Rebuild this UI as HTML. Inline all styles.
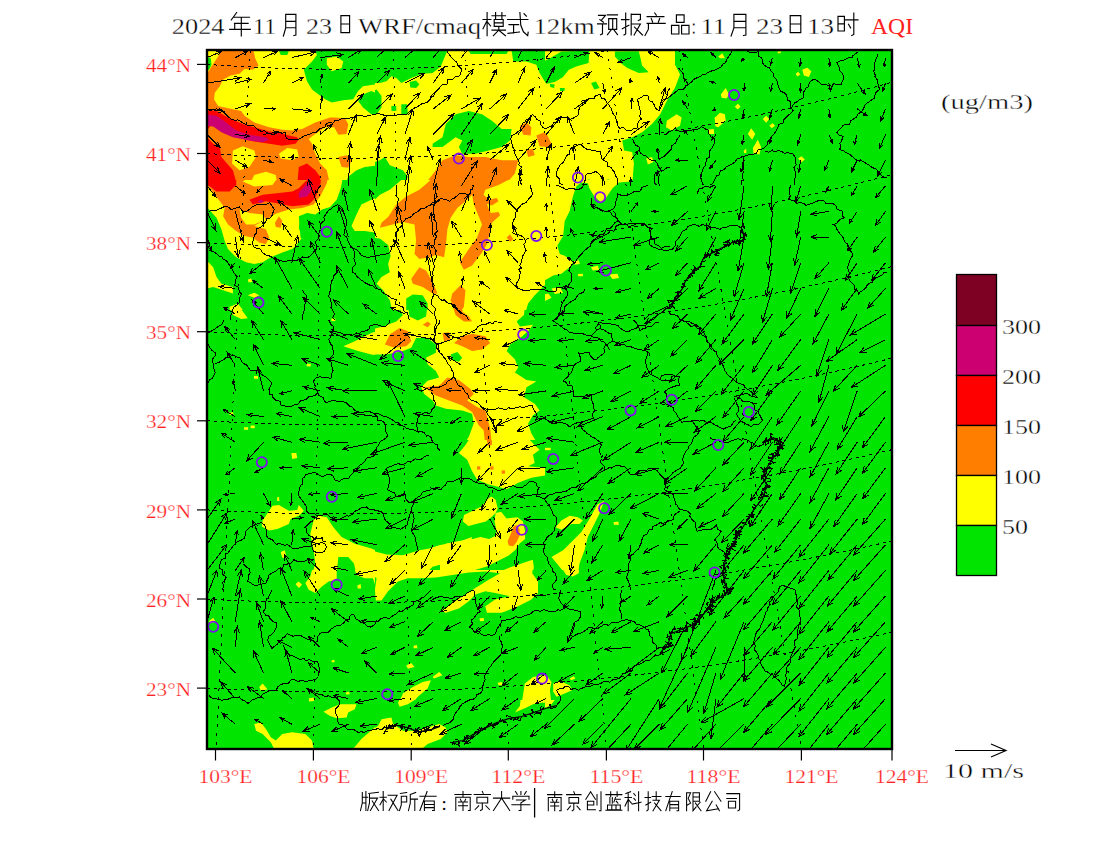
<!DOCTYPE html>
<html><head><meta charset="utf-8"><style>
html,body{margin:0;padding:0;background:#fff;width:1100px;height:850px;overflow:hidden}
svg{display:block}
text{font-family:"Liberation Serif",serif}
.lab{font-size:19px;stroke:#fff;stroke-width:0.25px}
.leg{font-size:21px;stroke:#fff;stroke-width:0.35px}
</style></head><body>
<svg width="1100" height="850" viewBox="0 0 1100 850">
<rect x="207" y="50" width="685" height="699" fill="#00E400"/>
<defs>
<clipPath id="cz1"><rect x="207" y="50" width="168" height="130"/></clipPath>
<clipPath id="cz2"><rect x="375" y="50" width="170" height="130"/></clipPath>
<clipPath id="cz3"><rect x="545" y="50" width="172" height="130"/></clipPath>
<clipPath id="cz4"><rect x="717" y="50" width="175" height="130"/></clipPath>
<clipPath id="cz5"><rect x="207" y="180" width="168" height="130"/></clipPath>
<clipPath id="cz6"><rect x="375" y="180" width="170" height="130"/></clipPath>
<clipPath id="cz7"><rect x="545" y="180" width="172" height="130"/></clipPath>
<clipPath id="cz9"><rect x="207" y="310" width="168" height="130"/></clipPath>
<clipPath id="cz10"><rect x="375" y="310" width="170" height="130"/></clipPath>
<clipPath id="cz13"><rect x="207" y="440" width="168" height="130"/></clipPath>
<clipPath id="cz14"><rect x="375" y="440" width="170" height="130"/></clipPath>
<clipPath id="cz15"><rect x="545" y="440" width="172" height="130"/></clipPath>
<clipPath id="cz17"><rect x="207" y="570" width="168" height="130"/></clipPath>
<clipPath id="cz18"><rect x="375" y="570" width="170" height="130"/></clipPath>
<clipPath id="cz19"><rect x="545" y="570" width="172" height="130"/></clipPath>
<clipPath id="cz21"><rect x="207" y="700" width="168" height="48"/></clipPath>
<clipPath id="cz22"><rect x="375" y="700" width="170" height="48"/></clipPath>
<clipPath id="cz23"><rect x="545" y="700" width="172" height="48"/></clipPath>
<clipPath id="cz114"><rect x="375" y="440" width="170" height="130"/></clipPath>
</defs>
<path clip-path="url(#cz1)" fill="#FFFF00" d="M207.0,50.0 375.0,50.0 375.0,180.0 207.0,180.0Z"/>
<path clip-path="url(#cz2)" fill="#FFFF00" d="M375.0,50.0 545.0,50.0 545.0,180.0 375.0,180.0Z"/>
<path clip-path="url(#cz3)" fill="#FFFF00" d="M545.0,50.0 717.0,50.0 717.0,180.0 545.0,180.0Z"/>
<path clip-path="url(#cz5)" fill="#FFFF00" d="M206.9,175.0 343.3,175.0 340.8,188.2 336.7,199.7 330.1,207.1 321.9,209.6 315.3,214.5 307.0,212.9 300.5,217.8 298.8,227.7 302.1,237.6 297.2,244.2 292.2,249.1 282.3,252.4 270.8,257.3 262.6,262.3 254.3,263.9 246.1,262.3 236.2,257.3 228.0,249.1 224.7,240.9 221.4,229.3 216.5,217.8 209.9,210.4 206.9,207.1Z"/>
<path clip-path="url(#cz5)" fill="#FFFF00" d="M351.5,226.1 356.5,214.5 361.4,204.6 371.3,199.7 380.0,196.4 380.0,234.3 374.6,232.6 364.7,231.0 354.8,231.0Z"/>
<path clip-path="url(#cz5)" fill="#FFFF00" d="M206.9,260.6 213.2,267.2 216.5,277.1 221.4,283.7 232.9,287.0 232.9,293.6 223.1,290.3 213.2,287.0 206.9,288.6Z"/>
<path clip-path="url(#cz5)" fill="#FFFF00" d="M229.6,306.7 237.9,303.5 242.8,310.0 242.8,315.0 229.6,315.0Z"/>
<path clip-path="url(#cz5)" fill="#FFFF00" d="M247.8,295.2 254.3,292.7 259.3,295.2 254.3,297.7Z"/>
<path clip-path="url(#cz5)" fill="#FFFF00" d="M247.8,279.6 251.1,278.4 252.4,281.7 248.6,282.4Z"/>
<path clip-path="url(#cz6)" fill="#FFFF00" d="M375.0,180.0 545.0,180.0 545.0,310.0 375.0,310.0Z"/>
<path clip-path="url(#cz7)" fill="#FFFF00" d="M540.0,175.0 632.2,175.0 631.4,181.6 619.0,182.4 612.5,188.2 605.9,198.1 600.9,202.2 594.3,196.4 589.4,188.2 587.8,183.2 581.2,182.4 576.2,186.5 572.9,196.4 569.6,211.2 564.7,221.1 563.1,235.9 557.3,245.8 559.8,254.0 564.7,255.7 572.9,262.3 569.6,267.2 561.4,273.8 553.2,275.5 544.9,280.4 540.0,282.0Z"/>
<path clip-path="url(#cz7)" fill="#FFFF00" d="M540.0,295.2 548.2,293.6 551.5,297.7 544.9,301.0 540.0,301.0Z"/>
<path clip-path="url(#cz7)" fill="#FFFF00" d="M551.5,288.6 559.8,287.0 563.1,292.7 554.8,293.9Z"/>
<path clip-path="url(#cz7)" fill="#FFFF00" d="M572.9,261.5 578.7,260.3 579.9,263.9 574.6,264.8Z"/>
<path clip-path="url(#cz7)" fill="#FFFF00" d="M591.1,267.2 597.6,265.6 599.3,269.7 592.7,270.5Z"/>
<path clip-path="url(#cz7)" fill="#FFFF00" d="M609.2,274.6 617.4,273.8 619.0,277.9 612.5,279.1Z"/>
<path clip-path="url(#cz7)" fill="#FFFF00" d="M577.9,274.1 582.8,273.8 582.8,276.3 578.2,276.3Z"/>
<path clip-path="url(#cz9)" fill="#FFFF00" d="M229.6,305.0 237.9,305.0 242.8,311.6 247.8,318.2 241.2,319.0 232.9,314.9 231.3,309.9Z"/>
<path clip-path="url(#cz9)" fill="#FFFF00" d="M343.3,346.2 354.8,341.2 364.7,336.3 372.9,332.2 380.0,331.3 380.0,356.1 371.3,354.4 358.1,351.1Z"/>
<path clip-path="url(#cz9)" fill="#FFFF00" d="M306.7,363.8 310.7,363.8 310.7,366.4 306.7,366.4Z"/>
<path clip-path="url(#cz9)" fill="#FFFF00" d="M254.0,376.1 258.0,376.1 258.0,378.8 254.0,378.8Z"/>
<path clip-path="url(#cz9)" fill="#FFFF00" d="M331.4,318.5 335.4,318.5 335.4,321.1 331.4,321.1Z"/>
<path clip-path="url(#cz9)" fill="#FFFF00" d="M244.1,427.2 248.1,427.2 248.1,429.8 244.1,429.8Z"/>
<path clip-path="url(#cz9)" fill="#FFFF00" d="M250.7,425.5 254.7,425.5 254.7,428.2 250.7,428.2Z"/>
<path clip-path="url(#cz9)" fill="#FFFF00" d="M229.3,412.4 233.3,412.4 233.3,415.0 229.3,415.0Z"/>
<path clip-path="url(#cz10)" fill="#FFFF00" d="M370.0,329.7 383.2,326.4 396.3,321.5 402.9,314.9 399.6,308.3 393.1,305.0 524.8,305.0 524.0,314.9 516.6,321.5 519.9,326.4 533.0,324.8 528.1,331.3 518.2,339.6 510.0,344.5 506.7,351.1 514.9,359.3 518.2,367.6 514.9,372.5 526.5,379.9 536.3,381.6 526.5,387.3 524.0,397.2 534.7,403.8 539.6,410.4 533.0,415.3 528.1,423.6 531.4,433.5 536.3,441.7 534.7,445.0 463.9,445.0 468.8,436.7 473.8,423.6 472.1,413.7 462.2,410.4 445.8,408.8 435.9,405.5 432.6,400.5 424.3,393.9 421.1,387.3 427.6,380.8 439.2,377.5 435.9,370.9 427.6,364.3 426.0,357.7 435.9,352.8 435.9,344.5 427.6,337.9 416.1,337.9 411.2,347.8 402.9,351.1 386.5,354.4 370.0,354.4Z"/>
<path clip-path="url(#cz13)" fill="#FFFF00" d="M262.6,520.6 272.5,505.8 279.0,505.0 288.9,510.8 297.2,509.9 298.8,505.0 303.8,510.8 298.8,515.7 290.6,519.0 288.9,523.9 277.4,528.9 269.2,530.5 261.8,526.4Z"/>
<path clip-path="url(#cz13)" fill="#FFFF00" d="M310.3,533.8 313.6,520.6 318.6,515.7 326.8,517.3 333.4,527.2 341.6,537.1 354.8,543.7 371.3,548.6 380.0,551.9 380.0,575.0 356.5,575.0 354.0,563.5 348.2,556.9 338.3,556.9 336.7,575.0 312.0,575.0 315.3,563.5 313.6,550.3 312.0,542.0Z"/>
<path clip-path="url(#cz13)" fill="#FFFF00" d="M280.7,551.9 284.8,550.3 286.5,557.7 282.3,557.7Z"/>
<path clip-path="url(#cz13)" fill="#FFFF00" d="M291.4,453.1 296.3,453.1 297.2,458.1 292.2,458.9Z"/>
<path clip-path="url(#cz13)" fill="#FFFF00" d="M277.1,497.6 279.0,496.8 279.4,500.9 277.1,500.9Z"/>
<path clip-path="url(#cz14)" fill="#FFFF00" d="M468.8,435.0 524.8,435.0 534.7,444.9 539.6,449.8 533.0,454.8 534.7,463.0 528.1,466.3 544.6,467.9 550.0,467.1 550.0,474.5 531.4,477.8 518.2,482.8 506.7,489.3 495.2,486.1 488.6,484.4 477.0,479.5 472.1,471.2 467.2,459.7 458.9,453.1 465.5,444.9 468.8,439.9Z"/>
<path clip-path="url(#cz14)" fill="#FFFF00" d="M370.0,550.3 386.5,554.4 402.9,555.2 419.4,550.3 429.3,548.6 439.2,545.3 462.2,540.4 472.1,537.1 468.8,550.3 444.1,563.5 432.6,566.7 424.3,575.0 370.0,575.0Z"/>
<path clip-path="url(#cz15)" fill="#FFFF00" d="M551.5,556.9 563.1,550.3 572.9,540.4 581.2,532.2 589.4,519.0 597.6,504.2 604.2,500.9 599.3,514.0 592.7,527.2 587.8,537.1 584.5,550.3 579.5,563.5 577.9,575.0 566.3,575.0 558.1,565.1Z"/>
<path clip-path="url(#cz15)" fill="#FFFF00" d="M555.6,527.2 561.4,520.6 569.6,515.7 577.9,517.3 582.8,520.6 579.5,523.9 571.3,523.9 561.4,529.7Z"/>
<path clip-path="url(#cz15)" fill="#FFFF00" d="M541.6,447.8 550.7,447.8 550.7,450.2 541.6,450.2Z"/>
<path clip-path="url(#cz15)" fill="#FFFF00" d="M613.3,522.3 618.2,521.5 619.0,524.8 614.1,524.8Z"/>
<path clip-path="url(#cz15)" fill="#FFFF00" d="M540.0,469.6 544.9,470.4 544.1,472.9 540.0,472.9Z"/>
<path clip-path="url(#cz17)" fill="#FFFF00" d="M312.0,569.9 318.6,565.0 336.7,565.0 336.7,579.8 328.5,581.5 321.9,586.4 315.3,593.0 308.7,589.7 305.4,583.1 310.3,576.5Z"/>
<path clip-path="url(#cz17)" fill="#FFFF00" d="M354.8,565.0 380.0,565.0 380.0,599.6 376.2,597.9 376.2,588.1 372.9,578.2 364.7,578.2 356.5,574.9 354.8,569.9Z"/>
<path clip-path="url(#cz17)" fill="#FFFF00" d="M295.5,583.9 298.8,581.5 302.1,584.8 298.8,588.1Z"/>
<path clip-path="url(#cz17)" fill="#FFFF00" d="M209.1,621.0 213.2,617.7 215.6,621.8 209.9,623.5Z"/>
<path clip-path="url(#cz17)" fill="#FFFF00" d="M259.3,686.9 262.6,683.6 267.5,689.3 260.9,691.0Z"/>
<path clip-path="url(#cz17)" fill="#FFFF00" d="M357.3,585.6 360.6,583.9 361.1,588.4 357.8,588.4Z"/>
<path clip-path="url(#cz17)" fill="#FFFF00" d="M331.7,660.5 334.2,659.7 334.7,662.2 331.7,662.2Z"/>
<path clip-path="url(#cz17)" fill="#FFFF00" d="M308.7,698.4 313.6,697.6 314.5,701.7 309.5,701.7Z"/>
<path clip-path="url(#cz17)" fill="#FFFF00" d="M345.7,692.6 349.0,691.8 349.9,694.3 346.2,694.6Z"/>
<path clip-path="url(#cz17)" fill="#FFFF00" d="M341.6,703.3 354.8,702.5 356.5,705.0 341.6,705.0Z"/>
<path clip-path="url(#cz18)" fill="#FFFF00" d="M370.0,565.0 533.0,565.0 532.2,573.2 538.0,581.5 538.0,593.0 531.4,599.6 518.2,606.2 501.7,612.8 486.9,612.8 485.3,606.2 495.2,599.6 510.0,596.3 495.2,593.0 485.3,591.3 475.4,594.6 468.8,601.2 458.9,608.6 445.8,612.8 440.8,611.1 452.3,602.9 465.5,594.6 475.4,588.1 488.6,579.8 500.1,573.2 485.3,571.6 468.8,572.4 452.3,574.9 435.9,577.4 419.4,578.2 407.9,578.2 398.0,581.5 388.1,591.3 381.5,600.4 375.8,600.4 374.9,589.7 376.6,578.2 370.0,573.2Z"/>
<path clip-path="url(#cz18)" fill="#FFFF00" d="M398.0,705.0 402.9,693.5 412.8,686.9 422.7,681.9 430.9,680.3 427.6,688.5 417.8,696.7 411.2,705.0Z"/>
<path clip-path="url(#cz18)" fill="#FFFF00" d="M521.5,705.0 524.8,683.6 533.0,677.0 542.9,675.3 550.0,673.7 550.0,705.0Z"/>
<path clip-path="url(#cz18)" fill="#FFFF00" d="M432.6,677.0 439.2,672.0 442.5,675.3 434.2,678.6Z"/>
<path clip-path="url(#cz18)" fill="#FFFF00" d="M406.2,665.5 411.2,663.0 414.5,667.1 407.9,668.8Z"/>
<path clip-path="url(#cz18)" fill="#FFFF00" d="M413.6,645.7 416.9,644.9 417.4,648.2 413.6,648.2Z"/>
<path clip-path="url(#cz18)" fill="#FFFF00" d="M479.5,618.5 483.6,617.7 484.0,621.0 480.0,621.3Z"/>
<path clip-path="url(#cz18)" fill="#FFFF00" d="M497.6,682.7 501.7,681.9 502.6,685.2 498.5,685.2Z"/>
<path clip-path="url(#cz19)" fill="#FFFF00" d="M559.8,565.0 579.5,565.0 578.7,573.2 572.9,576.5 566.3,574.9Z"/>
<path clip-path="url(#cz19)" fill="#FFFF00" d="M540.0,677.0 546.6,675.3 551.5,681.9 549.9,690.2 551.5,705.0 540.0,705.0Z"/>
<path clip-path="url(#cz19)" fill="#FFFF00" d="M553.2,683.6 559.8,681.1 569.6,685.2 572.1,690.2 564.7,693.5 556.5,696.7 553.2,691.8Z"/>
<path clip-path="url(#cz19)" fill="#FFFF00" d="M569.6,678.6 573.8,676.2 575.4,678.6 571.3,680.3Z"/>
<path clip-path="url(#cz21)" fill="#FFFF00" d="M254.3,724.1 260.9,722.5 265.9,729.0 270.8,737.3 275.8,740.6 282.3,734.0 292.2,732.3 305.4,734.0 312.0,740.6 313.6,748.8 274.1,748.8 270.8,742.2 262.6,734.0 256.0,730.7Z"/>
<path clip-path="url(#cz21)" fill="#FFFF00" d="M323.5,711.8 331.7,707.6 340.0,704.3 356.5,704.3 354.8,709.3 348.2,712.6 346.6,717.5 336.7,718.3 330.1,715.9Z"/>
<path clip-path="url(#cz21)" fill="#FFFF00" d="M353.2,748.8 361.4,738.9 372.9,729.0 380.0,722.5 380.0,748.8Z"/>
<path clip-path="url(#cz21)" fill="#FFFF00" d="M259.3,685.4 261.8,683.8 268.3,689.5 262.6,691.2Z"/>
<path clip-path="url(#cz21)" fill="#FFFF00" d="M308.7,698.6 313.6,697.8 314.0,701.1 309.0,701.4Z"/>
<path clip-path="url(#cz21)" fill="#FFFF00" d="M332.6,660.7 335.0,660.2 335.0,662.4 332.6,662.4Z"/>
<path clip-path="url(#cz21)" fill="#FFFF00" d="M346.6,693.1 349.0,692.5 349.5,694.5 346.6,694.5Z"/>
<path clip-path="url(#cz22)" fill="#FFFF00" d="M398.0,702.7 402.9,692.8 412.8,686.2 424.3,681.3 430.9,681.3 426.0,689.5 417.8,697.8 407.9,704.3 399.6,706.8Z"/>
<path clip-path="url(#cz22)" fill="#FFFF00" d="M406.2,666.5 411.2,664.0 414.1,666.5 411.2,668.9 407.1,668.4Z"/>
<path clip-path="url(#cz22)" fill="#FFFF00" d="M432.6,676.3 439.2,673.1 441.6,674.7 437.5,678.0Z"/>
<path clip-path="url(#cz22)" fill="#FFFF00" d="M370.0,730.7 378.2,725.8 381.5,719.2 391.4,717.5 393.1,724.1 402.9,730.7 416.1,730.7 427.6,727.4 439.2,724.1 445.8,727.4 447.4,732.3 440.8,738.9 427.6,743.9 421.1,749.6 370.0,749.6Z"/>
<path clip-path="url(#cz22)" fill="#FFFF00" d="M514.9,712.6 519.9,706.0 521.5,691.2 523.2,681.3 531.4,676.3 541.3,674.7 550.0,674.7 550.0,702.7 541.3,702.7 533.0,704.3 526.5,707.6Z"/>
<path clip-path="url(#cz22)" fill="#FFFF00" d="M496.8,683.8 500.1,682.1 503.4,684.6 500.1,686.2Z"/>
<path clip-path="url(#cz22)" fill="#FFFF00" d="M544.6,707.6 550.0,706.8 550.0,710.9 545.4,710.9Z"/>
<path clip-path="url(#cz23)" fill="#FFFF00" d="M540.0,676.3 549.9,676.3 551.5,682.9 559.8,684.6 569.6,686.2 572.1,692.8 564.7,697.8 556.5,697.8 551.5,704.3 546.6,707.6 540.0,706.0Z"/>
<path clip-path="url(#cz23)" fill="#FFFF00" d="M640.5,657.4 642.9,656.9 642.9,658.6 640.5,658.6Z"/>
<path clip-path="url(#cz23)" fill="#FFFF00" d="M572.1,678.0 575.4,676.3 575.4,679.6 572.1,680.5Z"/>
<path clip-path="url(#cz114)" fill="#FFFF00" d="M464.0,515.1 472.7,510.7 481.5,506.4 488.0,498.7 491.3,496.5 495.6,499.8 497.8,508.5 495.6,512.9 491.3,517.3 485.8,521.6 477.1,523.8 468.4,526.0 462.9,521.6Z"/>
<path clip-path="url(#cz114)" fill="#FFFF00" d="M440.0,548.9 446.5,543.5 459.6,541.3 472.7,539.1 480.4,536.9 489.1,539.1 495.6,535.8 496.7,531.5 494.5,521.6 495.6,512.9 501.1,511.8 506.5,518.4 517.5,517.3 522.9,521.6 525.1,531.5 525.1,539.1 519.6,543.5 515.3,550.0 508.7,555.5 497.8,560.9 486.9,566.4 472.7,570.7 461.8,574.0 455.3,580.0 440.0,580.0Z"/>
<path clip-path="url(#cz114)" fill="#FFFF00" d="M486.9,580.0 496.7,572.9 509.8,567.5 522.9,563.1 532.7,559.8 533.8,566.4 532.7,580.0Z"/>
<path clip-path="url(#cz114)" fill="#FFFF00" d="M551.3,558.7 557.8,554.4 560.0,554.4 560.0,566.4 555.6,564.2Z"/>
<path clip-path="url(#cz1)" fill="#00E400" d="M315.3,50.8 380.0,50.8 380.0,82.9 374.6,84.5 363.0,86.2 358.1,91.1 353.2,99.3 343.3,100.2 331.7,102.6 325.2,99.3 318.6,94.4 312.0,89.5 307.0,81.2 303.8,69.7 312.0,61.5 316.9,54.9Z"/>
<path clip-path="url(#cz1)" fill="#00E400" d="M363.0,94.4 371.3,91.1 380.0,94.4 380.0,114.2 371.3,114.2 363.0,107.6 358.1,101.0Z"/>
<path clip-path="url(#cz1)" fill="#00E400" d="M279.0,50.8 288.9,50.8 287.3,54.9 280.7,54.9Z"/>
<path clip-path="url(#cz1)" fill="#00E400" d="M206.9,56.5 210.7,58.2 211.5,64.8 209.1,69.7 206.9,69.7Z"/>
<path clip-path="url(#cz1)" fill="#00E400" d="M344.9,185.0 348.2,176.7 356.5,170.2 364.7,166.9 380.0,165.2 380.0,185.0Z"/>
<path clip-path="url(#cz2)" fill="#00E400" d="M370.0,50.8 447.4,50.8 444.1,58.2 440.8,66.4 432.6,73.0 422.7,73.8 411.2,77.9 401.3,82.9 396.3,77.9 391.4,76.3 386.5,81.2 379.9,82.9 370.0,82.9Z"/>
<path clip-path="url(#cz2)" fill="#00E400" d="M370.0,91.1 376.6,89.5 381.5,96.1 381.5,107.6 376.6,114.2 370.0,114.2Z"/>
<path clip-path="url(#cz2)" fill="#00E400" d="M409.5,82.1 416.1,80.4 419.4,84.5 416.1,88.1 410.3,87.5Z"/>
<path clip-path="url(#cz2)" fill="#00E400" d="M391.4,105.9 396.3,105.9 396.3,110.9 391.4,110.9Z"/>
<path clip-path="url(#cz2)" fill="#00E400" d="M401.3,104.3 407.1,104.3 407.9,114.2 401.3,114.2Z"/>
<path clip-path="url(#cz2)" fill="#00E400" d="M468.8,50.8 508.3,50.8 506.7,54.1 470.5,54.1Z"/>
<path clip-path="url(#cz2)" fill="#00E400" d="M511.6,50.8 550.0,50.8 550.0,82.9 544.6,81.2 539.6,73.0 536.3,64.8 526.5,61.5 513.3,61.5Z"/>
<path clip-path="url(#cz2)" fill="#00E400" d="M432.6,143.8 442.5,137.2 445.8,124.0 455.6,114.2 468.8,110.9 482.0,114.2 491.9,120.8 501.7,129.0 511.6,129.0 510.0,140.5 501.7,147.1 488.6,150.4 475.4,153.7 462.2,153.7 458.9,147.1 462.2,140.5 455.6,137.2 442.5,147.1 432.6,147.1Z"/>
<path clip-path="url(#cz2)" fill="#00E400" d="M370.0,163.6 379.9,160.3 384.8,157.0 389.8,165.2 402.9,170.2 407.9,176.7 402.9,185.0 370.0,185.0Z"/>
<path clip-path="url(#cz3)" fill="#00E400" d="M540.0,63.1 549.9,58.2 561.4,51.6 589.4,50.8 588.6,63.1 576.2,66.4 568.8,69.7 563.1,77.1 554.8,82.1 546.6,83.7 540.0,77.9Z"/>
<path clip-path="url(#cz3)" fill="#00E400" d="M549.9,83.7 554.8,84.5 554.0,88.1 550.2,87.0Z"/>
<path clip-path="url(#cz3)" fill="#00E400" d="M559.8,88.1 564.7,88.1 564.4,91.1 560.1,91.1Z"/>
<path clip-path="url(#cz3)" fill="#00E400" d="M591.1,82.9 596.0,81.6 599.6,88.1 594.3,89.5Z"/>
<path clip-path="url(#cz3)" fill="#00E400" d="M614.9,51.6 638.8,51.3 640.5,58.2 642.1,65.6 648.7,72.2 638.8,73.0 627.3,68.1 620.7,63.1 614.9,56.5Z"/>
<path clip-path="url(#cz3)" fill="#00E400" d="M675.0,50.8 720.0,50.8 720.0,185.0 632.2,185.0 633.9,163.6 632.2,152.0 624.0,150.4 622.3,140.5 632.2,137.2 642.1,132.3 652.0,124.0 660.2,114.2 666.8,101.0 675.0,87.8 680.0,74.6 675.0,64.8Z"/>
<path clip-path="url(#cz3)" fill="#00E400" d="M584.5,180.9 589.4,179.2 590.2,185.0 583.6,185.0Z"/>
<path clip-path="url(#cz3)" fill="#00E400" d="M602.6,180.9 609.2,179.2 610.0,185.0 601.8,185.0Z"/>
<path clip-path="url(#cz5)" fill="#00E400" d="M298.8,216.2 307.0,212.9 315.3,216.2 318.6,224.4 316.9,237.6 307.0,240.9 300.5,237.6Z"/>
<path clip-path="url(#cz6)" fill="#00E400" d="M370.0,175.0 406.2,175.0 399.6,181.6 389.8,189.8 379.9,194.8 374.9,199.7 370.0,206.3Z"/>
<path clip-path="url(#cz6)" fill="#00E400" d="M370.0,237.6 379.9,238.4 388.1,245.0 390.6,255.7 388.1,263.9 389.8,272.2 381.5,277.1 376.6,283.7 383.2,290.3 389.8,300.2 393.1,315.0 370.0,315.0Z"/>
<path clip-path="url(#cz6)" fill="#00E400" d="M406.2,298.5 412.8,294.4 422.7,295.2 427.6,303.5 427.6,315.0 406.2,315.0Z"/>
<path clip-path="url(#cz6)" fill="#00E400" d="M524.8,315.0 528.1,303.5 534.7,295.2 542.9,287.0 550.0,280.4 550.0,315.0Z"/>
<path clip-path="url(#cz10)" fill="#00E400" d="M407.9,305.0 427.6,305.0 426.0,316.5 417.8,320.6 409.5,316.5Z"/>
<path clip-path="url(#cz10)" fill="#00E400" d="M450.7,354.4 457.3,351.9 462.2,357.7 458.9,361.8 452.3,360.2Z"/>
<path clip-path="url(#cz1)" fill="#FFFF00" d="M326.8,58.2 336.7,56.5 343.3,61.5 341.6,68.1 331.7,71.3 326.8,64.8Z"/>
<path clip-path="url(#cz3)" fill="#FFFF00" d="M666.8,120.8 676.7,114.2 681.6,117.5 680.0,125.7 671.7,130.6 666.0,127.3Z"/>
<path clip-path="url(#cz3)" fill="#FFFF00" d="M646.2,158.6 652.0,157.0 653.6,161.9 647.9,164.4Z"/>
<path clip-path="url(#cz3)" fill="#FFFF00" d="M714.6,117.5 720.0,114.2 720.0,127.3 715.4,126.5Z"/>
<path clip-path="url(#cz3)" fill="#FFFF00" d="M708.0,129.8 713.7,129.0 714.2,133.9 708.8,133.9Z"/>
<path clip-path="url(#cz4)" fill="#FFFF00" d="M802.3,69.7 807.2,67.7 811.3,71.3 808.9,77.1 803.9,75.5Z"/>
<path clip-path="url(#cz4)" fill="#FFFF00" d="M795.7,73.8 798.2,71.7 800.3,74.6 797.3,76.6Z"/>
<path clip-path="url(#cz4)" fill="#FFFF00" d="M720.8,94.4 725.7,88.1 729.0,94.4 726.5,98.5 721.6,97.7Z"/>
<path clip-path="url(#cz4)" fill="#FFFF00" d="M734.8,106.8 738.1,103.5 740.5,106.8 737.7,109.6Z"/>
<path clip-path="url(#cz4)" fill="#FFFF00" d="M715.0,117.5 719.9,112.8 724.9,114.2 725.7,120.8 718.3,127.3 715.0,126.5Z"/>
<path clip-path="url(#cz4)" fill="#FFFF00" d="M762.8,119.1 766.1,115.8 769.3,119.1 766.1,122.7Z"/>
<path clip-path="url(#cz4)" fill="#FFFF00" d="M769.3,125.7 772.6,123.2 775.1,125.7 771.8,128.2Z"/>
<path clip-path="url(#cz4)" fill="#FFFF00" d="M747.9,133.9 751.2,128.2 755.3,133.9 752.1,139.7Z"/>
<path clip-path="url(#cz4)" fill="#FFFF00" d="M752.9,147.9 757.8,139.7 761.1,147.1 759.5,154.5 753.7,153.7Z"/>
<path clip-path="url(#cz4)" fill="#FFFF00" d="M798.2,158.6 801.5,156.2 804.8,159.5 801.5,162.3Z"/>
<path clip-path="url(#cz4)" fill="#FFFF00" d="M718.3,56.5 722.4,53.2 724.9,58.2 719.9,58.2Z"/>
<path clip-path="url(#cz4)" fill="#FFFF00" d="M777.6,51.6 780.9,51.3 780.5,53.2 777.9,53.2Z"/>
<path clip-path="url(#cz4)" fill="#FFFF00" d="M743.8,150.4 746.3,148.8 746.3,152.9 744.0,152.9Z"/>
<path clip-path="url(#cz1)" fill="#FF7E00" d="M221.4,50.8 253.5,50.8 255.2,58.2 258.5,65.6 252.7,69.7 244.5,68.9 239.5,73.8 230.5,75.5 223.1,79.6 219.8,86.2 214.8,92.8 214.0,99.3 218.1,105.9 229.6,108.4 241.2,110.9 244.5,115.8 254.3,122.4 269.2,127.3 282.3,129.8 292.2,130.6 302.1,129.0 315.3,122.4 330.1,117.5 334.2,117.5 344.9,118.3 348.2,124.0 346.6,133.9 338.3,134.8 334.2,127.3 325.2,127.3 315.3,133.9 308.7,138.9 312.0,143.8 315.3,153.7 320.2,163.6 326.8,170.2 330.1,185.0 206.9,185.0 206.9,73.8 211.5,66.4 218.1,56.5Z"/>
<path clip-path="url(#cz1)" fill="#FF7E00" d="M338.3,157.0 346.6,155.3 351.5,160.3 348.2,167.7 341.6,166.9Z"/>
<path clip-path="url(#cz2)" fill="#FF7E00" d="M424.3,185.0 435.9,170.2 442.5,160.3 455.6,155.3 468.8,157.0 485.3,157.0 501.7,160.3 518.2,160.3 514.9,173.5 505.0,185.0Z"/>
<path clip-path="url(#cz2)" fill="#FF7E00" d="M519.9,125.7 526.5,122.4 531.4,127.3 530.6,135.6 523.2,134.8Z"/>
<path clip-path="url(#cz2)" fill="#FF7E00" d="M536.3,135.6 544.6,132.3 550.0,133.9 550.0,147.1 539.6,146.3Z"/>
<path clip-path="url(#cz2)" fill="#FF7E00" d="M526.5,150.4 533.0,148.8 534.7,155.3 528.1,157.0Z"/>
<path clip-path="url(#cz3)" fill="#FF7E00" d="M540.0,132.3 546.6,133.9 551.5,143.8 550.7,147.1 540.0,147.1Z"/>
<path clip-path="url(#cz5)" fill="#FF7E00" d="M206.9,175.0 328.5,175.0 326.8,183.2 320.2,196.4 313.6,204.6 302.1,207.9 288.9,209.6 275.8,213.7 269.2,217.8 262.6,221.1 254.3,226.1 265.9,229.3 269.2,237.6 265.9,244.2 259.3,242.5 252.7,237.6 244.5,235.9 236.2,231.0 228.0,224.4 223.1,216.2 224.7,207.9 219.8,201.3 209.9,188.2 206.9,184.9Z"/>
<path clip-path="url(#cz5)" fill="#FF7E00" d="M274.9,222.8 279.0,216.2 282.3,221.1 280.7,227.7 275.8,226.9Z"/>
<path clip-path="url(#cz6)" fill="#FF7E00" d="M434.2,175.0 514.9,175.0 511.6,178.3 498.5,184.9 485.3,189.8 483.6,194.8 488.6,199.7 496.8,198.1 498.5,201.3 491.9,205.5 486.9,203.8 488.6,208.8 491.0,212.9 498.5,212.1 500.1,215.3 491.9,222.8 489.4,234.3 486.9,244.2 482.0,252.4 472.1,265.6 463.9,269.7 459.8,262.3 468.8,249.1 477.0,237.6 482.0,224.4 478.7,216.2 473.8,204.6 472.1,194.8 465.5,201.3 457.3,207.9 450.7,217.8 447.4,229.3 445.8,245.8 444.1,257.3 435.9,254.9 429.3,257.3 419.4,259.0 414.5,254.0 416.1,240.9 414.5,224.4 402.9,221.9 389.8,225.2 379.9,227.7 381.5,222.8 388.1,217.0 396.3,204.6 406.2,196.4 419.4,189.8 432.6,178.3Z"/>
<path clip-path="url(#cz6)" fill="#FF7E00" d="M411.2,278.8 419.4,267.2 426.0,270.5 432.6,282.0 437.5,293.6 432.6,293.6 422.7,287.0 412.8,283.7Z"/>
<path clip-path="url(#cz6)" fill="#FF7E00" d="M452.3,293.6 460.6,285.3 465.5,290.3 463.9,306.7 458.9,315.0 454.0,310.0 450.7,300.2Z"/>
<path clip-path="url(#cz6)" fill="#FF7E00" d="M506.7,237.6 510.0,234.3 513.3,239.2 510.0,241.7Z"/>
<path clip-path="url(#cz10)" fill="#FF7E00" d="M384.8,344.5 389.8,334.6 399.6,328.1 407.9,331.3 411.2,341.2 406.2,346.2 394.7,347.8Z"/>
<path clip-path="url(#cz10)" fill="#FF7E00" d="M422.7,324.8 427.6,321.5 430.9,323.9 427.6,327.2Z"/>
<path clip-path="url(#cz10)" fill="#FF7E00" d="M432.6,305.0 439.2,305.0 437.5,308.3 434.2,308.3Z"/>
<path clip-path="url(#cz10)" fill="#FF7E00" d="M452.3,305.0 463.9,305.0 462.2,311.6 468.8,316.5 472.1,321.5 463.9,321.5 455.6,314.9Z"/>
<path clip-path="url(#cz10)" fill="#FF7E00" d="M442.5,333.0 449.0,332.2 450.7,339.6 444.1,341.2Z"/>
<path clip-path="url(#cz10)" fill="#FF7E00" d="M454.0,342.9 462.2,336.3 472.1,333.8 485.3,336.3 490.2,342.9 482.0,349.5 472.1,351.1 462.2,346.2Z"/>
<path clip-path="url(#cz10)" fill="#FF7E00" d="M424.3,387.3 439.2,385.7 447.4,377.5 458.9,379.9 470.5,389.0 473.8,393.9 467.2,400.5 477.0,407.1 485.3,410.4 490.2,428.5 491.9,445.0 485.3,445.0 483.6,430.2 478.7,425.2 472.1,412.0 462.2,405.5 449.0,400.5 435.9,395.6Z"/>
<path clip-path="url(#cz14)" fill="#FF7E00" d="M486.1,435.0 491.9,435.0 491.9,444.9 487.7,445.7Z"/>
<path clip-path="url(#cz14)" fill="#FF7E00" d="M477.0,466.3 480.3,466.3 480.3,469.6 477.0,469.6Z"/>
<path clip-path="url(#cz14)" fill="#FF7E00" d="M490.2,466.3 493.5,466.3 493.5,469.6 490.2,469.6Z"/>
<path clip-path="url(#cz14)" fill="#FF7E00" d="M501.7,470.4 505.0,470.4 505.0,473.7 501.7,473.7Z"/>
<path clip-path="url(#cz114)" fill="#FF7E00" d="M507.6,541.3 510.9,533.6 513.1,527.1 516.4,524.9 519.6,529.3 519.6,535.8 516.4,542.4 513.1,546.2 508.7,545.6Z"/>
<path clip-path="url(#cz1)" fill="#FFFF00" d="M232.9,150.4 242.8,146.3 254.3,150.4 256.0,157.0 249.4,166.9 239.5,170.2 232.1,163.6Z"/>
<path clip-path="url(#cz1)" fill="#FFFF00" d="M279.0,153.7 287.3,147.9 297.2,149.6 298.8,157.0 292.2,160.3 280.7,158.6Z"/>
<path clip-path="url(#cz1)" fill="#FFFF00" d="M249.4,185.0 254.3,175.1 265.9,171.8 275.8,175.1 277.4,185.0Z"/>
<path clip-path="url(#cz5)" fill="#FFFF00" d="M242.8,181.6 249.4,176.6 269.2,175.0 277.4,178.3 272.5,184.9 254.3,186.5Z"/>
<path clip-path="url(#cz5)" fill="#FFFF00" d="M239.5,209.6 249.4,212.9 262.6,214.5 265.9,219.5 254.3,224.4 246.1,224.4 241.2,217.8Z"/>
<path clip-path="url(#cz1)" fill="#FF0000" d="M206.9,110.1 216.5,110.9 228.0,117.5 242.8,124.0 254.3,127.3 269.2,131.5 282.3,133.1 285.6,134.8 297.2,137.2 298.8,139.7 295.5,143.8 282.3,145.8 269.2,143.8 252.7,141.3 236.2,137.2 224.7,130.6 216.5,125.7 211.5,124.0 206.9,130.6Z"/>
<path clip-path="url(#cz1)" fill="#FF0000" d="M206.9,137.2 213.2,143.8 219.8,147.1 221.4,157.0 232.9,170.2 237.1,185.0 206.9,185.0Z"/>
<path clip-path="url(#cz1)" fill="#FF0000" d="M298.8,166.9 307.0,163.6 315.3,170.2 320.2,176.7 320.2,185.0 297.2,185.0Z"/>
<path clip-path="url(#cz5)" fill="#FF0000" d="M206.9,175.0 236.2,175.0 236.2,184.9 229.6,191.5 216.5,191.5 209.9,186.5 206.9,184.9Z"/>
<path clip-path="url(#cz5)" fill="#FF0000" d="M249.4,199.7 262.6,194.8 279.0,193.1 292.2,191.5 298.8,188.2 305.4,181.6 315.3,175.0 321.9,175.0 320.2,184.9 315.3,198.1 308.7,204.6 292.2,206.3 279.0,203.8 265.9,201.3 252.7,204.6Z"/>
<path clip-path="url(#cz1)" fill="#CC0070" d="M206.9,114.2 216.5,115.8 226.3,122.4 236.2,130.6 249.4,134.8 265.9,137.2 269.2,139.7 262.6,142.2 249.4,140.5 232.9,137.2 221.4,132.3 213.2,126.5 206.9,125.7Z"/>
<path clip-path="url(#cz1)" fill="#CC0070" d="M305.4,180.0 310.3,178.4 313.6,185.0 303.8,185.0Z"/>
<path clip-path="url(#cz5)" fill="#CC0070" d="M298.8,193.1 305.4,184.9 310.3,181.6 312.0,189.8 307.0,196.4 298.8,198.1Z"/>
<path clip-path="url(#cz5)" fill="#CC0070" d="M257.6,201.3 260.9,199.4 264.2,201.7 260.1,203.3Z"/>
<defs><clipPath id="mapclip"><rect x="207" y="50" width="685" height="699"/></clipPath></defs>
<g clip-path="url(#mapclip)"><path d="M207,64.4 L213,64.8 L219,65.2 L225,65.6 L231,66.0 L237,66.3 L243,66.6 L249,66.9 L255,67.2 L261,67.5 L267,67.7 L273,67.9 L279,68.2 L285,68.3 L291,68.5 L297,68.7 L303,68.8 L309,68.9 L315,69.0 L321,69.1 L327,69.2 L333,69.2 L339,69.2 L345,69.2 L351,69.2 L357,69.2 L363,69.1 L369,69.1 L375,69.0 L381,68.9 L387,68.7 L393,68.6 L399,68.4 L405,68.3 L411,68.1 L417,67.8 L423,67.6 L429,67.3 L435,67.1 L441,66.8 L447,66.5 L453,66.1 L459,65.8 L465,65.4 L471,65.0 L477,64.6 L483,64.2 L489,63.8 L495,63.3 L501,62.8 L507,62.3 L513,61.8 L519,61.2 L525,60.7 L531,60.1 L537,59.5 L543,58.9 L549,58.3 L555,57.6 L561,57.0 L567,56.3 L573,55.6 L579,54.8 L585,54.1 L591,53.3 L597,52.5 L603,51.7 L609,50.9 L615,50.1 L621,49.2 L627,48.3 L633,47.4 L639,46.5 L645,45.6 L651,44.6 L657,43.6 L663,42.6 L669,41.6 L675,40.6 L681,39.5 L687,38.5 L693,37.4 L699,36.2 L705,35.1 L711,34.0 L717,32.8 L723,31.6 L729,30.4 L735,29.2 L741,27.9 L747,26.6 L753,25.3 L759,24.0 L765,22.7 L771,21.3 L777,20.0 L783,18.6 L789,17.2 L795,15.7 L801,14.3 L807,12.8 L813,11.3 L819,9.8 L825,8.3 L831,6.7 L837,5.1 L843,3.5 L849,1.9 L855,0.3 L861,-1.4 L867,-3.0 L873,-4.7 L879,-6.5 L885,-8.2 L891,-10.0 L892,-10.3 M207,153.5 L213,153.9 L219,154.3 L225,154.6 L231,155.0 L237,155.3 L243,155.6 L249,155.9 L255,156.2 L261,156.4 L267,156.7 L273,156.9 L279,157.1 L285,157.3 L291,157.4 L297,157.6 L303,157.7 L309,157.8 L315,157.9 L321,158.0 L327,158.1 L333,158.1 L339,158.1 L345,158.1 L351,158.1 L357,158.1 L363,158.0 L369,158.0 L375,157.9 L381,157.8 L387,157.7 L393,157.5 L399,157.4 L405,157.2 L411,157.0 L417,156.8 L423,156.6 L429,156.3 L435,156.1 L441,155.8 L447,155.5 L453,155.2 L459,154.8 L465,154.5 L471,154.1 L477,153.7 L483,153.3 L489,152.9 L495,152.4 L501,152.0 L507,151.5 L513,151.0 L519,150.5 L525,150.0 L531,149.4 L537,148.8 L543,148.3 L549,147.6 L555,147.0 L561,146.4 L567,145.7 L573,145.1 L579,144.4 L585,143.6 L591,142.9 L597,142.2 L603,141.4 L609,140.6 L615,139.8 L621,139.0 L627,138.1 L633,137.3 L639,136.4 L645,135.5 L651,134.6 L657,133.7 L663,132.7 L669,131.7 L675,130.7 L681,129.7 L687,128.7 L693,127.7 L699,126.6 L705,125.5 L711,124.4 L717,123.3 L723,122.2 L729,121.0 L735,119.8 L741,118.6 L747,117.4 L753,116.2 L759,114.9 L765,113.7 L771,112.4 L777,111.1 L783,109.8 L789,108.4 L795,107.0 L801,105.7 L807,104.3 L813,102.8 L819,101.4 L825,99.9 L831,98.4 L837,96.9 L843,95.4 L849,93.9 L855,92.3 L861,90.7 L867,89.1 L873,87.5 L879,85.9 L885,84.2 L891,82.5 L892,82.3 M207,242.6 L213,243.0 L219,243.3 L225,243.7 L231,244.0 L237,244.3 L243,244.6 L249,244.9 L255,245.2 L261,245.4 L267,245.6 L273,245.8 L279,246.0 L285,246.2 L291,246.4 L297,246.5 L303,246.6 L309,246.7 L315,246.8 L321,246.9 L327,247.0 L333,247.0 L339,247.0 L345,247.0 L351,247.0 L357,247.0 L363,246.9 L369,246.9 L375,246.8 L381,246.7 L387,246.6 L393,246.4 L399,246.3 L405,246.1 L411,245.9 L417,245.7 L423,245.5 L429,245.3 L435,245.0 L441,244.8 L447,244.5 L453,244.2 L459,243.9 L465,243.5 L471,243.2 L477,242.8 L483,242.4 L489,242.0 L495,241.6 L501,241.1 L507,240.7 L513,240.2 L519,239.7 L525,239.2 L531,238.7 L537,238.1 L543,237.6 L549,237.0 L555,236.4 L561,235.8 L567,235.2 L573,234.5 L579,233.8 L585,233.2 L591,232.5 L597,231.7 L603,231.0 L609,230.3 L615,229.5 L621,228.7 L627,227.9 L633,227.1 L639,226.2 L645,225.4 L651,224.5 L657,223.6 L663,222.7 L669,221.8 L675,220.8 L681,219.9 L687,218.9 L693,217.9 L699,216.9 L705,215.8 L711,214.8 L717,213.7 L723,212.6 L729,211.5 L735,210.4 L741,209.2 L747,208.1 L753,206.9 L759,205.7 L765,204.5 L771,203.3 L777,202.0 L783,200.7 L789,199.5 L795,198.2 L801,196.8 L807,195.5 L813,194.1 L819,192.7 L825,191.3 L831,189.9 L837,188.5 L843,187.0 L849,185.6 L855,184.1 L861,182.6 L867,181.0 L873,179.5 L879,177.9 L885,176.4 L891,174.7 L892,174.5 M207,331.7 L213,332.1 L219,332.4 L225,332.7 L231,333.1 L237,333.4 L243,333.6 L249,333.9 L255,334.2 L261,334.4 L267,334.6 L273,334.8 L279,335.0 L285,335.2 L291,335.3 L297,335.5 L303,335.6 L309,335.7 L315,335.8 L321,335.8 L327,335.9 L333,335.9 L339,335.9 L345,335.9 L351,335.9 L357,335.9 L363,335.9 L369,335.8 L375,335.7 L381,335.6 L387,335.5 L393,335.4 L399,335.2 L405,335.1 L411,334.9 L417,334.7 L423,334.5 L429,334.3 L435,334.0 L441,333.8 L447,333.5 L453,333.2 L459,332.9 L465,332.6 L471,332.2 L477,331.9 L483,331.5 L489,331.1 L495,330.7 L501,330.3 L507,329.9 L513,329.4 L519,328.9 L525,328.4 L531,327.9 L537,327.4 L543,326.9 L549,326.3 L555,325.8 L561,325.2 L567,324.6 L573,323.9 L579,323.3 L585,322.6 L591,322.0 L597,321.3 L603,320.6 L609,319.9 L615,319.1 L621,318.4 L627,317.6 L633,316.8 L639,316.0 L645,315.2 L651,314.3 L657,313.5 L663,312.6 L669,311.7 L675,310.8 L681,309.9 L687,309.0 L693,308.0 L699,307.0 L705,306.0 L711,305.0 L717,304.0 L723,303.0 L729,301.9 L735,300.8 L741,299.7 L747,298.6 L753,297.5 L759,296.3 L765,295.2 L771,294.0 L777,292.8 L783,291.6 L789,290.3 L795,289.1 L801,287.8 L807,286.5 L813,285.2 L819,283.9 L825,282.6 L831,281.2 L837,279.8 L843,278.5 L849,277.0 L855,275.6 L861,274.2 L867,272.7 L873,271.2 L879,269.7 L885,268.2 L891,266.7 L892,266.4 M207,420.8 L213,421.2 L219,421.5 L225,421.8 L231,422.1 L237,422.4 L243,422.7 L249,422.9 L255,423.2 L261,423.4 L267,423.6 L273,423.8 L279,424.0 L285,424.1 L291,424.3 L297,424.4 L303,424.5 L309,424.6 L315,424.7 L321,424.8 L327,424.8 L333,424.9 L339,424.9 L345,424.9 L351,424.9 L357,424.8 L363,424.8 L369,424.7 L375,424.7 L381,424.6 L387,424.5 L393,424.3 L399,424.2 L405,424.1 L411,423.9 L417,423.7 L423,423.5 L429,423.3 L435,423.1 L441,422.8 L447,422.5 L453,422.3 L459,422.0 L465,421.7 L471,421.3 L477,421.0 L483,420.6 L489,420.3 L495,419.9 L501,419.5 L507,419.0 L513,418.6 L519,418.1 L525,417.7 L531,417.2 L537,416.7 L543,416.2 L549,415.6 L555,415.1 L561,414.5 L567,413.9 L573,413.3 L579,412.7 L585,412.1 L591,411.5 L597,410.8 L603,410.1 L609,409.4 L615,408.7 L621,408.0 L627,407.2 L633,406.5 L639,405.7 L645,404.9 L651,404.1 L657,403.3 L663,402.5 L669,401.6 L675,400.7 L681,399.9 L687,398.9 L693,398.0 L699,397.1 L705,396.1 L711,395.2 L717,394.2 L723,393.2 L729,392.2 L735,391.1 L741,390.1 L747,389.0 L753,387.9 L759,386.8 L765,385.7 L771,384.6 L777,383.4 L783,382.3 L789,381.1 L795,379.9 L801,378.7 L807,377.4 L813,376.2 L819,374.9 L825,373.6 L831,372.3 L837,371.0 L843,369.7 L849,368.3 L855,367.0 L861,365.6 L867,364.2 L873,362.8 L879,361.3 L885,359.9 L891,358.4 L892,358.2 M207,509.9 L213,510.2 L219,510.6 L225,510.9 L231,511.2 L237,511.4 L243,511.7 L249,511.9 L255,512.2 L261,512.4 L267,512.6 L273,512.8 L279,513.0 L285,513.1 L291,513.2 L297,513.4 L303,513.5 L309,513.6 L315,513.7 L321,513.7 L327,513.8 L333,513.8 L339,513.8 L345,513.8 L351,513.8 L357,513.8 L363,513.7 L369,513.7 L375,513.6 L381,513.5 L387,513.4 L393,513.3 L399,513.2 L405,513.0 L411,512.9 L417,512.7 L423,512.5 L429,512.3 L435,512.1 L441,511.8 L447,511.6 L453,511.3 L459,511.0 L465,510.7 L471,510.4 L477,510.1 L483,509.7 L489,509.4 L495,509.0 L501,508.6 L507,508.2 L513,507.8 L519,507.3 L525,506.9 L531,506.4 L537,505.9 L543,505.4 L549,504.9 L555,504.4 L561,503.9 L567,503.3 L573,502.7 L579,502.1 L585,501.5 L591,500.9 L597,500.3 L603,499.6 L609,499.0 L615,498.3 L621,497.6 L627,496.9 L633,496.1 L639,495.4 L645,494.6 L651,493.9 L657,493.1 L663,492.3 L669,491.4 L675,490.6 L681,489.7 L687,488.9 L693,488.0 L699,487.1 L705,486.2 L711,485.2 L717,484.3 L723,483.3 L729,482.4 L735,481.4 L741,480.4 L747,479.3 L753,478.3 L759,477.2 L765,476.2 L771,475.1 L777,474.0 L783,472.8 L789,471.7 L795,470.5 L801,469.4 L807,468.2 L813,467.0 L819,465.8 L825,464.5 L831,463.3 L837,462.0 L843,460.7 L849,459.4 L855,458.1 L861,456.8 L867,455.5 L873,454.1 L879,452.7 L885,451.3 L891,449.9 L892,449.7 M207,599.0 L213,599.3 L219,599.6 L225,599.9 L231,600.2 L237,600.5 L243,600.7 L249,601.0 L255,601.2 L261,601.4 L267,601.6 L273,601.8 L279,601.9 L285,602.1 L291,602.2 L297,602.3 L303,602.5 L309,602.5 L315,602.6 L321,602.7 L327,602.7 L333,602.8 L339,602.8 L345,602.8 L351,602.8 L357,602.7 L363,602.7 L369,602.7 L375,602.6 L381,602.5 L387,602.4 L393,602.3 L399,602.2 L405,602.0 L411,601.9 L417,601.7 L423,601.5 L429,601.3 L435,601.1 L441,600.9 L447,600.6 L453,600.4 L459,600.1 L465,599.8 L471,599.5 L477,599.2 L483,598.8 L489,598.5 L495,598.1 L501,597.8 L507,597.4 L513,597.0 L519,596.5 L525,596.1 L531,595.6 L537,595.2 L543,594.7 L549,594.2 L555,593.7 L561,593.2 L567,592.6 L573,592.1 L579,591.5 L585,590.9 L591,590.3 L597,589.7 L603,589.1 L609,588.5 L615,587.8 L621,587.1 L627,586.4 L633,585.7 L639,585.0 L645,584.3 L651,583.5 L657,582.8 L663,582.0 L669,581.2 L675,580.4 L681,579.6 L687,578.7 L693,577.9 L699,577.0 L705,576.1 L711,575.2 L717,574.3 L723,573.4 L729,572.5 L735,571.5 L741,570.5 L747,569.5 L753,568.5 L759,567.5 L765,566.5 L771,565.4 L777,564.4 L783,563.3 L789,562.2 L795,561.1 L801,560.0 L807,558.8 L813,557.7 L819,556.5 L825,555.3 L831,554.1 L837,552.9 L843,551.7 L849,550.4 L855,549.1 L861,547.9 L867,546.6 L873,545.3 L879,543.9 L885,542.6 L891,541.2 L892,541.0 M207,688.1 L213,688.4 L219,688.7 L225,689.0 L231,689.3 L237,689.5 L243,689.8 L249,690.0 L255,690.2 L261,690.4 L267,690.6 L273,690.8 L279,690.9 L285,691.1 L291,691.2 L297,691.3 L303,691.4 L309,691.5 L315,691.6 L321,691.7 L327,691.7 L333,691.7 L339,691.7 L345,691.8 L351,691.7 L357,691.7 L363,691.7 L369,691.6 L375,691.6 L381,691.5 L387,691.4 L393,691.3 L399,691.2 L405,691.0 L411,690.9 L417,690.7 L423,690.5 L429,690.3 L435,690.1 L441,689.9 L447,689.7 L453,689.4 L459,689.1 L465,688.9 L471,688.6 L477,688.3 L483,687.9 L489,687.6 L495,687.3 L501,686.9 L507,686.5 L513,686.1 L519,685.7 L525,685.3 L531,684.9 L537,684.4 L543,684.0 L549,683.5 L555,683.0 L561,682.5 L567,682.0 L573,681.4 L579,680.9 L585,680.3 L591,679.7 L597,679.1 L603,678.5 L609,677.9 L615,677.3 L621,676.6 L627,676.0 L633,675.3 L639,674.6 L645,673.9 L651,673.2 L657,672.4 L663,671.7 L669,670.9 L675,670.2 L681,669.4 L687,668.6 L693,667.7 L699,666.9 L705,666.0 L711,665.2 L717,664.3 L723,663.4 L729,662.5 L735,661.6 L741,660.6 L747,659.7 L753,658.7 L759,657.7 L765,656.7 L771,655.7 L777,654.7 L783,653.7 L789,652.6 L795,651.5 L801,650.5 L807,649.4 L813,648.2 L819,647.1 L825,646.0 L831,644.8 L837,643.6 L843,642.4 L849,641.2 L855,640.0 L861,638.8 L867,637.5 L873,636.3 L879,635.0 L885,633.7 L891,632.4 L892,632.2" fill="none" stroke="#000" stroke-width="1" stroke-dasharray="3.2,3.6" shape-rendering="crispEdges"/>
<path d="M250.2,50 L216.1,749 M321.6,50 L313.6,749 M393.2,50 L411.4,749 M464.4,50 L508.6,749 M536.2,50 L606.6,749 M607.4,50 L703.8,749 M679.0,50 L801.6,749" fill="none" stroke="#000" stroke-width="1" stroke-dasharray="2.5,6.5" shape-rendering="crispEdges"/>
<g clip-path="url(#mapclip)"><path d="M207.0,57.6L222.0,51.3M216.3,51.4L222.0,51.3L218.0,55.3M235.3,57.6L247.7,51.3M242.8,51.7L247.7,51.3L244.5,55.0M263.5,57.6L277.5,51.3M272.2,51.5L277.5,51.3L273.8,55.2M291.8,57.6L315.8,51.9M308.9,50.8L315.8,51.9L310.1,56.0M320.1,57.6L343.1,54.6M336.3,52.8L343.1,54.6L337.0,58.0M348.4,57.6L361.7,49.1M356.2,50.1L361.7,49.1L358.5,53.6M376.6,57.6L389.1,45.5M383.5,47.8L389.1,45.5L386.6,51.1M404.9,57.6L419.1,45.3M412.9,47.4L419.1,45.3L416.1,51.1M433.2,57.6L445.0,43.4M439.3,46.5L445.0,43.4L443.0,49.6M461.4,57.6L472.3,43.6M466.9,46.7L472.3,43.6L470.6,49.6M489.7,57.6L498.5,43.6M493.8,47.0L498.5,43.6L497.5,49.3M518.0,57.6L526.1,43.5M521.6,47.0L526.1,43.5L525.3,49.1M546.2,57.6L555.1,46.2M550.8,48.7L555.1,46.2L553.7,51.1M574.5,57.6L587.5,52.6M582.6,52.5L587.5,52.6L583.9,55.9M602.8,57.6L595.8,53.6M598.3,56.7L595.8,53.6L599.7,54.1M631.0,57.6L618.0,62.6M622.9,62.7L618.0,62.6L621.6,59.3M659.3,57.6L648.3,51.6M651.1,55.0L648.3,51.6L652.7,52.1M687.6,57.6L682.4,53.7M684.4,57.1L682.4,53.7L686.2,54.7M715.9,57.6L710.9,52.6M712.4,56.3L710.9,52.6L714.5,54.2M744.1,57.6L741.5,61.4M744.9,59.2L741.5,61.4L742.4,57.5M772.4,57.6L770.4,65.0M772.8,61.8L770.4,65.0L769.9,61.1M800.7,57.6L799.8,66.1M801.7,62.6L799.8,66.1L798.7,62.3M828.9,57.6L829.8,66.4M830.9,62.6L829.8,66.4L827.9,62.9M857.2,57.6L859.7,67.4M860.3,63.5L859.7,67.4L857.4,64.2M885.5,57.6L884.2,66.8M886.2,63.4L884.2,66.8L883.2,62.9M207.0,83.2L240.6,77.8M233.8,76.3L240.6,77.8L234.6,81.5M235.3,83.2L251.3,79.2M245.6,78.4L251.3,79.2L246.6,82.6M263.5,83.2L270.5,71.2M266.7,74.2L270.5,71.2L269.8,76.1M291.8,83.2L303.8,77.2M299.1,77.6L303.8,77.2L300.7,80.8M320.1,83.2L322.1,74.2M319.8,77.5L322.1,74.2L322.7,78.2M348.4,83.2L358.9,71.7M354.0,74.1L358.9,71.7L357.0,76.9M376.6,83.2L389.6,70.2M383.7,72.8L389.6,70.2L387.1,76.2M404.9,83.2L424.9,73.2M417.9,73.8L424.9,73.2L420.3,78.5M433.2,83.2L444.2,67.2M438.5,71.0L444.2,67.2L442.7,73.9M461.4,83.2L473.4,69.2M467.7,72.2L473.4,69.2L471.4,75.4M489.7,83.2L496.7,69.2M492.6,72.9L496.7,69.2L496.3,74.7M518.0,83.2L525.0,67.2M520.6,71.5L525.0,67.2L524.8,73.4M546.2,83.2L554.2,67.2M549.5,71.4L554.2,67.2L553.7,73.5M574.5,83.2L590.5,72.2M583.9,73.7L590.5,72.2L586.8,77.9M602.8,83.2L604.8,93.2M605.5,89.3L604.8,93.2L602.6,89.9M631.0,83.2L630.2,78.6M629.4,82.5L630.2,78.6L632.3,81.9M659.3,83.2L657.3,76.2M656.9,80.2L657.3,76.2L659.8,79.4M687.6,83.2L684.0,78.3M685.0,82.1L684.0,78.3L687.4,80.4M715.9,83.2L709.9,81.2M712.9,83.8L709.9,81.2L713.9,81.0M744.1,83.2L744.1,91.2M745.6,87.5L744.1,91.2L742.6,87.5M772.4,83.2L770.4,91.2M772.8,88.0L770.4,91.2L769.8,87.3M800.7,83.2L800.7,92.2M802.2,88.5L800.7,92.2L799.2,88.5M828.9,83.2L830.9,91.2M831.5,87.3L830.9,91.2L828.6,88.0M857.2,83.2L865.2,94.2M864.1,89.6L865.2,94.2L861.2,91.7M885.5,83.2L882.5,91.2M885.2,88.3L882.5,91.2L882.4,87.2M207.0,108.9L223.8,111.4M218.7,108.4L223.8,111.4L218.0,112.8M235.3,108.9L250.3,103.9M244.7,103.5L250.3,103.9L246.1,107.5M263.5,108.9L275.5,108.9M271.6,107.3L275.5,108.9L271.6,110.5M291.8,108.9L311.8,110.9M305.6,107.6L311.8,110.9L305.1,112.8M320.1,108.9L322.1,96.9M319.9,100.5L322.1,96.9L323.0,101.0M348.4,108.9L363.4,93.9M356.9,96.6L363.4,93.9L360.6,100.3M376.6,108.9L392.6,93.9M386.1,96.4L392.6,93.9L389.7,100.2M404.9,108.9L419.9,92.9M413.5,95.8L419.9,92.9L417.4,99.4M433.2,108.9L451.2,94.9M444.4,96.8L451.2,94.9L447.6,100.9M461.4,108.9L480.4,97.9M473.5,98.9L480.4,97.9L476.1,103.4M489.7,108.9L506.7,93.9M500.1,96.2L506.7,93.9L503.6,100.1M518.0,108.9L534.0,87.9M528.0,91.5L534.0,87.9L532.1,94.6M546.2,108.9L562.2,91.9M555.9,94.8L562.2,91.9L559.7,98.4M574.5,108.9L586.5,99.9M581.4,101.2L586.5,99.9L583.8,104.4M602.8,108.9L621.8,87.9M615.5,90.9L621.8,87.9L619.4,94.5M631.0,108.9L632.0,97.9M630.2,101.4L632.0,97.9L633.2,101.7M659.3,108.9L665.3,87.9M661.0,93.4L665.3,87.9L666.1,94.8M687.6,108.9L682.6,100.9M683.3,104.8L682.6,100.9L685.8,103.2M715.9,108.9L712.4,110.7M716.4,110.3L712.4,110.7L715.0,107.6M744.1,108.9L743.1,117.9M745.0,114.4L743.1,117.9L742.1,114.0M772.4,108.9L769.4,118.9M771.9,115.8L769.4,118.9L769.0,114.9M800.7,108.9L798.7,117.9M800.9,114.6L798.7,117.9L798.0,113.9M828.9,108.9L829.9,118.1M831.0,114.3L829.9,118.1L828.0,114.6M857.2,108.9L867.2,115.9M864.9,112.3L867.2,115.9L863.0,114.9M885.5,108.9L880.5,120.9M883.7,117.6L880.5,120.9L880.5,116.3M207.0,134.5L220.0,147.5M217.5,141.6L220.0,147.5L214.1,145.0M235.3,134.5L249.3,136.5M245.0,134.0L249.3,136.5L244.5,137.7M263.5,134.5L278.5,132.0M273.3,130.9L278.5,132.0L274.0,134.8M291.8,134.5L297.8,128.5M294.1,130.1L297.8,128.5L296.2,132.2M320.1,134.5L332.1,124.5M326.9,126.2L332.1,124.5L329.5,129.3M348.4,134.5L356.4,114.5M351.5,119.6L356.4,114.5L356.4,121.5M376.6,134.5L386.0,116.9M380.7,121.4L386.0,116.9L385.3,123.8M404.9,134.5L412.9,109.5M408.4,114.9L412.9,109.5L413.4,116.5M433.2,134.5L454.2,113.5M447.7,116.3L454.2,113.5L451.4,120.0M461.4,134.5L482.4,103.5M476.6,107.4L482.4,103.5L481.0,110.4M489.7,134.5L508.7,114.5M502.3,117.4L508.7,114.5L506.1,121.0M518.0,134.5L531.0,117.0M525.0,120.7L531.0,117.0L529.2,123.8M546.2,134.5L561.2,116.5M555.1,119.8L561.2,116.5L559.1,123.2M574.5,134.5L567.5,116.5M567.4,123.3L567.5,116.5L572.1,121.4M602.8,134.5L609.7,121.4M605.7,124.8L609.7,121.4L609.2,126.6M631.0,134.5L649.0,121.5M642.3,123.2L649.0,121.5L645.3,127.4M659.3,134.5L660.3,118.5M657.9,123.6L660.3,118.5L662.1,123.8M687.6,134.5L683.6,129.7M684.8,133.5L683.6,129.7L687.1,131.6M715.9,134.5L711.9,139.9M715.3,137.8L711.9,139.9L712.9,136.1M744.1,134.5L742.1,144.5M744.3,141.2L742.1,144.5L741.4,140.6M772.4,134.5L769.4,143.5M772.0,140.5L769.4,143.5L769.2,139.5M800.7,134.5L797.7,144.5M800.2,141.4L797.7,144.5L797.3,140.5M828.9,134.5L832.9,143.5M832.8,139.5L832.9,143.5L830.1,140.7M857.2,134.5L854.2,144.5M856.7,141.4L854.2,144.5L853.8,140.5M885.5,134.5L879.5,148.5M883.3,144.8L879.5,148.5L879.6,143.2M207.0,160.2L220.0,173.2M217.5,167.2L220.0,173.2L214.1,170.6M235.3,160.2L247.3,167.2M244.3,163.3L247.3,167.2L242.5,166.5M263.5,160.2L272.5,162.2M269.2,159.9L272.5,162.2L268.6,162.8M291.8,160.2L293.6,154.7M291.0,157.8L293.6,154.7L293.9,158.7M320.1,160.2L313.1,144.2M313.3,150.3L313.1,144.2L317.4,148.4M348.4,160.2L350.6,142.1M347.5,147.7L350.6,142.1L352.2,148.2M376.6,160.2L380.5,136.0M376.9,142.0L380.5,136.0L382.1,142.8M404.9,160.2L410.1,137.5M406.1,143.3L410.1,137.5L411.2,144.5M433.2,160.2L427.2,146.2M427.3,151.5L427.2,146.2L430.9,149.9M461.4,160.2L472.4,139.8M467.0,144.3L472.4,139.8L471.6,146.8M489.7,160.2L508.7,144.2M502.0,146.3L508.7,144.2L505.4,150.3M518.0,160.2L536.0,140.2M529.7,143.2L536.0,140.2L533.6,146.7M546.2,160.2L551.3,143.8M547.5,148.4L551.3,143.8L551.8,149.8M574.5,160.2L573.5,146.2M572.0,150.8L573.5,146.2L575.7,150.6M602.8,160.2L612.8,146.2M607.7,149.4L612.8,146.2L611.4,152.0M631.0,160.2L638.0,151.2M634.6,153.2L638.0,151.2L637.0,155.0M659.3,160.2L657.3,148.2M656.4,152.3L657.3,148.2L659.5,151.8M687.6,160.2L675.6,160.2M679.5,161.7L675.6,160.2L679.5,158.6M715.9,160.2L709.5,168.9M712.9,166.7L709.5,168.9L710.5,165.0M744.1,160.2L741.1,172.2M743.7,168.7L741.1,172.2L740.5,167.9M772.4,160.2L769.4,171.2M771.8,168.0L769.4,171.2L768.9,167.2M800.7,160.2L798.7,172.2M800.9,168.5L798.7,172.2L797.7,168.0M828.9,160.2L824.9,170.2M827.7,167.3L824.9,170.2L824.9,166.2M857.2,160.2L851.2,172.2M854.7,169.1L851.2,172.2L851.6,167.5M885.5,160.2L877.5,176.2M882.2,172.0L877.5,176.2L878.0,169.9M207.0,185.8L215.9,196.9M214.5,192.1L215.9,196.9L211.6,194.4M235.3,185.8L245.3,193.8M243.1,189.9L245.3,193.8L241.0,192.5M263.5,185.8L256.5,192.8M260.2,191.2L256.5,192.8L258.1,189.1M291.8,185.8L279.8,178.8M282.8,182.6L279.8,178.8L284.6,179.5M320.1,185.8L315.1,193.8M318.3,191.4L315.1,193.8L315.8,189.9M348.4,185.8L349.9,155.8M346.9,162.2L349.9,155.8L352.1,162.4M376.6,185.8L378.6,144.8M375.7,151.2L378.6,144.8L380.9,151.4M404.9,185.8L410.9,155.8M407.0,161.6L410.9,155.8L412.2,162.7M433.2,185.8L440.2,158.8M436.0,164.4L440.2,158.8L441.1,165.7M461.4,185.8L477.4,160.8M471.7,164.9L477.4,160.8L476.1,167.7M489.7,185.8L496.7,167.8M492.1,172.7L496.7,167.8L496.8,174.6M518.0,185.8L521.2,170.0M518.0,174.7L521.2,170.0L522.2,175.5M546.2,185.8L548.2,166.8M545.1,172.7L548.2,166.8L550.1,173.2M574.5,185.8L578.5,166.8M574.7,172.4L578.5,166.8L579.7,173.5M602.8,185.8L602.4,175.5M601.1,179.3L602.4,175.5L604.1,179.2M631.0,185.8L630.6,178.5M629.3,182.3L630.6,178.5L632.3,182.1M659.3,185.8L657.3,170.8M656.0,175.9L657.3,170.8L659.9,175.4M687.6,185.8L670.6,194.8M677.3,194.1L670.6,194.8L674.9,189.7M715.9,185.8L707.5,200.9M712.2,197.1L707.5,200.9L708.2,194.9M744.1,185.8L739.1,219.8M742.7,213.8L739.1,219.8L737.5,213.0M772.4,185.8L771.4,210.8M774.3,204.4L771.4,210.8L769.0,204.2M800.7,185.8L796.0,201.7M799.6,197.2L796.0,201.7L795.4,195.9M828.9,185.8L825.9,191.8M828.9,189.2L825.9,191.8L826.3,187.8M857.2,185.8L851.2,195.8M854.5,193.3L851.2,195.8L851.8,191.8M885.5,185.8L875.5,197.8M880.3,195.2L875.5,197.8L877.2,192.6M207.0,211.4L216.0,230.4M215.6,223.5L216.0,230.4L210.9,225.7M235.3,211.4L243.3,241.4M244.1,234.5L243.3,241.4L239.1,235.8M263.5,211.4L263.5,225.4M265.4,220.9L263.5,225.4L261.7,220.9M291.8,211.4L277.8,200.4M280.9,205.8L277.8,200.4L283.8,202.2M320.1,211.4L308.1,179.4M307.9,186.4L308.1,179.4L312.8,184.6M348.4,211.4L343.2,188.5M342.1,195.4L343.2,188.5L347.2,194.3M376.6,211.4L369.6,189.4M369.1,196.4L369.6,189.4L374.1,194.8M404.9,211.4L409.9,166.4M406.6,172.6L409.9,166.4L411.8,173.2M433.2,211.4L436.2,183.4M432.9,189.6L436.2,183.4L438.1,190.2M461.4,211.4L468.4,194.4M463.9,199.0L468.4,194.4L468.4,200.9M489.7,211.4L488.7,195.4M486.9,200.8L488.7,195.4L491.1,200.5M518.0,211.4L507.0,200.4M509.1,205.5L507.0,200.4L512.0,202.6M546.2,211.4L546.2,203.4M544.7,207.1L546.2,203.4L547.7,207.1M574.5,211.4L573.5,201.4M572.4,205.3L573.5,201.4L575.4,205.0M602.8,211.4L590.8,204.4M593.8,208.3L590.8,204.4L595.6,205.1M631.0,211.4L638.0,202.4M634.6,204.4L638.0,202.4L637.0,206.3M659.3,211.4L652.3,211.4M656.0,212.9L652.3,211.4L656.0,209.9M687.6,211.4L671.6,225.4M678.2,223.1L671.6,225.4L674.7,219.2M715.9,211.4L706.4,230.3M711.6,225.7L706.4,230.3L706.9,223.4M744.1,211.4L739.1,245.4M742.7,239.4L739.1,245.4L737.5,238.6M772.4,211.4L770.4,241.4M773.4,235.1L770.4,241.4L768.2,234.8M800.7,211.4L796.7,236.4M800.3,230.4L796.7,236.4L795.1,229.6M828.9,211.4L810.9,214.4M817.2,215.8L810.9,214.4L816.4,211.1M857.2,211.4L849.2,223.4M853.4,220.6L849.2,223.4L850.2,218.5M885.5,211.4L875.5,225.4M880.6,222.2L875.5,225.4L876.9,219.6M207.0,237.1L211.2,250.6M211.6,245.7L211.2,250.6L208.1,246.8M235.3,237.1L238.3,257.1M239.9,250.3L238.3,257.1L234.7,251.1M263.5,237.1L280.5,245.1M276.1,240.3L280.5,245.1L274.0,244.7M291.8,237.1L282.8,224.1M284.0,229.5L282.8,224.1L287.4,227.1M320.1,237.1L308.1,221.1M309.9,227.8L308.1,221.1L314.1,224.7M348.4,237.1L338.4,206.1M337.8,213.1L338.4,206.1L342.8,211.5M376.6,237.1L369.6,221.1M369.8,227.2L369.6,221.1L374.0,225.4M404.9,237.1L397.9,206.1M396.8,213.0L397.9,206.1L401.9,211.8M433.2,237.1L431.2,212.1M429.1,218.8L431.2,212.1L434.3,218.3M461.4,237.1L451.4,221.1M452.6,227.6L451.4,221.1L456.8,225.0M489.7,237.1L490.7,224.1M488.7,228.2L490.7,224.1L492.1,228.4M518.0,237.1L513.5,225.6M513.4,229.9L513.5,225.6L516.5,228.8M546.2,237.1L546.2,227.1M544.7,230.8L546.2,227.1L547.7,230.8M574.5,237.1L570.5,229.1M570.8,233.1L570.5,229.1L573.5,231.7M602.8,237.1L590.3,234.6M594.1,237.0L590.3,234.6L594.7,233.8M631.0,237.1L599.0,242.1M605.9,243.7L599.0,242.1L605.1,238.5M659.3,237.1L634.3,245.1M641.3,245.6L634.3,245.1L639.7,240.6M687.6,237.1L675.6,251.1M681.3,248.1L675.6,251.1L677.6,245.0M715.9,237.1L704.6,258.6M710.0,254.0L704.6,258.6L705.3,251.6M744.1,237.1L738.1,271.1M741.8,265.1L738.1,271.1L736.7,264.2M772.4,237.1L768.4,269.1M771.8,263.0L768.4,269.1L766.6,262.3M800.7,237.1L794.7,265.1M798.6,259.3L794.7,265.1L793.5,258.2M828.9,237.1L810.9,237.1M816.8,239.4L810.9,237.1L816.8,234.7M857.2,237.1L847.2,251.1M852.3,247.8L847.2,251.1L848.6,245.2M885.5,237.1L873.5,252.1M879.3,248.8L873.5,252.1L875.4,245.6M207.0,262.7L204.3,267.4M207.4,265.0L204.3,267.4L204.8,263.5M235.3,262.7L230.3,268.3M233.9,266.5L230.3,268.3L231.6,264.5M263.5,262.7L249.5,273.7M255.5,272.0L249.5,273.7L252.6,268.3M291.8,262.7L297.8,235.7M293.8,241.5L297.8,235.7L299.0,242.6M320.1,262.7L310.4,241.4M310.7,248.4L310.4,241.4L315.4,246.2M348.4,262.7L336.4,231.7M336.2,238.7L336.4,231.7L341.1,236.8M376.6,262.7L371.6,238.7M370.4,245.6L371.6,238.7L375.5,244.5M404.9,262.7L393.9,239.7M394.3,246.7L393.9,239.7L399.1,244.4M433.2,262.7L428.2,242.2M427.2,249.2L428.2,242.2L432.3,247.9M461.4,262.7L459.4,251.7M458.6,255.6L459.4,251.7L461.6,255.1M489.7,262.7L484.2,251.4M484.5,255.8L484.2,251.4L487.5,254.4M518.0,262.7L507.0,250.7M509.0,256.1L507.0,250.7L512.1,253.2M546.2,262.7L544.2,252.7M543.5,256.7L544.2,252.7L546.4,256.1M574.5,262.7L567.3,257.4M569.4,260.8L567.3,257.4L571.2,258.4M602.8,262.7L587.6,264.2M592.7,265.7L587.6,264.2L592.4,261.7M631.0,262.7L597.0,271.7M604.0,272.6L597.0,271.7L602.7,267.5M659.3,262.7L645.3,269.7M650.8,269.3L645.3,269.7L648.9,265.6M687.6,262.7L675.6,275.7M681.2,273.1L675.6,275.7L677.8,269.9M715.9,262.7L698.9,290.7M704.5,286.5L698.9,290.7L700.0,283.8M744.1,262.7L734.1,296.7M738.5,291.2L734.1,296.7L733.4,289.8M772.4,262.7L766.4,296.7M770.1,290.8L766.4,296.7L764.9,289.9M800.7,262.7L790.7,292.7M795.2,287.4L790.7,292.7L790.2,285.7M828.9,262.7L814.9,278.7M821.2,275.6L814.9,278.7L817.2,272.1M857.2,262.7L845.2,280.7M851.0,276.8L845.2,280.7L846.6,273.9M885.5,262.7L871.5,280.7M877.5,277.2L871.5,280.7L873.4,274.0M207.0,288.4L197.5,286.7M200.8,288.8L197.5,286.7L201.4,285.9M235.3,288.4L219.3,286.4M224.2,289.1L219.3,286.4L224.7,284.9M263.5,288.4L252.8,280.5M255.2,284.5L252.8,280.5L257.3,281.7M291.8,288.4L274.8,257.4M275.6,264.3L274.8,257.4L280.2,261.8M320.1,288.4L299.1,258.4M300.7,265.2L299.1,258.4L305.0,262.2M348.4,288.4L336.4,265.8M337.1,272.8L336.4,265.8L341.8,270.4M376.6,288.4L368.5,269.5M368.7,276.5L368.5,269.5L373.5,274.4M404.9,288.4L398.9,272.4M398.7,278.3L398.9,272.4L402.9,276.8M433.2,288.4L427.2,255.4M425.7,262.2L427.2,255.4L430.9,261.3M461.4,288.4L463.4,277.4M461.3,280.7L463.4,277.4L464.2,281.3M489.7,288.4L479.7,281.4M482.0,284.9L479.7,281.4L483.9,282.3M518.0,288.4L506.0,277.4M508.4,282.5L506.0,277.4L511.3,279.4M546.2,288.4L536.1,282.5M538.6,285.7L536.1,282.5L540.1,283.1M574.5,288.4L563.3,286.3M566.7,288.5L563.3,286.3L567.2,285.5M602.8,288.4L593.8,288.4M597.5,289.9L593.8,288.4L597.5,286.9M631.0,288.4L616.0,292.4M621.4,293.0L616.0,292.4L620.4,289.1M659.3,288.4L647.3,298.4M652.5,296.7L647.3,298.4L649.9,293.5M687.6,288.4L673.6,301.6M679.9,299.2L673.6,301.6L676.4,295.5M715.9,288.4L698.9,298.4M705.7,297.3L698.9,298.4L703.1,292.9M744.1,288.4L730.1,320.4M735.1,315.5L730.1,320.4L730.3,313.4M772.4,288.4L762.4,322.4M766.7,316.9L762.4,322.4L761.7,315.4M800.7,288.4L786.7,318.4M791.8,313.6L786.7,318.4L787.0,311.4M828.9,288.4L814.9,316.4M820.2,311.7L814.9,316.4L815.5,309.4M857.2,288.4L841.2,310.4M847.1,306.7L841.2,310.4L842.9,303.6M885.5,288.4L867.5,308.4M873.8,305.3L867.5,308.4L869.9,301.8M207.0,314.0L197.5,308.8M200.0,311.9L197.5,308.8L201.4,309.3M235.3,314.0L223.3,307.2M226.3,311.0L223.3,307.2L228.1,307.8M263.5,314.0L252.0,300.0M253.9,306.1L252.0,300.0L257.5,303.1M291.8,314.0L278.3,295.7M280.1,302.5L278.3,295.7L284.3,299.4M320.1,314.0L302.8,297.2M305.6,303.6L302.8,297.2L309.3,299.9M348.4,314.0L333.7,299.8M336.5,306.2L333.7,299.8L340.2,302.4M376.6,314.0L363.3,304.0M366.3,309.0L363.3,304.0L368.9,305.5M404.9,314.0L390.8,307.5M394.5,311.5L390.8,307.5L396.2,307.8M433.2,314.0L419.5,301.3M422.3,307.2L419.5,301.3L425.6,303.6M461.4,314.0L451.5,303.7M453.4,308.3L451.5,303.7L456.1,305.7M489.7,314.0L472.7,301.0M476.3,307.0L472.7,301.0L479.4,302.9M518.0,314.0L504.2,310.1M508.2,313.1L504.2,310.1L509.2,309.5M546.2,314.0L529.2,314.0M534.8,316.2L529.2,314.0L534.8,311.8M574.5,314.0L559.4,313.6M564.2,315.7L559.4,313.6L564.3,311.7M602.8,314.0L582.8,312.0M589.0,315.3L582.8,312.0L589.5,310.0M631.0,314.0L615.5,317.9M621.1,318.6L615.5,317.9L620.1,314.6M659.3,314.0L645.2,323.3M651.0,322.1L645.2,323.3L648.6,318.4M687.6,314.0L672.5,328.6M679.0,326.0L672.5,328.6L675.3,322.2M715.9,314.0L698.6,334.8M704.8,331.5L698.6,334.8L700.7,328.1M744.1,314.0L722.1,344.0M728.1,340.3L722.1,344.0L723.9,337.2M772.4,314.0L752.4,344.0M758.2,340.1L752.4,344.0L753.8,337.1M800.7,314.0L779.7,337.0M786.0,334.0L779.7,337.0L782.1,330.4M828.9,314.0L812.9,344.0M818.3,339.5L812.9,344.0L813.7,337.0M857.2,314.0L836.2,354.0M841.5,349.5L836.2,354.0L836.9,347.0M885.5,314.0L850.5,335.0M857.4,333.9L850.5,335.0L854.7,329.4M207.0,339.6L197.8,331.3M199.7,335.2L197.8,331.3L201.9,332.8M235.3,339.6L224.6,326.4M226.3,332.1L224.6,326.4L229.8,329.3M263.5,339.6L251.5,320.6M252.8,327.5L251.5,320.6L257.2,324.7M291.8,339.6L280.8,320.6M281.8,327.6L280.8,320.6L286.3,324.9M320.1,339.6L294.1,332.6M299.7,336.9L294.1,332.6L301.0,331.8M348.4,339.6L329.0,331.1M333.9,336.1L329.0,331.1L336.0,331.3M376.6,339.6L354.8,336.1M360.8,339.7L354.8,336.1L361.7,334.5M404.9,339.6L379.9,359.6M386.6,357.6L379.9,359.6L383.3,353.5M433.2,339.6L404.2,333.6M410.0,337.5L404.2,333.6L411.0,332.4M461.4,339.6L444.8,333.5M449.4,337.7L444.8,333.5L451.0,333.3M489.7,339.6L474.7,337.5M479.3,340.2L474.7,337.5L479.8,336.3M518.0,339.6L503.0,346.6M508.8,346.3L503.0,346.6L506.9,342.4M546.2,339.6L529.2,340.6M534.9,342.5L529.2,340.6L534.6,338.1M574.5,339.6L557.8,340.6M563.3,342.5L557.8,340.6L563.1,338.1M602.8,339.6L585.7,341.2M591.4,342.9L585.7,341.2L591.0,338.5M631.0,339.6L615.0,345.2M620.9,345.5L615.0,345.2L619.5,341.3M659.3,339.6L643.6,350.3M650.1,348.9L643.6,350.3L647.3,344.8M687.6,339.6L670.9,356.1M677.4,353.4L670.9,356.1L673.7,349.6M715.9,339.6L696.2,362.9M702.3,359.6L696.2,362.9L698.3,356.3M744.1,339.6L719.1,364.6M725.6,361.9L719.1,364.6L721.9,358.2M772.4,339.6L752.4,372.6M758.0,368.4L752.4,372.6L753.5,365.7M800.7,339.6L777.7,370.6M783.6,367.0L777.7,370.6L779.4,363.9M828.9,339.6L816.9,375.6M821.5,370.3L816.9,375.6L816.5,368.7M857.2,339.6L826.2,361.6M833.0,360.0L826.2,361.6L830.0,355.7M885.5,339.6L859.5,352.6M866.5,352.1L859.5,352.6L864.1,347.4M207.0,365.3L198.7,356.1M200.2,360.2L198.7,356.1L202.6,358.0M235.3,365.3L227.0,352.2M228.0,357.5L227.0,352.2L231.4,355.4M263.5,365.3L253.5,344.3M254.0,351.3L253.5,344.3L258.7,349.0M291.8,365.3L271.8,363.3M278.0,366.5L271.8,363.3L278.5,361.3M320.1,365.3L301.8,358.6M306.8,363.2L301.8,358.6L308.6,358.4M348.4,365.3L326.6,358.5M332.0,362.9L326.6,358.5L333.6,357.9M376.6,365.3L346.6,353.3M351.7,358.1L346.6,353.3L353.6,353.3M404.9,365.3L381.8,362.7M388.0,366.0L381.8,362.7L388.6,360.8M433.2,365.3L410.2,350.3M414.2,356.0L410.2,350.3L417.0,351.6M461.4,365.3L447.4,356.3M450.8,361.0L447.4,356.3L453.2,357.4M489.7,365.3L474.7,372.3M480.5,372.0L474.7,372.3L478.6,368.0M518.0,365.3L500.0,363.3M505.5,366.3L500.0,363.3L506.1,361.6M546.2,365.3L524.2,363.3M530.5,366.5L524.2,363.3L530.9,361.3M574.5,365.3L555.1,367.4M561.7,369.3L555.1,367.4L561.1,364.2M602.8,365.3L585.0,370.5M591.4,371.1L585.0,370.5L590.1,366.5M631.0,365.3L613.6,373.6M620.4,373.2L613.6,373.6L618.2,368.6M659.3,365.3L641.9,377.3M648.7,375.8L641.9,377.3L645.7,371.5M687.6,365.3L669.4,382.1M676.0,379.6L669.4,382.1L672.4,375.8M715.9,365.3L695.5,389.0M701.7,385.8L695.5,389.0L697.7,382.4M744.1,365.3L721.1,394.3M727.2,390.8L721.1,394.3L723.1,387.6M772.4,365.3L752.4,395.3M758.2,391.3L752.4,395.3L753.8,388.4M800.7,365.3L765.7,395.3M772.3,393.0L765.7,395.3L768.9,389.1M828.9,365.3L818.9,402.3M823.2,396.7L818.9,402.3L818.1,395.3M857.2,365.3L833.2,391.3M839.5,388.3L833.2,391.3L835.7,384.7M885.5,365.3L851.5,387.3M858.4,386.0L851.5,387.3L855.5,381.6M207.0,390.9L199.4,382.3M200.7,386.1L199.4,382.3L203.0,384.1M235.3,390.9L233.3,379.9M232.5,383.8L233.3,379.9L235.4,383.3M263.5,390.9L257.5,366.9M256.6,373.9L257.5,366.9L261.7,372.6M291.8,390.9L279.8,393.9M284.1,394.5L279.8,393.9L283.3,391.4M320.1,390.9L303.1,386.4M308.0,390.1L303.1,386.4L309.2,385.7M348.4,390.9L327.3,387.8M333.3,391.3L327.3,387.8L334.1,386.1M376.6,390.9L342.6,390.9M349.1,393.5L342.6,390.9L349.1,388.3M404.9,390.9L382.7,380.8M387.5,385.9L382.7,380.8L389.7,381.1M433.2,390.9L414.2,383.9M419.4,388.6L414.2,383.9L421.2,383.7M461.4,390.9L446.5,389.8M451.2,392.1L446.5,389.8L451.5,388.2M489.7,390.9L472.7,390.9M478.2,393.1L472.7,390.9L478.2,388.7M518.0,390.9L495.0,388.9M501.2,392.1L495.0,388.9L501.7,386.9M546.2,390.9L518.2,394.9M525.0,396.6L518.2,394.9L524.3,391.4M574.5,390.9L552.1,396.2M559.1,397.2L552.1,396.2L557.9,392.1M602.8,390.9L582.3,398.8M589.3,398.9L582.3,398.8L587.4,394.0M631.0,390.9L611.0,401.4M617.9,400.7L611.0,401.4L615.5,396.1M659.3,390.9L639.6,403.4M646.5,402.1L639.6,403.4L643.7,397.7M687.6,390.9L667.8,406.2M674.6,404.3L667.8,406.2L671.4,400.2M715.9,390.9L695.5,411.8M701.9,409.0L695.5,411.8L698.2,405.3M744.1,390.9L722.9,417.5M729.0,414.1L722.9,417.5L724.9,410.8M772.4,390.9L750.7,420.8M756.7,417.1L750.7,420.8L752.4,414.0M800.7,390.9L776.7,424.9M782.6,421.1L776.7,424.9L778.3,418.1M828.9,390.9L811.9,425.9M817.1,421.2L811.9,425.9L812.4,418.9M857.2,390.9L843.2,431.9M847.8,426.6L843.2,431.9L842.8,424.9M885.5,390.9L858.5,416.9M865.0,414.3L858.5,416.9L861.3,410.5M207.0,416.6L196.7,410.1M199.2,413.6L196.7,410.1L200.9,410.9M235.3,416.6L223.3,409.6M226.2,413.4L223.3,409.6L228.1,410.3M263.5,416.6L247.5,414.6M252.5,417.3L247.5,414.6L253.0,413.1M291.8,416.6L276.3,413.4M280.9,416.4L276.3,413.4L281.7,412.4M320.1,416.6L299.1,407.6M304.0,412.5L299.1,407.6L306.1,407.7M348.4,416.6L332.4,416.6M337.5,418.7L332.4,416.6L337.5,414.5M376.6,416.6L352.3,413.4M358.4,416.8L352.3,413.4L359.0,411.6M404.9,416.6L387.9,381.6M388.4,388.5L387.9,381.6L393.1,386.3M433.2,416.6L414.2,413.5M420.0,417.0L414.2,413.5L420.8,412.0M461.4,416.6L450.4,423.5M454.9,422.7L450.4,423.5L453.1,419.8M489.7,416.6L496.7,432.6M496.5,426.4L496.7,432.6L492.3,428.3M518.0,416.6L497.0,425.6M504.0,425.4L497.0,425.6L501.9,420.6M546.2,416.6L517.2,431.6M524.2,430.9L517.2,431.6L521.8,426.2M574.5,416.6L549.8,422.9M556.8,423.8L549.8,422.9L555.5,418.7M602.8,416.6L577.5,427.0M584.5,426.9L577.5,427.0L582.5,422.1M631.0,416.6L607.0,429.9M613.9,429.1L607.0,429.9L611.4,424.5M659.3,416.6L637.1,428.0M644.1,427.4L637.1,428.0L641.7,422.7M687.6,416.6L665.9,426.6M672.9,426.2L665.9,426.6L670.7,421.5M715.9,416.6L694.3,432.1M701.1,430.4L694.3,432.1L698.0,426.2M744.1,416.6L722.8,441.8M729.0,438.6L722.8,441.8L725.0,435.2M772.4,416.6L750.4,449.6M756.2,445.6L750.4,449.6L751.8,442.7M800.7,416.6L779.6,448.6M785.3,444.6L779.6,448.6L781.0,441.7M828.9,416.6L809.9,451.6M815.3,447.1L809.9,451.6L810.7,444.6M857.2,416.6L837.3,449.4M842.9,445.2L837.3,449.4L838.4,442.5M885.5,416.6L862.5,447.6M868.5,443.9L862.5,447.6L864.2,440.8M207.0,442.2L196.0,437.9M199.0,440.7L196.0,437.9L200.2,437.8M235.3,442.2L221.3,433.2M224.6,438.0L221.3,433.2L227.0,434.3M263.5,442.2L246.5,461.2M252.8,458.1L246.5,461.2L248.9,454.6M291.8,442.2L272.8,437.2M278.3,441.3L272.8,437.2L279.6,436.3M320.1,442.2L299.1,439.2M305.1,442.7L299.1,439.2L305.9,437.5M348.4,442.2L323.4,443.2M329.9,445.6L323.4,443.2L329.7,440.3M376.6,442.2L342.6,449.2M349.5,450.5L342.6,449.2L348.4,445.3M404.9,442.2L370.9,454.2M377.9,454.5L370.9,454.2L376.1,449.6M433.2,442.2L409.2,445.2M415.9,447.0L409.2,445.2L415.3,441.8M461.4,442.2L453.4,455.2M457.7,452.0L453.4,455.2L454.3,449.9M489.7,442.2L478.4,452.8M483.5,450.8L478.4,452.8L480.7,447.9M518.0,442.2L496.0,450.2M503.0,450.4L496.0,450.2L501.2,445.5M546.2,442.2L522.3,449.2M529.3,449.9L522.3,449.2L527.8,444.9M574.5,442.2L546.5,438.2M552.6,441.7L546.5,438.2L553.3,436.5M602.8,442.2L570.8,455.2M577.8,455.2L570.8,455.2L575.8,450.3M631.0,442.2L603.0,460.2M609.9,458.9L603.0,460.2L607.1,454.5M659.3,442.2L636.3,452.2M643.3,452.0L636.3,452.2L641.2,447.2M687.6,442.2L664.6,442.2M671.1,444.8L664.6,442.2L671.1,439.6M715.9,442.2L692.9,454.2M699.8,453.5L692.9,454.2L697.4,448.9M744.1,442.2L722.5,465.3M728.8,462.4L722.5,465.3L725.0,458.8M772.4,442.2L750.4,475.2M756.2,471.3L750.4,475.2L751.8,468.3M800.7,442.2L779.9,474.0M785.7,470.0L779.9,474.0L781.3,467.1M828.9,442.2L809.9,477.2M815.3,472.7L809.9,477.2L810.7,470.2M857.2,442.2L836.1,474.1M841.9,470.1L836.1,474.1L837.5,467.2M885.5,442.2L862.5,473.2M868.5,469.6L862.5,473.2L864.2,466.4M207.0,467.8L198.5,466.7M202.0,468.7L198.5,466.7L202.4,465.7M235.3,467.8L225.3,474.8M229.4,473.9L225.3,474.8L227.6,471.3M263.5,467.8L254.5,472.7M258.5,472.2L254.5,472.7L257.1,469.6M291.8,467.8L279.8,467.8M283.7,469.4L279.8,467.8L283.7,466.3M320.1,467.8L302.1,465.8M307.7,468.8L302.1,465.8L308.2,464.1M348.4,467.8L327.4,468.8M334.0,471.2L327.4,468.8L333.7,465.9M376.6,467.8L354.0,471.1M360.8,472.8L354.0,471.1L360.0,467.6M404.9,467.8L382.0,474.0M389.0,474.8L382.0,474.0L387.6,469.8M433.2,467.8L416.5,476.9M423.1,476.1L416.5,476.9L420.7,471.7M461.4,467.8L461.4,483.8M463.5,478.6L461.4,483.8L459.3,478.6M489.7,467.8L477.2,480.9M483.0,478.3L477.2,480.9L479.6,475.0M518.0,467.8L500.0,485.8M506.4,483.1L500.0,485.8L502.7,479.4M546.2,467.8L517.2,468.8M523.8,471.2L517.2,468.8L523.6,466.0M574.5,467.8L546.5,471.8M553.3,473.5L546.5,471.8L552.6,468.3M602.8,467.8L577.8,490.8M584.3,488.4L577.8,490.8L580.8,484.5M631.0,467.8L608.0,483.4M614.8,481.9L608.0,483.4L611.9,477.6M659.3,467.8L635.3,474.8M642.3,475.5L635.3,474.8L640.8,470.5M687.6,467.8L664.6,483.8M671.4,482.3L664.6,483.8L668.4,478.0M715.9,467.8L694.9,490.8M701.2,487.8L694.9,490.8L697.3,484.3M744.1,467.8L722.7,491.6M729.0,488.5L722.7,491.6L725.1,485.0M772.4,467.8L750.4,500.8M756.2,496.9L750.4,500.8L751.8,494.0M800.7,467.8L779.5,499.7M785.3,495.8L779.5,499.7L780.9,492.9M828.9,467.8L809.9,502.8M815.3,498.4L809.9,502.8L810.7,495.9M857.2,467.8L835.5,500.0M841.3,496.1L835.5,500.0L837.0,493.1M885.5,467.8L862.5,498.8M868.5,495.2L862.5,498.8L864.2,492.1M207.0,493.5L206.0,486.2M205.0,490.0L206.0,486.2L208.0,489.6M235.3,493.5L223.8,494.5M227.6,495.7L223.8,494.5L227.4,492.6M263.5,493.5L270.5,506.5M270.0,501.3L270.5,506.5L266.6,503.2M291.8,493.5L290.8,505.5M292.7,501.7L290.8,505.5L289.6,501.5M320.1,493.5L308.6,494.3M312.5,495.6L308.6,494.3L312.2,492.6M348.4,493.5L330.4,494.7M336.4,496.7L330.4,494.7L336.0,492.0M376.6,493.5L357.6,497.5M364.3,498.7L357.6,497.5L363.3,493.7M404.9,493.5L385.9,500.5M392.9,500.7L385.9,500.5L391.1,495.8M433.2,493.5L411.2,502.5M418.2,502.4L411.2,502.5L416.2,497.6M461.4,493.5L451.4,518.5M456.3,513.4L451.4,518.5L451.4,511.5M489.7,493.5L481.8,509.8M486.5,505.5L481.8,509.8L482.2,503.5M518.0,493.5L500.9,504.4M507.7,503.1L500.9,504.4L504.9,498.7M546.2,493.5L518.2,496.5M525.0,498.4L518.2,496.5L524.4,493.2M574.5,493.5L554.5,500.5M561.5,500.8L554.5,500.5L559.8,495.9M602.8,493.5L585.8,518.5M591.6,514.6L585.8,518.5L587.3,511.6M631.0,493.5L609.0,514.5M615.6,511.9L609.0,514.5L611.9,508.1M659.3,493.5L630.3,508.5M637.3,507.8L630.3,508.5L634.9,503.2M687.6,493.5L662.6,493.5M669.1,496.1L662.6,493.5L669.1,490.9M715.9,493.5L696.9,508.5M703.6,506.5L696.9,508.5L700.3,502.4M744.1,493.5L722.7,516.4M729.1,513.4L722.7,516.4L725.2,509.8M772.4,493.5L750.4,526.5M756.2,522.5L750.4,526.5L751.8,519.6M800.7,493.5L778.0,525.8M783.9,522.0L778.0,525.8L779.6,519.0M828.9,493.5L809.9,528.5M815.3,524.0L809.9,528.5L810.7,521.5M857.2,493.5L833.8,526.4M839.7,522.6L833.8,526.4L835.4,519.6M885.5,493.5L862.5,524.5M868.5,520.8L862.5,524.5L864.2,517.7M207.0,519.1L221.0,499.1M215.1,502.9L221.0,499.1L219.4,505.9M235.3,519.1L225.3,523.1M229.3,523.1L225.3,523.1L228.2,520.4M263.5,519.1L260.8,515.5M261.9,519.4L260.8,515.5L264.3,517.6M291.8,519.1L302.8,517.6M298.9,516.6L302.8,517.6L299.3,519.6M320.1,519.1L311.7,516.2M314.8,518.9L311.7,516.2L315.7,516.0M348.4,519.1L331.0,519.5M336.7,521.6L331.0,519.5L336.6,517.1M376.6,519.1L352.6,522.1M359.4,523.9L352.6,522.1L358.7,518.7M404.9,519.1L386.0,528.4M393.0,527.9L386.0,528.4L390.6,523.2M433.2,519.1L412.2,530.1M419.1,529.4L412.2,530.1L416.7,524.8M461.4,519.1L451.4,549.1M456.0,543.8L451.4,549.1L451.0,542.1M489.7,519.1L500.7,538.1M499.7,531.2L500.7,538.1L495.2,533.8M518.0,519.1L507.8,532.1M512.8,529.2L507.8,532.1L509.4,526.6M546.2,519.1L524.2,519.1M530.7,521.7L524.2,519.1L530.7,516.5M574.5,519.1L556.5,537.1M563.0,534.4L556.5,537.1L559.2,530.7M602.8,519.1L592.8,541.1M597.9,536.3L592.8,541.1L593.1,534.1M631.0,519.1L619.0,541.1M624.5,536.7L619.0,541.1L619.9,534.2M659.3,519.1L642.3,513.1M647.1,517.3L642.3,513.1L648.6,512.8M687.6,519.1L677.6,529.1M682.1,527.2L677.6,529.1L679.5,524.6M715.9,519.1L698.9,527.1M705.4,526.8L698.9,527.1L703.3,522.3M744.1,519.1L721.4,542.8M727.8,539.9L721.4,542.8L724.0,536.3M772.4,519.1L743.4,553.1M749.6,549.9L743.4,553.1L745.6,546.5M800.7,519.1L774.5,552.5M780.6,549.0L774.5,552.5L776.4,545.7M828.9,519.1L798.9,557.1M805.0,553.7L798.9,557.1L800.9,550.4M857.2,519.1L829.7,553.7M835.8,550.3L829.7,553.7L831.7,547.0M885.5,519.1L853.5,555.1M859.8,552.0L853.5,555.1L855.8,548.5M207.0,544.8L227.0,512.8M221.3,516.9L227.0,512.8L225.8,519.7M235.3,544.8L237.1,530.7M234.6,535.0L237.1,530.7L238.3,535.5M263.5,544.8L252.5,520.8M252.9,527.8L252.5,520.8L257.6,525.6M291.8,544.8L293.1,529.8M290.7,534.5L293.1,529.8L294.7,534.8M320.1,544.8L302.1,538.8M307.1,543.1L302.1,538.8L308.7,538.3M348.4,544.8L330.9,542.7M336.3,545.7L330.9,542.7L336.9,541.1M376.6,544.8L351.6,539.8M357.5,543.6L351.6,539.8L358.5,538.5M404.9,544.8L384.9,561.8M391.5,559.6L384.9,561.8L388.1,555.6M433.2,544.8L421.2,568.8M426.4,564.1L421.2,568.8L421.7,561.8M461.4,544.8L447.4,563.8M453.4,560.1L447.4,563.8L449.2,557.0M489.7,544.8L488.7,566.8M491.6,560.4L488.7,566.8L486.4,560.2M518.0,544.8L516.0,566.8M519.2,560.5L516.0,566.8L513.9,560.1M546.2,544.8L525.2,544.8M531.7,547.4L525.2,544.8L531.7,542.1M574.5,544.8L570.5,571.8M574.1,565.7L570.5,571.8L568.9,565.0M602.8,544.8L591.8,562.8M597.4,558.6L591.8,562.8L592.9,555.9M631.0,544.8L629.0,558.8M631.5,554.5L629.0,558.8L627.9,554.0M659.3,544.8L643.6,553.2M649.8,552.5L643.6,553.2L647.6,548.4M687.6,544.8L669.6,544.8M675.4,547.1L669.6,544.8L675.4,542.4M715.9,544.8L693.8,571.2M700.0,567.9L693.8,571.2L695.9,564.5M744.1,544.8L717.5,577.8M723.6,574.4L717.5,577.8L719.5,571.1M772.4,544.8L743.4,578.8M749.6,575.5L743.4,578.8L745.6,572.1M800.7,544.8L773.0,578.8M779.1,575.4L773.0,578.8L775.1,572.1M828.9,544.8L798.9,582.8M805.0,579.3L798.9,582.8L800.9,576.0M857.2,544.8L828.0,580.1M834.1,576.8L828.0,580.1L830.1,573.4M885.5,544.8L853.5,580.8M859.8,577.7L853.5,580.8L855.8,574.2M207.0,570.4L227.0,544.4M221.0,547.9L227.0,544.4L225.1,551.1M235.3,570.4L244.3,557.4M239.6,560.4L244.3,557.4L243.1,562.8M263.5,570.4L260.4,553.2M259.2,559.2L260.4,553.2L263.7,558.4M291.8,570.4L284.4,554.3M284.7,560.5L284.4,554.3L288.9,558.6M320.1,570.4L307.1,558.4M309.7,564.0L307.1,558.4L312.9,560.6M348.4,570.4L332.0,567.4M336.9,570.5L332.0,567.4L337.7,566.2M376.6,570.4L355.6,574.4M362.5,575.8L355.6,574.4L361.5,570.6M404.9,570.4L389.9,584.4M396.4,581.9L389.9,584.4L392.8,578.1M433.2,570.4L418.9,585.2M425.3,582.3L418.9,585.2L421.5,578.7M461.4,570.4L450.4,587.4M456.2,583.4L450.4,587.4L451.8,580.5M489.7,570.4L478.7,581.4M483.7,579.3L478.7,581.4L480.8,576.4M518.0,570.4L521.0,590.4M522.6,583.6L521.0,590.4L517.4,584.4M546.2,570.4L537.2,580.4M541.5,578.3L537.2,580.4L538.8,576.0M574.5,570.4L562.9,584.1M568.5,581.2L562.9,584.1L564.9,578.1M602.8,570.4L586.8,580.4M593.3,579.3L586.8,580.4L590.7,575.1M631.0,570.4L616.0,572.4M621.2,573.7L616.0,572.4L620.7,569.8M659.3,570.4L643.3,573.4M648.9,574.5L643.3,573.4L648.1,570.3M687.6,570.4L668.6,577.4M675.6,577.6L668.6,577.4L673.8,572.7M715.9,570.4L681.9,660.4M686.6,655.3L681.9,660.4L681.7,653.4M744.1,570.4L709.1,615.4M715.2,611.9L709.1,615.4L711.0,608.7M772.4,570.4L743.4,604.4M749.6,601.2L743.4,604.4L745.6,597.8M800.7,570.4L772.6,604.7M778.8,601.4L772.6,604.7L774.7,598.0M828.9,570.4L798.9,608.4M805.0,604.9L798.9,608.4L800.9,601.7M857.2,570.4L827.5,606.0M833.6,602.7L827.5,606.0L829.6,599.3M885.5,570.4L853.5,606.4M859.8,603.3L853.5,606.4L855.8,599.8M207.0,596.0L217.0,570.0M212.2,575.2L217.0,570.0L217.1,577.0M235.3,596.0L241.3,570.0M237.3,575.8L241.3,570.0L242.4,577.0M263.5,596.0L259.4,575.9M258.1,582.8L259.4,575.9L263.3,581.7M291.8,596.0L280.8,568.0M280.7,575.0L280.8,568.0L285.6,573.1M320.1,596.0L304.1,571.0M305.4,577.9L304.1,571.0L309.8,575.1M348.4,596.0L333.2,588.5M337.1,592.9L333.2,588.5L339.1,588.9M376.6,596.0L358.6,599.0M364.9,600.4L358.6,599.0L364.1,595.7M404.9,596.0L388.8,603.3M395.0,603.1L388.8,603.3L393.1,598.8M433.2,596.0L417.3,607.9M424.0,606.1L417.3,607.9L420.9,602.0M461.4,596.0L440.4,612.0M447.2,610.2L440.4,612.0L444.0,606.0M489.7,596.0L477.7,609.1M483.3,606.4L477.7,609.1L479.9,603.3M518.0,596.0L513.0,611.0M516.6,606.8L513.0,611.0L512.6,605.5M546.2,596.0L532.2,595.0M536.7,597.2L532.2,595.0L536.9,593.5M574.5,596.0L563.4,608.1M568.6,605.6L563.4,608.1L565.4,602.7M602.8,596.0L601.8,608.0M603.7,604.3L601.8,608.0L600.5,604.0M631.0,596.0L622.0,602.0M626.0,601.2L622.0,602.0L624.3,598.7M659.3,596.0L647.3,605.0M652.4,603.7L647.3,605.0L650.0,600.5M687.6,596.0L666.6,617.0M673.0,614.3L666.6,617.0L669.3,610.6M715.9,596.0L692.1,630.4M697.9,626.6L692.1,630.4L693.6,623.6M744.1,596.0L724.1,618.0M730.4,615.0L724.1,618.0L726.6,611.5M772.4,596.0L743.4,630.0M749.6,626.8L743.4,630.0L745.6,623.4M800.7,596.0L772.7,630.3M778.9,626.9L772.7,630.3L774.8,623.6M828.9,596.0L798.9,634.0M805.0,630.6L798.9,634.0L800.9,627.3M857.2,596.0L827.2,631.8M833.4,628.5L827.2,631.8L829.4,625.1M885.5,596.0L853.5,632.0M859.8,628.9L853.5,632.0L855.8,625.4M207.0,621.7L214.0,596.7M209.7,602.2L214.0,596.7L214.8,603.6M235.3,621.7L240.3,589.7M236.7,595.7L240.3,589.7L241.9,596.5M263.5,621.7L256.5,602.7M256.3,609.7L256.5,602.7L261.2,607.9M291.8,621.7L280.8,600.7M281.5,607.6L280.8,600.7L286.1,605.2M320.1,621.7L310.1,617.2M312.8,620.1L310.1,617.2L314.1,617.3M348.4,621.7L331.4,608.7M334.9,614.7L331.4,608.7L338.1,610.5M376.6,621.7L361.6,620.7M366.3,623.0L361.6,620.7L366.6,619.0M404.9,621.7L389.7,627.4M395.3,627.5L389.7,627.4L393.9,623.5M433.2,621.7L417.2,636.7M423.7,634.2L417.2,636.7L420.1,630.3M461.4,621.7L444.4,630.7M451.1,630.0L444.4,630.7L448.8,625.5M489.7,621.7L475.1,632.2M481.2,630.7L475.1,632.2L478.5,626.9M518.0,621.7L505.5,632.3M511.0,630.5L505.5,632.3L508.2,627.2M546.2,621.7L533.7,632.3M539.2,630.5L533.7,632.3L536.4,627.2M574.5,621.7L567.5,642.7M572.1,637.4L567.5,642.7L567.1,635.7M602.8,621.7L589.9,633.5M595.6,631.3L589.9,633.5L592.5,628.0M631.0,621.7L611.2,632.7M618.1,631.8L611.2,632.7L615.6,627.2M659.3,621.7L633.3,631.7M640.3,631.8L633.3,631.7L638.4,626.9M687.6,621.7L661.6,672.7M666.9,668.1L661.6,672.7L662.2,665.7M715.9,621.7L690.9,655.7M696.8,652.0L690.9,655.7L692.6,648.9M744.1,621.7L720.1,679.7M725.0,674.7L720.1,679.7L720.2,672.7M772.4,621.7L743.4,655.7M749.6,652.4L743.4,655.7L745.6,649.0M800.7,621.7L773.3,654.7M779.5,651.4L773.3,654.7L775.4,648.0M828.9,621.7L798.9,659.7M805.0,656.2L798.9,659.7L800.9,653.0M857.2,621.7L827.1,657.5M833.3,654.2L827.1,657.5L829.2,650.8M885.5,621.7L853.5,657.7M859.8,654.6L853.5,657.7L855.8,651.1M207.0,647.3L204.8,625.2M202.8,631.9L204.8,625.2L208.1,631.4M235.3,647.3L237.3,626.3M234.0,632.5L237.3,626.3L239.3,633.0M263.5,647.3L259.5,621.3M257.9,628.1L259.5,621.3L263.1,627.3M291.8,647.3L277.8,640.3M281.4,644.4L277.8,640.3L283.3,640.8M320.1,647.3L308.6,636.6M310.9,641.6L308.6,636.6L313.7,638.6M348.4,647.3L338.4,639.3M340.5,643.2L338.4,639.3L342.6,640.6M376.6,647.3L361.6,653.3M367.3,653.3L361.6,653.3L365.7,649.4M404.9,647.3L390.9,654.3M396.4,653.9L390.9,654.3L394.5,650.2M433.2,647.3L416.2,655.5M422.8,655.1L416.2,655.5L420.6,650.6M461.4,647.3L447.4,657.3M453.3,655.9L447.4,657.3L450.7,652.2M489.7,647.3L474.1,655.4M480.2,654.8L474.1,655.4L478.1,650.7M518.0,647.3L502.0,653.3M507.9,653.5L502.0,653.3L506.4,649.3M546.2,647.3L534.2,660.3M539.8,657.7L534.2,660.3L536.4,654.5M574.5,647.3L560.5,650.3M565.4,651.2L560.5,650.3L564.7,647.5M602.8,647.3L593.8,653.3M597.7,652.5L593.8,653.3L596.0,650.0M631.0,647.3L605.0,649.3M611.7,651.4L605.0,649.3L611.3,646.2M659.3,647.3L625.6,672.7M632.4,670.9L625.6,672.7L629.2,666.7M687.6,647.3L659.1,708.3M664.2,703.5L659.1,708.3L659.5,701.3M715.9,647.3L687.9,712.3M692.8,707.4L687.9,712.3L688.0,705.3M744.1,647.3L745.1,681.3M747.6,674.8L745.1,681.3L742.3,674.9M772.4,647.3L743.4,681.3M749.6,678.1L743.4,681.3L745.6,674.7M800.7,647.3L773.1,677.9M779.4,674.8L773.1,677.9L775.5,671.3M828.9,647.3L798.9,685.3M805.0,681.9L798.9,685.3L800.9,678.6M857.2,647.3L826.9,683.2M833.1,679.9L826.9,683.2L829.1,676.5M885.5,647.3L853.5,683.3M859.8,680.2L853.5,683.3L855.8,676.7M207.0,673.0L193.9,652.2M195.2,659.1L193.9,652.2L199.6,656.3M235.3,673.0L212.3,648.0M214.7,654.5L212.3,648.0L218.6,651.0M263.5,673.0L253.5,651.0M253.8,658.0L253.5,651.0L258.6,655.8M291.8,673.0L285.8,650.0M284.9,656.9L285.8,650.0L290.0,655.6M320.1,673.0L308.3,662.7M310.8,667.6L308.3,662.7L313.4,664.5M348.4,673.0L333.4,668.0M337.6,671.5L333.4,668.0L338.9,667.6M376.6,673.0L364.6,661.0M366.9,666.4L364.6,661.0L370.1,663.3M404.9,673.0L388.9,674.0M394.2,675.7L388.9,674.0L394.0,671.5M433.2,673.0L407.2,685.0M414.2,684.6L407.2,685.0L412.0,679.9M461.4,673.0L445.4,678.0M451.3,678.4L445.4,678.0L450.0,674.2M489.7,673.0L473.7,674.0M479.0,675.7L473.7,674.0L478.8,671.5M518.0,673.0L502.0,686.0M508.7,683.9L502.0,686.0L505.4,679.8M546.2,673.0L531.3,684.4M537.6,682.6L531.3,684.4L534.6,678.7M574.5,673.0L558.5,682.0M564.9,681.1L558.5,682.0L562.5,676.9M602.8,673.0L585.8,685.0M592.6,683.4L585.8,685.0L589.6,679.1M631.0,673.0L603.2,694.0M609.9,692.2L603.2,694.0L606.8,688.0M659.3,673.0L625.3,695.0M632.2,693.6L625.3,695.0L629.3,689.2M687.6,673.0L660.2,708.6M666.2,705.1L660.2,708.6L662.1,701.9M715.9,673.0L703.9,713.0M708.2,707.5L703.9,713.0L703.2,706.0M744.1,673.0L716.9,707.1M723.0,703.7L716.9,707.1L718.9,700.4M772.4,673.0L743.4,707.0M749.6,703.7L743.4,707.0L745.6,700.3M800.7,673.0L766.2,707.2M772.6,704.5L766.2,707.2L768.9,700.8M828.9,673.0L798.9,711.0M805.0,707.5L798.9,711.0L800.9,704.2M857.2,673.0L826.7,708.9M832.9,705.6L826.7,708.9L828.9,702.3M885.5,673.0L853.5,709.0M859.8,705.9L853.5,709.0L855.8,702.4M207.0,698.6L193.8,681.5M195.7,688.3L193.8,681.5L199.8,685.1M235.3,698.6L220.4,681.5M222.6,688.1L220.4,681.5L226.6,684.7M263.5,698.6L247.5,686.6M251.2,692.6L247.5,686.6L254.3,688.4M291.8,698.6L282.8,690.6M284.7,694.4L282.8,690.6L286.8,692.0M320.1,698.6L307.1,688.6M310.0,693.5L307.1,688.6L312.6,690.1M348.4,698.6L333.5,695.3M337.9,698.3L333.5,695.3L338.8,694.5M376.6,698.6L355.6,702.6M362.5,704.0L355.6,702.6L361.5,698.8M404.9,698.6L388.0,700.8M393.8,702.3L388.0,700.8L393.2,697.9M433.2,698.6L414.2,706.6M421.2,706.5L414.2,706.6L419.1,701.7M461.4,698.6L442.4,710.6M449.3,709.4L442.4,710.6L446.5,704.9M489.7,698.6L470.7,710.6M477.6,709.4L470.7,710.6L474.8,704.9M518.0,698.6L501.9,710.0M508.6,708.4L501.9,710.0L505.6,704.2M546.2,698.6L535.2,703.6M539.5,703.4L535.2,703.6L538.2,700.5M574.5,698.6L544.5,728.6M551.0,725.9L544.5,728.6L547.2,722.2M602.8,698.6L578.9,721.5M585.4,718.9L578.9,721.5L581.7,715.2M631.0,698.6L591.0,747.6M597.2,744.2L591.0,747.6L593.1,740.9M659.3,698.6L625.3,751.6M631.0,747.6L625.3,751.6L626.6,744.7M687.6,698.6L660.0,730.0M666.2,726.9L660.0,730.0L662.3,723.4M715.9,698.6L710.9,738.6M714.3,732.5L710.9,738.6L709.1,731.8M744.1,698.6L701.1,722.6M708.1,721.7L701.1,722.6L705.5,717.1M772.4,698.6L743.4,732.6M749.6,729.4L743.4,732.6L745.6,726.0M800.7,698.6L765.4,734.7M771.8,731.9L765.4,734.7L768.1,728.3M828.9,698.6L798.9,736.6M805.0,733.1L798.9,736.6L800.9,729.9M857.2,698.6L826.6,734.6M832.8,731.4L826.6,734.6L828.8,728.0M885.5,698.6L853.5,734.6M859.8,731.5L853.5,734.6L855.8,728.0M207.0,724.2L194.7,711.6M197.0,717.3L194.7,711.6L200.3,714.1M235.3,724.2L222.3,713.2M225.0,718.5L222.3,713.2L227.9,715.1M263.5,724.2L254.5,719.2M257.1,722.4L254.5,719.2L258.5,719.7M291.8,724.2L280.0,717.7M283.0,721.4L280.0,717.7L284.7,718.3M320.1,724.2L303.1,731.2M309.5,731.2L303.1,731.2L307.7,726.7M348.4,724.2L332.4,731.2M338.5,731.1L332.4,731.2L336.6,726.9M376.6,724.2L359.9,726.0M365.5,727.6L359.9,726.0L365.1,723.2M404.9,724.2L387.9,727.6M393.8,728.7L387.9,727.6L393.0,724.3M433.2,724.2L414.5,732.0M421.5,731.9L414.5,732.0L419.5,727.1M461.4,724.2L440.4,734.2M447.4,733.8L440.4,734.2L445.2,729.1M489.7,724.2L464.7,744.2M471.4,742.2L464.7,744.2L468.1,738.1M518.0,724.2L499.4,737.5M506.2,735.9L499.4,737.5L503.2,731.6M546.2,724.2L530.4,736.6M537.1,734.7L530.4,736.6L533.9,730.5M574.5,724.2L552.3,744.9M558.9,742.4L552.3,744.9L555.3,738.6M602.8,724.2L582.8,744.2M589.2,741.5L582.8,744.2L585.5,737.8M631.0,724.2L603.0,754.2M609.4,751.3L603.0,754.2L605.6,747.7M659.3,724.2L634.3,749.2M640.8,746.5L634.3,749.2L637.1,742.8M687.6,724.2L661.3,755.8M667.5,752.5L661.3,755.8L663.5,749.1M715.9,724.2L690.9,752.2M697.1,749.1L690.9,752.2L693.2,745.7M744.1,724.2L713.2,754.9M719.7,752.2L713.2,754.9L716.0,748.4M772.4,724.2L743.4,758.2M749.6,755.0L743.4,758.2L745.6,751.6M800.7,724.2L768.8,758.0M775.2,755.1L768.8,758.0L771.4,751.5M828.9,724.2L798.9,762.2M805.0,758.8L798.9,762.2L800.9,755.5M857.2,724.2L826.6,760.2M832.8,756.9L826.6,760.2L828.8,753.5M885.5,724.2L853.5,760.2M859.8,757.1L853.5,760.2L855.8,753.6" fill="none" stroke="#000" stroke-width="1" shape-rendering="crispEdges"/></g>
</g>
<g clip-path="url(#mapclip)"><path d="M208.7,211.2 L211.7,210.8 L216.4,210.1 L219.8,208.8 L224.0,206.8 L227.7,206.5 L230.5,209.0 L233.4,209.0 L239.3,206.8 L240.7,208.7 L243.6,212.3 L248.1,210.4 L250.5,208.6 L252.4,206.8 L257.2,204.6 L261.1,204.6 L265.9,204.7 L269.8,202.5 L272.1,206.5 L274.2,209.0 L273.6,210.9 L272.0,215.5 L270.6,218.0 L267.0,218.4 L265.5,222.1 L263.7,224.2 L260.3,227.7 L256.7,228.6 L256.3,233.3 L254.5,235.2 L253.1,240.5 L252.4,243.9 L254.4,247.5 L256.7,248.3 L260.8,249.2 L261.4,251.7 L265.5,254.8 L269.9,256.1 L271.7,257.1 L274.2,259.2 L278.6,259.9 L282.9,261.4 L286.8,261.1 L291.6,260.3 L295.5,260.5 L299.5,259.5 L302.5,257.0 L308.0,257.5 L311.3,254.8 L314.0,251.6 L315.6,250.5 L316.8,247.6 L315.6,241.7 L318.0,239.0 L318.5,235.0 L318.9,233.0 L321.1,229.6 L320.4,224.3 L322.2,222.1 L324.8,220.7 L323.8,217.2 L326.5,213.4 L328.4,210.1 L330.2,209.9 L333.1,206.8 L337.6,204.8 L339.6,205.7 L342.2,208.1 L344.0,213.4 L345.4,216.5 L346.7,222.2 L346.2,224.3 L345.5,229.5 L344.1,230.2 L344.0,235.2 L346.5,237.0 L348.4,241.7 L349.6,244.7 L352.7,248.3 L356.4,249.4 L359.3,252.6 L361.4,255.3 L365.9,257.0 L370.2,257.0 L375.1,255.9 L377.3,255.6 L381.1,254.8 L385.9,254.0 L389.8,252.6 L391.1,249.7 L392.0,246.1 L395.6,242.8 L396.4,239.5 L396.9,236.6 L397.0,231.6 L398.5,228.6 L402.3,225.4 L402.9,222.1 L406.3,218.3 L409.5,217.7 L412.1,215.8 L413.7,213.7 L418.2,211.2 L421.5,208.3 L424.4,208.2 L426.9,206.8 L430.4,204.9 L433.4,204.7 L435.6,202.5 L440.0,200.3 M208.7,250.5 L210.5,250.1 L215.3,252.6 L219.1,256.3 L221.8,257.0 L223.2,259.0 L226.5,260.8 L228.4,263.5 L230.1,266.2 L232.7,270.1 L234.5,273.7 L237.1,276.6 L235.4,280.6 L234.9,285.4 L238.0,286.8 L239.5,291.9 L241.5,294.1 L239.8,297.6 L239.3,302.8 L238.1,304.2 L233.9,307.0 L232.7,309.4 L232.6,311.7 L230.7,316.0 L230.5,320.1 M352.7,248.3 L354.3,251.3 L355.0,253.8 L353.8,258.6 L354.9,261.4 L355.4,264.8 L352.6,267.4 L352.7,272.3 L355.0,273.5 L357.1,276.6 L361.0,279.9 L361.9,280.3 L365.8,283.2 L369.7,285.1 L372.6,285.6 L374.5,287.5 L376.1,288.5 L380.9,290.1 L382.2,292.2 L385.5,294.1 L388.5,296.0 L392.0,298.5 L396.1,299.5 L395.9,304.2 L401.4,306.6 L402.9,307.2 L404.3,311.8 L407.5,312.7 L408.6,317.9 L409.5,320.1 M337.5,270.1 L336.5,273.1 L333.9,275.4 L333.1,278.8 L331.1,281.8 L330.9,287.5 L330.1,291.2 L328.7,296.3 L330.4,298.5 L331.5,304.2 L330.9,307.2 L333.4,311.7 L334.4,313.9 L332.6,317.6 L335.3,320.1 M302.5,289.7 L303.7,292.4 L306.9,296.3 L306.3,300.7 L304.7,305.0 L304.0,309.4 L304.2,310.5 L302.6,315.2 L302.9,317.9 L302.5,320.1 M396.4,185.0 L396.0,187.1 L396.8,192.2 L395.8,195.3 L398.3,198.4 L398.2,199.0 L397.7,204.9 L397.5,206.8 L395.9,209.4 L396.5,213.5 L396.9,216.5 L397.9,218.3 L395.5,222.0 L395.6,225.1 L398.2,230.9 L395.3,233.0 L395.9,235.7 L396.4,239.5 M207.6,333.1 L211.0,331.4 L215.3,328.7 L218.8,326.1 L221.8,324.4 L224.0,320.0 M207.6,344.0 L209.2,346.4 L211.5,350.0 L215.3,352.7 L215.2,356.0 L212.5,359.0 L213.1,363.6 L213.8,368.3 L215.3,372.4 L214.3,374.7 L212.4,378.2 L209.3,380.1 L207.6,383.3 M215.3,363.6 L218.2,362.8 L220.8,361.3 L224.0,359.3 L226.8,357.0 L229.9,357.0 L232.7,354.9 L235.2,356.3 L240.4,358.2 L241.8,362.1 L243.6,363.6 L247.2,365.4 L249.3,368.9 L250.2,370.2 L253.8,370.1 L258.9,370.2 L259.9,373.4 L263.8,375.8 L265.5,376.7 L268.6,379.4 L270.6,381.3 L272.0,383.3 L270.0,387.2 L269.0,389.4 L269.8,394.2 L272.9,394.9 L272.9,397.3 L276.4,400.7 L280.3,401.1 L280.3,404.5 L283.3,405.9 L287.3,406.2 L291.1,406.7 L293.8,405.1 L298.2,403.9 L300.6,400.7 L302.5,400.7 L306.3,399.3 L309.1,396.6 L311.3,396.4 L315.3,395.6 L317.8,392.0 L315.0,387.8 L315.1,385.8 L313.5,381.1 L315.9,377.9 L320.0,376.7 L322.8,377.8 L328.1,377.8 L330.9,378.9 L331.6,374.2 L333.1,370.2 L331.5,365.6 L330.9,361.5 L330.3,357.8 L333.9,353.9 L333.1,350.5 L332.4,345.8 L330.8,344.1 L328.7,339.6 L330.7,336.8 L331.6,334.3 L333.1,330.9 L333.3,326.5 L330.9,324.4 L328.7,320.0 M317.8,392.0 L318.7,395.5 L323.5,397.5 L324.2,400.9 L326.5,402.9 L329.9,401.1 L335.3,400.7 L337.9,401.7 L342.0,401.3 L346.2,402.9 L350.1,406.5 L352.7,407.3 L354.3,410.1 L357.1,411.6 L361.2,412.8 L365.8,411.6 L370.5,412.0 L374.5,413.8 L378.0,413.4 L383.3,416.0 L386.5,416.7 L389.8,418.2 L391.7,419.2 L395.1,422.0 L398.5,422.5 L400.1,425.8 L403.9,426.1 L406.6,428.5 L409.5,429.1 L414.1,430.0 L416.7,431.3 L420.4,431.3 L424.2,432.6 L426.6,436.0 L428.4,435.3 L431.3,437.8 L432.2,441.1 L435.3,444.5 L437.6,444.8 L437.3,447.5 L440.0,450.9 M330.9,328.7 L333.5,330.8 L339.3,332.9 L341.8,333.1 L344.7,335.0 L348.5,334.3 L352.7,335.3 L356.7,332.9 L358.0,334.2 L361.9,331.5 L365.8,330.9 L369.0,329.3 L370.1,326.0 L374.5,324.4 L378.0,325.0 L380.9,326.1 L385.5,326.5 L389.1,322.9 L389.8,320.0 M413.8,389.8 L417.0,388.6 L419.2,390.3 L421.7,391.1 L427.3,388.5 L429.1,389.8 L432.7,387.2 L433.5,385.5 M431.3,392.0 L433.6,396.5 L433.5,399.8 L435.6,402.9 L434.7,406.8 L432.0,409.5 L431.3,411.6 L429.5,413.3 L424.8,412.6 L421.4,414.4 L418.2,416.0 L417.8,420.9 L416.0,424.7 L417.3,428.1 L418.2,433.5 M374.5,413.8 L377.2,416.9 L377.9,420.3 L381.6,420.5 L384.7,423.1 L385.5,426.9 L386.0,432.0 L387.6,435.6 L385.8,438.0 L383.7,439.9 L380.5,441.1 L378.9,444.4 L376.1,448.6 L376.8,451.6 L374.5,455.1 M440.0,320.0 L439.3,323.2 L436.3,326.9 L435.6,330.9 L436.1,333.1 L434.2,337.4 L433.5,341.8 L436.0,344.1 L436.2,347.0 L438.5,350.9 L440.0,352.7 M207.6,109.4 L210.7,110.7 L213.5,109.2 L217.0,108.9 L221.8,110.5 L224.9,113.4 L225.2,113.8 L228.4,117.0 L231.2,119.1 L235.5,120.4 L237.8,119.8 L240.3,121.3 L243.6,123.5 L247.0,125.1 L249.2,125.5 L254.4,126.1 L256.7,129.0 L261.0,131.3 L264.7,130.8 L266.7,132.5 L269.8,133.4 L273.3,134.7 L276.5,132.3 L280.1,132.7 L282.4,133.2 L285.1,132.3 L286.2,137.7 L288.2,139.3 L294.0,139.2 L297.1,139.9 L300.2,138.4 L302.1,137.3 L304.6,135.8 L309.1,134.5 L312.8,132.6 L315.8,132.7 L320.2,128.4 L322.2,127.9 L325.7,126.8 L326.0,124.4 L329.2,122.0 L332.8,123.2 L335.3,120.3 L338.0,120.9 L342.4,118.0 L346.2,119.0 L348.4,118.1 L354.1,117.7 L357.1,115.9 L361.3,115.2 L365.1,116.9 L368.7,115.1 L371.9,115.0 L374.5,114.8 L376.8,113.4 L380.2,114.0 L383.9,115.1 L389.1,115.3 L392.0,115.3 L395.0,115.6 L397.9,114.9 L402.6,114.6 L405.1,114.8 L407.0,113.9 L411.6,110.0 L413.8,108.3 L416.7,107.0 L420.7,104.7 L422.0,103.3 L426.9,102.8 L430.0,99.5 L431.1,97.5 L433.5,96.3 L434.7,92.7 L437.5,90.1 L440.0,88.6 M304.7,476.8 L306.1,474.1 L309.5,473.9 L313.5,472.5 L315.0,472.4 L319.1,475.1 L322.2,476.8 L327.2,474.3 L330.9,474.6 L333.5,476.5 L335.2,480.5 L339.6,481.2 L343.1,478.8 L348.4,479.0 L350.5,475.2 L353.1,473.1 L353.7,469.4 L357.1,468.1 L360.0,465.2 L362.4,463.6 L365.0,460.9 L365.8,459.4 L367.9,457.2 L372.6,456.9 L374.5,455.0 M304.7,476.8 L302.8,478.4 L302.4,484.1 L300.4,485.5 L299.6,488.3 L298.2,494.3 L298.9,496.2 L302.5,500.8 L303.7,502.6 L306.9,507.4 L306.6,511.1 L309.1,513.9 L314.7,514.0 L317.8,516.1 L323.7,514.9 L326.5,513.9 L330.4,517.4 L333.8,516.8 L335.3,520.5 L337.9,519.7 L341.8,518.3 L346.9,515.5 L348.4,516.5 L352.7,513.9 L354.4,511.4 L358.0,510.1 L361.5,507.4 L366.5,507.0 L369.5,509.6 L372.4,509.5 L377.8,510.8 L381.1,511.7 L383.9,514.2 L383.7,516.7 L385.5,520.5 L388.5,522.6 L389.1,523.8 L392.0,527.0 L397.1,528.4 L400.7,529.2 L404.7,526.6 L407.3,524.8 L408.3,519.3 L409.5,516.1 L411.2,510.2 L411.6,507.4 L413.0,505.3 L415.1,500.3 L416.0,498.6 L417.3,497.6 L420.8,495.5 L422.5,492.1 L426.6,490.8 L429.6,490.7 L431.3,488.8 L435.1,487.9 L440.0,487.7 M385.5,470.3 L387.4,467.8 L392.0,465.9 L396.7,464.1 L398.8,463.6 L400.5,464.7 L405.1,463.7 L407.5,461.2 L410.5,462.0 L415.2,458.9 L418.2,459.4 L421.0,459.4 L424.6,456.7 L429.1,455.0 M387.6,470.3 L388.1,474.8 L389.4,478.5 L389.8,481.2 L388.8,484.5 L387.6,489.9 L389.5,490.7 L394.5,493.0 L396.4,496.5 L399.2,496.9 L405.1,494.3 L405.6,498.4 L406.7,500.0 L409.5,503.0 M411.6,507.4 L411.3,511.7 L413.1,514.4 L414.1,518.4 L413.8,520.5 L412.6,524.4 L412.2,526.5 L411.6,531.4 L414.2,535.3 L415.6,537.7 L416.0,542.3 L417.2,546.5 L418.2,551.0 L416.7,551.8 L413.8,555.4 M250.2,527.0 L253.3,525.5 L256.1,524.3 L261.1,522.6 L264.0,524.6 L265.5,527.0 L266.7,531.0 L266.0,533.8 L267.6,537.9 L272.1,539.6 L273.2,540.9 L276.4,544.5 L279.1,543.4 L285.0,545.2 L287.3,544.5 L291.4,547.5 L293.4,548.7 L296.0,548.8 L300.5,547.5 L304.7,546.6 L310.5,546.8 L313.5,544.5 L319.3,543.3 L322.2,542.3 L325.2,544.2 L326.5,546.6 L324.4,551.0 L322.3,552.3 L316.4,552.4 L313.5,551.0 L311.4,545.3 L311.3,542.3 L314.2,539.4 L315.6,537.9 L319.0,538.4 L322.2,537.9 L322.9,540.9 L326.5,542.3 M313.5,520.5 L309.8,522.4 L307.1,525.6 L304.7,527.0 L307.0,529.2 L306.4,532.2 L309.1,535.7 L312.1,536.6 L315.6,540.1 M250.2,527.0 L246.9,530.0 L245.8,531.4 L245.0,535.8 L244.4,538.4 L241.5,540.1 L238.1,541.2 L235.0,544.3 L232.7,546.6 L230.6,549.4 L227.9,553.0 L225.5,554.4 L225.2,558.1 L221.8,559.7 L220.1,563.3 L219.6,568.5 L222.8,569.8 L222.8,574.4 L226.2,577.2 L225.2,579.3 L222.6,582.7 L223.8,586.7 L221.8,590.1 M243.6,564.1 L247.4,567.9 L249.5,568.4 L250.2,572.8 L248.1,575.6 L248.0,581.5 L250.7,582.5 L252.4,584.6 L256.7,585.9 L259.8,584.2 L265.5,583.7 L266.3,582.0 L268.5,577.5 L268.9,575.3 L272.0,572.8 L275.7,571.2 L278.5,568.5 L282.8,568.0 L283.6,564.4 L287.3,564.1 L291.4,562.8 L293.8,559.7 L298.2,561.9 L302.5,561.9 L306.3,560.5 L308.8,558.9 L313.5,559.7 M263.3,611.8 L265.9,615.3 L268.9,616.1 L269.8,618.4 L273.6,621.9 L276.4,622.7 L276.3,627.4 L274.2,631.5 L271.7,634.4 L268.8,636.3 L267.6,640.2 L269.7,644.7 L270.7,645.7 L272.0,648.9 L273.7,646.6 L277.3,644.4 L278.5,642.4 L282.2,639.1 L282.3,638.1 L284.8,636.9 L287.3,633.6 L292.7,636.1 L296.0,635.8 L300.7,635.4 L304.7,638.0 L308.6,639.6 L312.0,640.2 L315.6,642.4 L317.8,640.8 L317.3,637.1 L320.0,633.6 L323.2,632.2 L328.5,632.2 L330.9,629.3 L334.6,626.7 L338.8,625.0 L340.4,625.4 L344.0,622.7 L345.6,619.8 L349.8,619.8 L350.0,615.8 L352.7,614.0 L354.2,615.0 L356.3,619.9 L357.9,619.7 L361.5,622.7 L363.4,622.8 L367.4,626.4 L370.2,627.1 L374.0,625.3 L376.7,621.1 L377.7,622.0 L381.1,618.4 L384.1,617.6 L389.8,618.4 L393.0,615.4 L396.4,614.0 L399.2,610.9 L401.0,612.2 L403.4,610.4 L407.3,607.5 L409.0,607.4 L413.3,604.7 L414.3,601.1 L418.2,600.9 L421.9,597.7 L423.0,597.6 L426.9,594.4 L430.3,590.7 L431.3,590.0 M263.3,611.8 L265.8,607.6 L265.5,603.1 L266.5,598.9 L268.0,598.8 L269.8,594.4 L272.0,590.0 M282.9,644.5 L283.7,646.3 L284.7,649.2 L287.3,653.3 L289.7,656.1 L291.7,655.2 L296.0,657.6 L300.7,659.8 L304.1,657.9 L305.4,660.7 L309.1,659.8 L313.4,661.6 L317.8,662.0 L318.3,664.8 L320.0,670.7 L318.1,674.4 L318.0,676.8 L315.6,679.5 L311.9,680.3 L308.2,681.0 L304.7,681.6 L302.2,680.0 L297.8,681.6 L293.8,679.5 L291.3,679.9 L288.0,683.5 L282.9,683.8 L279.7,685.3 L277.6,686.8 L276.4,690.4 L274.3,690.8 L270.3,690.6 L265.5,692.5 L261.2,695.4 L260.9,697.4 L257.9,697.5 L254.5,699.1 L252.1,700.0 L248.0,703.5 L245.2,701.1 L241.1,699.4 L239.3,696.9 L235.1,697.7 L231.6,697.8 L228.4,699.1 L224.3,699.4 L222.6,700.5 L217.5,699.1 L215.7,698.7 L211.0,697.7 L208.7,694.7 M309.1,690.4 L311.6,690.2 L315.6,693.3 L318.4,694.1 L322.2,694.7 L324.8,696.8 L328.6,695.7 L332.1,697.6 L335.3,696.9 L339.0,700.3 L339.6,703.5 L338.0,706.7 L335.3,709.0 L335.3,712.2 L337.5,717.4 L337.5,720.9 L339.3,724.2 L344.0,725.3 L346.9,729.0 L350.5,729.6 L353.8,729.5 L358.0,732.3 L361.5,731.8 L364.5,732.4 L368.7,730.3 L370.6,730.2 L374.5,729.6 L377.5,728.7 L381.6,729.7 L384.6,726.9 L387.6,727.5 L391.1,726.0 L396.4,725.3 L401.1,725.2 L405.1,727.5 L407.0,728.0 L410.9,728.1 L415.0,732.1 L418.2,731.8 L421.6,732.0 L425.8,731.8 L429.3,730.0 L431.3,729.6 L434.8,727.0 L438.3,726.3 L440.0,725.3 M430.0,205.7 L432.3,202.7 L435.0,202.5 L437.4,200.9 L440.9,198.1 L445.2,199.7 L445.9,199.5 L449.6,201.4 L452.1,198.7 L454.2,198.2 L458.4,194.8 L460.2,193.2 L465.9,193.7 L466.1,195.1 L470.4,193.7 L470.3,189.4 L472.5,189.5 L473.6,185.0 M436.5,185.0 L435.2,189.3 L435.9,190.9 L436.1,194.4 L437.2,197.0 L434.8,199.5 L436.5,202.2 L433.5,206.2 L433.2,210.4 L433.4,213.2 L434.4,215.5 L434.0,219.5 L435.9,221.3 L436.4,225.6 L436.5,228.6 L437.6,231.2 L434.5,233.8 L436.7,236.4 L434.6,240.2 L434.4,243.9 L433.7,246.7 L436.5,251.2 L435.2,252.4 L436.5,257.0 L434.3,260.6 L433.5,263.7 L434.3,266.2 L433.7,269.4 L432.2,272.3 L433.2,275.4 L432.2,279.9 L432.4,282.7 L434.4,285.4 L433.5,287.1 L432.7,292.6 L433.8,294.7 L432.2,298.5 L431.3,300.6 L431.9,304.7 L435.4,308.4 L435.1,310.6 L434.5,312.3 L435.0,315.9 L436.5,320.1 M530.4,185.0 L531.1,189.0 L532.5,193.7 L531.9,195.4 L528.7,198.7 L526.0,202.5 L521.8,204.3 L520.5,205.9 L517.3,209.0 L516.0,212.3 L515.5,217.1 L513.6,220.1 L512.9,222.1 L512.0,226.0 L513.3,230.3 L512.9,233.0 L515.5,234.3 L520.3,235.2 L523.8,237.4 L525.8,242.0 L523.8,244.0 L524.8,247.3 L526.0,250.5 L523.7,254.2 L522.4,256.4 L521.6,261.4 L519.8,265.4 L521.5,268.3 L518.8,269.0 L520.3,272.2 L519.5,276.6 L518.8,280.2 L516.4,283.4 L517.3,287.5 L521.6,289.7 L524.3,290.7 L528.2,290.6 L532.4,289.1 L534.7,289.7 L538.4,289.9 L542.2,289.4 L545.8,290.2 L547.6,291.1 L552.2,291.9 L555.9,291.2 L556.8,287.9 L560.9,287.5 L565.7,289.1 L567.5,291.9 L567.5,295.2 L565.3,298.5 L563.8,300.9 L562.4,302.9 L560.9,307.2 L560.4,309.9 L559.6,313.4 L557.1,318.2 L556.5,320.1 M567.5,287.5 L569.1,284.2 L571.8,281.0 L571.7,278.6 L571.5,273.5 L568.9,270.4 L569.6,267.9 L571.8,264.9 L574.8,263.2 L576.5,260.2 L578.4,257.0 L582.1,253.4 L582.4,252.3 L584.3,250.9 L587.1,248.3 L590.6,245.9 L591.2,243.7 L593.9,241.3 L595.8,239.5 L599.7,237.7 L602.6,236.3 L604.5,235.2 L608.6,233.2 L610.1,230.8 L613.9,231.1 L615.5,228.6 L616.1,226.2 L619.8,224.3 L624.2,224.6 L626.4,224.3 L629.7,223.8 L633.6,223.7 L637.3,223.2 L642.0,224.2 L646.0,225.4 L647.9,227.2 L652.5,228.6 L650.4,230.4 L650.4,235.2 L652.0,238.7 L654.8,239.7 L654.7,243.9 L659.0,245.8 L661.3,248.3 L665.7,246.0 L670.0,246.1 M556.5,185.0 L558.2,185.5 L563.7,188.1 L565.3,189.4 L567.4,189.1 L573.4,188.3 L575.7,189.8 L578.4,189.4 L581.3,188.3 L584.2,184.9 L587.1,185.0 M591.5,198.1 L591.6,202.7 L591.5,206.8 L594.2,208.1 L597.1,207.8 L600.3,209.2 L604.5,211.2 L608.6,211.2 L613.3,209.0 L615.6,205.2 L615.5,202.5 L617.3,196.8 L617.6,193.7 L622.2,195.7 L626.4,195.9 L631.1,193.5 L634.4,191.4 L637.3,191.5 L640.5,190.9 L641.9,187.1 L644.7,186.9 L648.2,185.0 M613.3,211.2 L615.7,213.6 L615.5,216.5 L617.6,219.9 L618.9,221.1 L622.0,224.3 M584.9,289.7 L582.8,292.8 L579.7,293.3 L577.4,295.9 L575.0,299.5 L572.3,300.5 L569.6,302.8 L566.5,305.0 L564.0,307.8 L564.0,311.4 L561.9,314.2 L558.7,315.9 L555.7,318.8 L554.4,320.1 M643.8,320.1 L647.1,316.7 L648.6,315.3 L652.5,313.7 L655.8,311.4 L656.9,311.7 L661.3,309.4 L666.0,306.9 L670.0,307.2 M434.4,294.1 L438.2,296.0 L438.1,297.4 L442.9,300.9 L443.8,299.5 L447.5,302.8 L451.0,304.1 L453.8,305.6 L456.4,307.1 L457.8,309.7 L460.5,311.5 L463.4,314.4 L466.3,315.3 L467.3,318.0 L469.3,320.1 M430.0,337.5 L430.6,338.3 L433.7,341.0 L436.5,344.0 L440.3,343.4 L442.8,342.6 L447.5,340.7 L452.0,339.3 L453.1,337.4 L455.7,337.6 L458.1,337.6 L462.7,336.4 L467.5,333.7 L469.7,333.1 L472.1,331.4 L475.8,329.8 L477.5,327.0 L482.4,324.4 L485.4,324.5 L489.7,322.4 L493.0,323.8 L494.5,321.6 L497.4,322.0 L502.0,322.2 M436.5,320.0 L436.8,322.2 L434.9,326.1 L434.4,330.9 L435.6,335.3 L433.8,338.0 L434.4,341.8 L438.1,344.5 L438.7,348.4 L439.6,352.7 L442.8,354.8 L443.1,357.1 L445.7,358.8 L447.5,363.6 L450.5,366.7 L451.8,370.2 L453.6,373.0 L454.0,376.7 L455.5,379.3 L456.8,382.9 L458.4,385.5 L461.9,387.0 L463.1,388.5 L464.9,392.0 L467.9,394.3 L468.7,397.3 L470.6,399.8 L473.6,400.7 L477.0,402.2 L480.2,405.1 L481.9,408.1 L483.5,409.0 L486.7,411.6 L487.4,414.0 L489.4,416.9 L493.1,419.9 L493.3,422.5 L495.0,427.5 L495.1,428.2 L495.5,433.5 M454.0,376.7 L452.0,378.7 L447.1,381.5 L445.9,384.3 L443.1,385.5 L439.0,387.2 L436.7,387.3 L434.2,387.9 L430.0,387.6 M482.4,407.3 L486.7,409.4 L487.6,409.0 L493.2,409.8 L495.5,409.5 L498.4,407.8 L503.1,409.1 L506.7,409.1 L508.5,407.3 L510.8,408.8 L516.1,407.7 L516.9,407.8 L519.5,406.8 L523.8,407.3 L527.2,406.2 L532.5,405.1 L532.7,407.4 L534.8,411.2 L536.9,413.8 L537.1,417.5 L534.7,420.4 L540.0,418.2 L543.5,418.2 L546.6,419.5 L549.4,421.9 L553.2,420.6 L556.5,422.5 L558.9,422.1 L564.3,423.4 L567.4,424.8 L569.6,426.9 L572.5,424.9 L574.4,423.6 L578.4,422.5 L583.8,421.4 L587.1,420.4 L590.4,419.4 L593.6,418.2 L592.1,414.7 L594.2,410.3 L593.6,407.3 L593.3,404.2 L592.1,401.6 L591.5,397.1 L591.5,394.2 L586.9,395.8 L582.7,396.4 L578.1,396.2 L574.0,396.4 L573.0,391.2 L573.0,390.0 L571.8,385.5 L567.6,385.3 L565.7,382.1 L563.1,381.1 L563.7,380.4 L568.4,376.4 L568.2,375.2 L571.8,372.4 L572.7,368.3 L574.0,365.8 L575.9,363.4 L580.5,361.5 L580.9,358.5 L578.4,352.7 L581.0,354.0 L585.2,352.4 L589.3,352.7 L589.9,355.1 L593.6,359.3 L596.7,359.1 L598.2,357.4 L601.4,355.0 L604.5,352.7 L603.9,348.4 L604.5,346.2 L607.0,345.5 L609.5,342.2 L613.3,341.8 L611.4,336.3 L611.1,333.1 L608.6,333.2 L604.6,330.3 L600.2,328.7 L600.1,325.3 L598.0,322.2 M552.2,320.0 L556.3,323.0 L557.7,323.6 L560.9,326.5 L563.8,328.4 L566.1,329.4 L569.5,332.6 L574.0,333.1 L578.0,333.1 L581.9,333.2 L585.6,335.0 L588.4,335.3 L591.5,335.3 L595.2,332.0 L596.8,329.6 L600.2,328.7 M613.3,341.8 L618.1,342.3 L620.1,345.0 L623.8,344.1 L626.4,346.2 L631.3,346.9 L635.1,348.4 L639.4,349.9 L640.7,349.7 L646.1,350.9 L648.2,352.7 L646.6,357.7 L645.5,360.8 L646.0,363.6 L647.1,368.4 L648.2,370.2 L649.4,373.6 L653.4,375.7 L657.8,377.8 L659.1,378.9 L662.9,381.0 L665.8,379.9 L670.0,381.1 M632.9,320.0 L635.3,321.5 L637.5,324.4 L639.4,329.0 L639.5,330.9 L642.9,328.7 L644.4,328.6 L648.2,326.5 L652.1,326.0 L655.4,322.7 L659.1,322.2 M580.5,424.7 L582.3,429.2 L585.5,431.7 L587.1,433.5 L589.9,435.0 L591.1,436.6 L594.7,438.1 L598.0,440.7 L600.2,442.2 L601.3,445.3 L599.2,449.2 L600.0,452.6 L600.2,455.1 M430.0,99.5 L431.4,95.3 L433.5,93.9 L436.5,90.8 L438.0,89.1 L440.1,87.0 L443.1,84.3 L447.3,84.0 L447.5,80.0 L451.8,79.9 L455.0,77.0 L458.0,76.8 L460.5,74.5 L461.6,69.0 L457.8,65.6 L456.7,61.9 L454.0,60.3 L451.5,57.4 L448.1,53.2 L447.5,51.5 L445.3,49.4 M521.6,185.1 L520.3,181.6 L521.5,179.9 L519.5,175.9 L519.3,170.2 L521.6,167.2 L518.8,165.0 L519.3,162.5 L517.3,158.5 L514.8,153.8 L515.0,149.8 L512.9,147.5 L511.8,143.7 L510.7,138.8 L511.8,135.8 L515.0,134.1 L517.3,132.3 L520.0,130.2 L521.6,125.7 L523.0,122.9 L526.0,121.4 L528.7,120.4 L530.8,115.9 L532.5,114.8 L535.1,116.8 L536.9,119.2 L540.0,121.2 L540.0,124.0 L543.5,127.9 L546.6,128.3 L552.2,125.7 L553.8,122.6 L557.4,122.8 L558.1,119.0 L560.9,117.0 L565.3,117.2 L569.6,119.2 L572.2,118.9 L575.9,116.6 L578.4,114.8 L578.4,111.0 L580.5,106.1 L585.0,103.5 L587.1,100.6 L588.7,98.7 L594.1,98.3 L595.8,95.2 L600.3,94.8 L601.3,98.4 L604.5,98.5 L606.9,102.9 L607.8,103.6 L611.1,108.3 L612.5,112.2 L613.0,113.5 L615.5,117.0 L616.9,122.7 L617.6,125.7 L620.0,128.5 L623.3,127.3 L626.4,130.1 L631.3,130.3 L633.2,128.9 L637.3,127.9 L637.2,124.5 L638.7,121.1 L641.6,119.2 L639.7,116.7 L640.8,112.3 L639.5,108.3 L638.3,102.3 L637.3,99.5 L641.9,97.1 L643.8,95.2 L648.0,95.9 L649.1,100.6 L652.5,101.7 L654.3,105.1 L655.5,108.4 L659.1,110.5 L660.1,108.5 L662.0,104.6 L662.7,102.5 L665.6,99.5 L667.1,95.9 L667.2,91.7 L670.0,88.6 M563.1,185.1 L559.5,183.2 L559.5,179.1 L556.5,175.9 L557.0,170.7 L558.7,167.2 L560.0,165.0 L562.8,162.8 L565.3,158.5 L567.3,155.1 L569.2,154.4 L569.1,150.9 L571.8,147.5 L575.2,146.7 L576.8,145.4 L580.5,144.3 L583.3,146.9 L586.1,148.9 L589.3,149.7 L593.7,150.5 L595.9,150.9 L600.2,151.9 L601.3,156.3 L601.7,158.8 L604.5,160.6 L607.1,162.2 L607.6,166.3 L611.1,167.2 L612.2,169.8 L614.7,172.4 L615.5,175.9 L617.8,178.8 L617.1,182.4 L617.6,185.1 M582.7,185.1 L583.8,183.4 L585.2,180.1 L585.1,176.4 L587.1,173.7 L589.9,173.8 L595.8,171.5 L599.5,174.3 L599.5,174.7 L602.4,178.1 L604.7,182.3 L604.5,185.1 M632.9,138.8 L633.1,141.3 L635.8,145.2 L639.0,146.8 L639.5,149.7 L640.1,152.7 L643.4,155.3 L645.8,155.5 L648.2,158.5 L652.2,160.5 L654.5,160.1 L656.9,162.8 L658.6,167.0 L661.1,170.0 L661.3,171.5 L664.9,169.6 L665.6,168.2 L670.0,167.2 M656.9,185.1 L654.7,183.1 L654.7,178.4 L654.7,175.9 L655.3,172.6 L659.8,171.4 L661.3,167.2 M430.0,487.7 L434.9,489.9 L435.7,488.4 L440.9,489.9 L442.5,487.6 L445.2,485.2 L447.1,481.8 L449.6,481.2 L453.1,481.6 L457.1,479.5 L460.5,477.9 L463.0,478.5 L467.1,478.2 L471.5,479.6 L473.6,481.2 L475.7,482.5 L480.3,483.6 L484.5,483.4 L485.3,484.7 L488.9,487.7 L490.8,487.0 L495.9,489.5 L498.3,490.4 L502.0,489.9 L506.7,487.4 L510.7,486.5 L512.9,485.5 L517.5,487.9 L521.6,487.7 L525.7,485.1 L525.8,485.5 L529.3,481.5 L532.5,481.2 L536.2,483.3 L536.3,485.4 L539.1,487.7 L537.3,490.8 L536.9,496.5 L538.8,496.3 L543.5,498.6 L545.0,498.4 L548.4,495.1 L552.2,494.3 L557.0,492.1 L560.9,492.1 L566.1,491.4 L569.1,489.3 L571.8,487.7 L576.1,487.4 L578.1,485.3 L582.7,483.4 L585.4,483.1 L588.4,480.6 L591.5,479.2 L595.8,476.8 L597.9,473.9 L601.0,472.0 L604.5,470.3 L604.7,466.9 L601.8,463.9 L600.2,461.5 L601.5,458.5 L602.4,455.0 M604.5,470.3 L609.5,467.5 L611.3,468.1 L615.5,465.9 L619.7,465.9 L624.1,466.5 L626.4,468.1 L628.4,472.0 L630.7,474.6 L634.3,474.7 L637.5,471.7 L639.5,470.3 L641.7,470.3 L645.4,470.8 L648.5,468.9 L653.8,468.7 L656.9,470.3 L658.2,472.0 L660.5,475.0 L664.0,478.4 L665.6,479.0 L665.0,484.9 L665.6,487.7 L670.0,485.5 M543.5,498.6 L546.5,502.0 L548.9,505.2 L551.2,509.7 L552.2,511.7 L553.4,515.3 L556.0,516.7 L556.5,520.5 L557.0,522.5 L554.6,527.9 L554.4,530.3 L552.2,533.5 L550.0,535.0 L547.2,537.0 L545.3,540.9 L543.5,542.3 L544.7,545.4 L543.5,551.0 L544.7,554.8 L547.8,557.5 L547.8,559.7 L548.2,562.7 L549.9,565.0 L552.2,568.5 L553.4,572.9 L554.8,572.7 L556.5,577.2 L556.2,580.3 L552.9,584.4 L552.2,585.9 L553.3,589.1 L556.5,590.1 M670.0,520.5 L665.2,522.3 L662.4,523.6 L660.5,522.4 L656.9,524.8 L652.7,526.7 L652.3,529.3 L649.0,530.1 L647.3,534.0 L643.8,535.7 L642.4,537.8 L641.2,543.2 L639.5,546.6 L638.3,549.1 L635.4,551.5 L633.4,554.0 L630.7,555.4 L631.0,558.6 L630.2,560.8 L628.6,563.9 L628.5,568.5 L628.5,572.0 L626.4,577.2 L627.6,579.8 L628.8,582.1 L629.8,585.7 L630.7,590.1 M430.0,600.9 L435.1,598.2 L437.1,597.3 L440.9,596.5 L444.5,597.3 L447.5,597.5 L451.8,598.7 L454.4,597.0 L459.9,596.6 L462.8,596.2 L464.9,595.5 L468.0,592.2 L469.2,592.0 L473.6,590.0 M473.6,590.0 L474.5,592.6 L475.0,597.2 L475.9,599.4 L475.8,603.1 L476.9,606.7 L479.0,610.0 L480.2,611.8 L477.8,612.7 L476.1,615.1 L473.6,618.4 L471.6,619.9 L472.3,624.2 L469.3,627.1 L472.3,628.5 L473.6,631.5 L478.7,633.6 L479.3,632.8 L484.5,635.8 L488.0,634.5 L492.3,635.4 L495.5,633.6 L496.9,629.1 L499.0,625.9 L501.4,622.8 L502.0,620.5 L504.5,620.2 L510.0,619.4 L512.9,618.4 L515.6,616.6 L520.1,618.0 L523.8,616.2 L528.2,614.7 L530.9,613.8 L532.5,611.8 L535.6,610.5 L540.3,611.3 L543.5,609.6 L546.6,610.6 L551.2,611.9 L554.4,611.8 L557.6,609.9 L561.0,610.2 L565.3,607.5 L569.9,609.3 L571.8,609.6 L575.9,610.3 L580.5,611.8 L580.7,616.1 L578.4,620.5 L574.8,622.3 L574.0,627.1 L573.1,629.8 L572.2,633.0 L569.6,635.8 L573.5,636.1 L578.4,633.6 L580.8,633.0 L583.1,632.0 L587.1,629.3 L588.9,627.3 L592.9,628.0 L596.8,629.0 L600.2,627.1 L604.6,624.1 L608.5,625.3 L611.1,622.7 L613.8,622.3 L618.2,622.6 L622.0,620.5 L626.6,619.7 L630.7,620.5 L634.6,621.7 L636.1,624.4 L639.5,624.9 L642.8,626.3 L645.8,628.9 L648.2,629.3 L649.6,633.1 L650.2,636.7 L652.5,638.0 L652.6,642.3 L656.2,645.1 L656.9,648.9 L660.7,647.2 L664.5,649.1 L666.5,646.9 L670.0,646.7 M560.9,590.0 L559.7,593.5 L558.7,598.7 L560.9,602.9 L561.7,603.7 L565.3,607.5 M622.0,590.0 L621.1,591.7 L620.7,597.6 L621.8,600.4 L619.8,603.1 L620.9,604.7 L619.4,609.2 L621.0,612.7 L621.0,615.6 L622.0,618.4 M499.8,635.8 L499.0,639.2 L501.1,641.5 L502.5,645.6 L501.8,649.2 L502.0,651.1 L500.5,655.2 L498.8,656.8 L495.5,659.8 L493.4,662.3 L491.2,665.5 L488.9,668.5 L486.1,673.0 L485.4,673.8 L484.5,677.3 L485.2,680.0 L483.8,682.7 L482.5,687.4 L482.4,690.4 L481.3,692.6 L476.8,694.8 L476.8,696.1 L473.6,699.1 L471.0,699.2 L466.6,701.5 L462.7,703.5 L459.6,707.1 L459.2,708.3 L456.2,712.2 L453.6,716.5 L454.1,718.1 L451.8,720.9 L449.7,722.6 L445.7,724.2 L443.1,725.3 M556.5,705.6 L560.2,700.9 L560.9,699.1 L560.1,696.4 L558.0,693.0 L556.5,690.4 L559.8,688.5 L563.1,688.6 L565.3,686.0 L569.8,687.3 L570.5,689.6 L574.8,688.3 L578.4,690.4 L580.4,688.8 L585.0,687.0 L587.1,686.0 L589.9,686.5 L594.5,684.4 L595.7,684.4 L600.2,683.8 L603.3,682.0 L606.2,681.2 L609.8,682.1 L613.3,679.5 L617.1,679.1 L620.1,677.7 L622.7,673.8 L626.4,672.9 L629.8,670.8 L632.2,670.7 L632.7,667.5 L637.0,664.7 L639.5,664.2 L641.5,663.6 L646.0,660.1 L649.6,660.3 L652.5,657.6 L655.7,654.9 L658.3,655.7 L661.3,653.3 L664.1,652.6 L668.6,650.4 L670.0,648.9 M618.0,221.5 L622.9,224.8 L625.4,223.6 L628.8,226.6 L632.8,225.6 L637.0,223.6 L642.0,224.0 L644.3,223.2 L647.7,226.9 L649.3,228.1 L650.4,233.4 L650.9,236.3 L649.3,241.0 L649.3,244.6 L653.1,247.2 L656.5,248.3 L659.2,249.5 L661.1,249.5 L664.3,250.3 L668.3,250.1 L672.3,249.5 L675.6,245.3 L675.6,241.3 L678.1,239.0 L680.6,234.9 L682.2,231.4 L686.3,229.4 L687.3,226.9 L692.1,224.8 L695.7,224.8 L699.1,226.3 L702.0,224.8 L706.4,225.3 L709.1,226.6 L711.9,228.1 L714.0,227.1 L719.9,229.5 L721.7,228.1 L726.7,227.1 L730.0,225.6 L733.6,226.0 L737.4,225.8 L741.5,228.1 L741.8,231.6 L744.0,234.7 L743.9,236.9 L743.2,241.3 L739.2,240.2 L734.9,241.3 L732.1,241.7 L729.3,245.7 L725.0,246.2 L722.0,249.0 L719.6,250.1 L715.2,251.2 L713.5,252.0 L708.2,255.8 L707.7,256.1 L703.6,257.8 L702.3,260.8 L700.3,266.0 L698.1,269.3 L696.4,270.4 L692.1,272.6 L690.9,276.7 L688.4,276.8 L685.5,280.8 L683.3,284.7 L682.2,289.0 L680.0,291.1 L677.1,294.6 L675.6,297.3 L673.9,301.5 L672.0,303.5 L669.5,305.0 L669.0,308.8 L665.5,309.0 L662.5,312.1 L657.8,314.5 L655.9,317.0 L654.0,319.1 L649.7,321.0 L647.1,323.9 L646.0,325.3 L641.2,325.0 L638.4,326.0 L636.1,328.6 L631.8,329.4 L629.1,331.4 L626.2,331.9 L622.1,329.4 L619.4,327.8 L618.0,325.3 L613.4,324.6 L609.8,323.6 L605.9,323.1 L602.9,323.6 L599.9,322.0 L598.1,324.3 L594.9,328.6 M590.0,244.6 L591.4,241.9 L595.4,238.5 L597.0,237.4 L599.9,234.7 L603.6,234.0 L604.9,232.3 L607.0,228.4 L610.3,228.4 L613.6,224.6 L615.2,222.1 L618.0,221.5 L617.3,218.6 L612.3,215.5 L611.4,213.3 L608.1,210.0 M590.0,312.1 L593.3,311.1 L595.9,312.4 L601.1,313.4 L603.2,314.6 M590.0,335.2 L593.1,337.2 L597.0,337.6 L599.9,338.5 L601.2,341.9 L603.6,341.3 L606.5,345.0 L609.8,350.0 M669.0,312.1 L670.5,314.3 L673.9,314.7 L677.5,316.0 L681.1,320.2 L682.2,320.3 L684.0,322.0 L689.4,321.5 L692.6,323.8 L695.8,324.4 L698.7,326.9 L702.0,329.1 L703.7,332.9 L705.3,335.2 L706.5,336.8 L707.0,341.6 L709.1,343.0 L709.9,347.6 L711.9,350.0 M790.9,185.0 L789.8,188.2 L789.3,191.7 L790.2,196.2 L788.7,198.1 L792.0,200.8 L794.1,200.5 L796.9,203.4 L799.2,202.3 L804.1,203.6 L806.2,205.7 L807.7,204.4 L811.9,203.8 L814.1,202.5 L817.1,201.1 L820.7,200.3 L823.6,200.3 L825.9,203.3 L831.4,203.2 L833.5,203.9 L836.7,206.8 L837.1,209.6 L842.0,210.9 L842.3,215.9 L844.4,217.7 L839.8,219.6 L837.6,221.8 L836.4,223.9 L832.4,224.3 L835.4,225.7 L837.2,229.9 L838.3,231.5 L841.1,235.2 L843.2,237.8 L845.2,242.4 L847.6,243.9 L848.1,247.8 L849.2,250.0 L851.5,251.8 L853.1,254.8 L851.7,256.9 L849.5,261.1 L848.0,265.7 L847.6,267.9 L848.8,271.6 L849.4,273.4 L847.7,276.4 L849.8,281.0 L852.8,283.6 L854.8,285.7 L854.7,289.3 L857.9,291.2 L858.5,294.1 L860.7,291.4 L862.1,291.0 L866.4,287.3 L866.1,286.5 L869.5,283.2 L872.2,282.2 L875.0,278.2 L879.0,276.5 L882.5,274.9 L883.5,272.5 L886.9,272.3 M697.1,193.7 L699.3,188.3 L702.0,188.4 L705.2,186.3 L710.2,187.2 L714.5,185.0 M679.6,320.0 L681.0,319.7 L685.3,321.6 L688.9,324.3 L690.9,326.4 L695.2,325.6 L697.3,328.1 L699.3,328.7 L700.0,332.3 L701.3,334.5 L705.8,337.1 L706.9,339.7 L708.0,341.8 L709.5,343.2 L711.1,346.5 L714.2,350.9 L716.5,351.8 L716.7,354.9 L719.6,358.9 L718.5,360.5 L720.3,361.7 L723.3,365.8 L724.5,369.4 L725.2,371.1 L727.6,374.5 L730.3,376.9 L731.9,377.9 L734.3,380.5 L738.5,383.3 L743.4,384.5 L745.1,387.6 L749.2,390.3 L751.6,392.0 L755.5,395.7 L757.1,397.5 L752.1,396.1 L751.1,396.3 L747.6,393.5 L742.9,394.2 L740.2,394.9 L735.3,396.4 L739.2,397.8 L740.8,398.8 L742.8,401.4 L747.3,401.2 L751.7,402.4 L754.3,403.4 L757.1,403.3 M734.2,398.5 L735.4,400.6 L737.6,405.9 L738.5,407.3 L738.6,411.5 L736.4,413.8 L737.5,416.1 L740.0,419.8 L742.9,422.5 L747.1,424.4 L749.0,425.2 L751.6,426.9 L753.3,424.5 L758.6,424.9 L760.3,422.6 L762.5,420.4 L760.2,415.9 L758.1,413.0 L758.2,411.6 L755.1,410.3 L754.1,404.9 L751.6,402.9 M660.0,378.9 L661.6,375.9 L664.3,374.8 L668.7,374.5 L671.8,374.2 L675.1,376.4 L679.6,376.7 L678.4,379.9 L679.6,385.5 L676.1,385.8 L670.9,387.6 L668.0,389.1 L664.4,392.0 L666.1,393.7 L666.5,398.5 L662.5,401.9 L660.0,402.9 M660.0,402.9 L662.6,404.4 L665.6,403.8 L669.6,406.0 L673.1,407.3 L673.1,410.3 L675.8,412.6 L677.5,416.0 L680.5,420.5 L681.8,422.5 L685.2,421.2 L690.0,421.9 L692.7,420.4 L696.4,420.7 L699.5,421.1 L703.6,420.4 L707.5,423.0 L710.3,421.9 L714.5,424.7 L718.6,426.5 L721.3,428.4 L723.3,429.1 L727.1,427.2 L730.3,426.6 L732.0,424.7 L733.9,421.5 L736.4,420.4 M692.7,420.4 L693.1,422.2 L695.4,425.3 L698.0,430.0 L699.3,431.3 L697.3,434.7 L693.3,437.7 L692.7,440.0 L691.2,443.6 L689.0,445.9 L687.9,449.1 L686.2,450.9 L684.0,455.1 M710.2,437.8 L713.2,439.9 L717.9,440.1 L720.0,441.7 L723.3,442.2 L727.0,443.0 L731.9,440.7 L734.2,440.0 L738.1,438.7 L742.0,440.4 L742.5,438.4 L747.3,440.0 L751.1,442.5 L753.1,443.0 L754.6,444.9 L758.2,446.5 L762.8,444.8 L764.7,442.2 L766.2,439.8 L769.2,440.4 L773.5,437.8 L777.5,440.6 L779.1,440.1 L782.2,442.2 L779.3,444.3 L778.8,447.6 L777.8,450.9 L774.4,453.0 L773.1,453.3 L769.1,455.1 M660.0,103.9 L662.0,100.3 L664.9,99.7 L668.7,97.4 L671.8,94.9 L674.5,93.0 L677.9,90.1 L679.6,89.7 L683.4,89.2 L685.7,86.5 L688.4,84.3 L692.8,81.0 L692.9,79.9 L697.1,77.7 L700.5,76.5 L702.5,74.8 L705.1,74.8 L708.0,72.3 L709.9,71.4 L713.2,70.6 L717.1,69.1 L721.1,66.8 L722.7,64.3 L725.5,62.5 L727.6,58.1 L729.7,54.9 L732.0,51.5 M678.5,67.9 L680.4,70.4 L683.6,74.0 L684.0,77.7 L685.1,80.1 L688.4,84.3 M747.3,51.5 L751.6,52.8 L754.8,53.0 L758.2,51.5 L758.8,56.4 L761.9,57.9 L762.5,62.5 L763.4,64.4 L766.6,66.8 L769.8,68.1 L770.5,70.6 L773.5,73.4 L773.8,76.8 L776.7,79.9 L777.8,84.3 L778.8,87.9 L780.9,91.2 L784.4,93.0 L786.9,95.0 L787.2,99.9 L790.9,101.7 L790.5,106.9 L793.1,110.5 L791.0,113.2 L787.8,115.6 L786.5,117.0 L783.6,120.0 L783.7,122.8 L778.9,124.4 L777.8,127.9 L775.3,131.9 L774.4,133.4 L771.3,136.6 L769.9,138.9 L768.0,141.5 L767.8,144.4 L764.7,147.5 L761.4,149.6 L758.4,149.6 L756.4,153.5 L753.8,154.1 L749.8,154.1 L745.9,155.9 L742.9,156.3 L739.6,158.1 L737.7,158.3 L734.5,162.5 L731.5,164.1 L729.8,165.0 L725.8,167.1 L724.3,169.8 L720.4,170.3 L719.0,175.1 L716.7,175.9 L714.6,180.1 L712.5,183.6 L710.2,185.1 M790.9,108.3 L791.7,107.3 L794.5,103.0 L797.5,101.5 L799.6,99.5 L803.0,98.3 L803.8,93.5 L804.0,91.5 L806.0,88.2 L808.4,86.5 L809.6,82.4 L812.7,79.9 L815.4,79.8 L819.3,82.1 L821.6,84.6 L826.2,84.6 L828.0,85.4 L832.7,86.5 L833.2,83.4 L837.3,84.6 L841.1,84.3 L843.8,78.4 L843.3,75.5 L842.5,73.6 L839.6,70.6 L838.9,66.8 L836.7,62.5 L841.0,60.3 L843.3,60.6 L846.8,58.7 L849.5,57.4 L852.0,58.1 L852.7,55.7 L855.9,53.5 L858.5,51.5 M664.4,134.5 L666.2,134.4 L669.5,131.2 L672.1,130.8 L675.3,127.9 L677.1,130.4 L680.1,131.3 L684.0,131.2 L687.3,130.6 L690.1,130.5 L693.6,129.5 L698.5,129.0 L701.5,126.8 L706.3,129.4 L708.0,130.1 L709.1,134.0 L711.1,136.9 L714.5,138.8 L714.8,142.0 L712.4,147.5 L709.5,151.3 L709.2,153.6 L709.3,157.1 L706.9,158.5 L705.9,162.5 L706.0,165.1 L703.6,167.2 L702.1,171.4 L701.2,174.3 L700.4,175.9 L701.1,178.9 L701.1,180.8 L703.6,185.1 M660.0,158.5 L664.3,156.1 L666.6,154.0 L668.7,151.9 L671.6,149.1 L672.0,145.5 L675.3,143.2 L677.2,139.2 L679.6,136.0 L679.6,134.5 M764.7,150.8 L768.4,152.2 L772.4,150.1 L773.9,152.1 L778.4,150.4 L782.2,151.9 L784.6,153.2 L787.9,152.7 L793.1,154.1 L795.6,157.7 L795.3,162.8 L796.2,164.5 L794.0,167.7 L795.5,172.6 L795.5,176.5 L795.2,177.5 L794.2,180.4 L794.2,185.1 M742.9,156.3 L743.7,159.1 L742.5,163.9 L744.1,166.2 L742.1,170.3 L743.4,171.4 L742.0,176.9 L743.6,180.0 L741.9,180.8 L741.8,185.1 M838.9,149.7 L843.4,150.4 L845.8,152.6 L849.8,154.2 L852.0,156.3 L854.9,159.0 L859.3,161.1 L860.6,160.0 L865.1,162.8 L868.9,165.0 L871.6,167.2 L876.2,169.2 L878.2,171.5 L879.6,173.7 L883.2,176.9 L886.9,178.1 M838.9,149.7 L841.0,147.6 L839.8,143.4 L841.2,141.4 L843.3,136.6 L838.9,134.9 L836.7,132.3 L839.9,129.4 L841.9,127.2 L842.7,125.9 L845.2,124.4 L849.6,124.1 L850.7,120.7 L854.5,118.3 L856.4,117.0 L857.9,114.0 L861.8,111.5 L863.8,108.2 L864.5,106.1 L866.4,103.2 L869.5,101.7 L871.3,100.1 L874.3,98.1 L875.4,93.2 L877.4,91.2 L880.4,88.6 M880.4,88.6 L878.1,86.7 L877.9,81.4 L877.1,79.7 L875.0,76.4 L875.5,75.7 L873.8,71.2 L875.0,66.9 L874.1,63.6 L875.6,60.5 L877.1,56.5 L878.2,53.7 M684.0,455.0 L682.2,460.0 L684.0,463.0 L681.8,465.9 L680.3,468.3 L676.8,470.1 L673.1,472.5 L670.7,475.7 L667.9,477.8 L664.4,479.0 L664.7,482.1 L665.3,487.5 L664.4,489.9 L666.4,490.3 L668.6,492.0 L673.1,494.3 L673.4,496.4 L674.6,499.8 L676.0,504.9 L677.0,504.9 L679.6,509.5 L685.3,510.3 L688.4,511.7 L690.6,514.1 L689.7,516.1 L692.7,520.5 L695.5,522.6 L695.5,527.0 L697.1,531.4 L701.2,530.2 L705.3,529.0 L708.0,529.2 L711.0,529.3 L713.9,527.7 L716.7,524.8 L717.5,529.3 L721.1,531.4 L718.6,535.9 L717.4,536.4 L714.5,540.1 L716.9,541.9 L717.5,546.7 L718.9,548.8 L720.0,549.6 L724.4,552.2 L725.5,555.4 L725.7,558.5 L723.4,563.1 L723.4,564.4 L723.3,568.5 L722.4,572.9 L718.4,575.8 L716.7,577.2 L714.4,581.3 L714.8,582.8 L713.1,586.3 L712.4,590.1 M660.0,527.0 L663.3,525.1 L665.2,524.3 L667.7,520.8 L670.9,520.5 L673.1,519.2 L674.4,514.8 L678.8,512.0 L679.6,510.6 M773.5,596.5 L771.3,600.8 L769.5,601.5 L770.1,605.0 L767.6,607.8 L767.1,610.7 L765.8,612.3 L764.7,616.2 L763.9,618.5 L762.8,621.5 L761.5,624.1 L759.4,629.3 L756.8,631.7 L756.0,633.6 L755.1,636.4 L753.8,642.4 L755.2,645.2 L754.6,649.9 L757.7,653.6 L758.2,655.5 L758.3,658.1 L761.0,661.1 L760.9,664.2 L763.2,667.7 L764.7,670.7 L767.4,671.9 L770.5,674.2 L773.5,675.1 L774.8,677.2 L778.9,680.3 L780.9,683.0 L782.1,684.9 L784.4,686.0 L785.7,682.0 L786.1,679.0 L785.9,674.4 L786.9,671.5 L786.5,668.5 L787.4,665.7 L789.6,664.3 L791.0,660.4 L790.2,657.0 L792.4,653.5 L793.1,651.1 L795.3,647.0 L794.9,645.6 L794.8,640.4 L797.9,638.5 L797.5,633.6 L797.7,630.8 L798.6,625.3 L800.1,624.4 L800.5,618.8 L799.6,616.2 L799.2,613.9 L799.7,610.8 L796.6,606.9 L797.5,603.1 L796.4,598.7 L796.4,595.2 L795.2,593.1 L795.3,590.0 L791.7,588.3 L788.7,587.8 L784.3,585.9 L782.2,585.6 L779.5,586.8 L777.9,592.4 L774.8,595.0 L773.5,596.5" fill="none" stroke="#000" stroke-width="1" shape-rendering="crispEdges"/><path d="M385.6,729.6 L383.6,733.6 L385.0,733.1 L384.7,731.5 L387.9,731.4 M387.7,729.0 L386.2,725.6 L388.0,728.0 L389.3,724.4 L389.3,728.0 L386.4,728.5 M393.5,727.9 L391.4,729.2 L393.8,727.2 M397.9,723.3 L394.5,724.9 L394.2,724.9 M400.5,730.6 L402.5,728.2 L400.1,727.0 L403.7,726.2 L401.8,728.7 L400.9,729.5 M405.4,729.7 L407.5,729.2 L405.7,730.4 L404.0,726.5 M408.8,728.6 L408.4,728.7 L405.7,731.6 L408.0,730.8 L405.7,728.9 L405.6,728.5 M411.3,725.2 L409.1,725.0 L408.4,726.6 L408.6,728.3 L409.4,725.3 M416.0,731.2 L415.2,728.2 L417.0,732.4 L415.4,730.9 L414.3,732.6 L416.4,729.1 M419.3,734.9 L421.1,732.2 L419.3,736.1 L417.9,733.3 L419.0,732.4 M422.3,731.6 L420.4,732.3 L422.1,730.4 L418.3,733.3 M425.2,732.3 L426.7,731.0 L423.9,727.2 L425.9,731.0 L424.2,729.6 M428.7,728.3 L426.3,729.2 L427.4,730.1 L426.6,728.4 M427.7,726.9 L429.7,727.6 L429.8,727.4 L427.7,729.4 L432.0,731.1 M435.6,728.4 L434.3,726.2 L434.2,725.5 M454.7,744.2 L449.8,742.2 L453.2,743.4 L454.6,744.5 L453.4,742.0 L452.5,744.9 M454.9,743.5 L459.2,745.8 L458.1,743.4 L459.1,742.6 L459.1,743.5 M457.8,742.0 L458.4,740.7 L458.7,740.3 L454.7,739.0 M467.3,741.7 L462.8,741.8 L463.7,741.1 L466.7,737.3 L463.4,740.3 L464.4,742.3 M464.0,736.3 L464.6,738.7 L465.8,738.2 L466.2,735.6 L468.3,735.3 L466.6,737.2 M470.8,738.4 L469.2,738.4 L473.7,735.6 M475.5,732.6 L474.4,734.8 L472.1,733.9 M478.0,731.3 L473.9,732.4 L476.1,732.3 L477.7,730.9 M476.8,729.5 L480.6,730.6 L477.2,731.6 L478.2,732.9 M479.1,727.5 L481.0,729.5 L481.2,727.5 M484.7,729.9 L481.5,727.8 L481.5,727.7 L481.8,727.2 M484.8,728.6 L486.3,730.1 L483.8,727.0 L485.3,727.0 L485.3,728.9 M491.8,722.0 L490.0,724.6 L489.1,723.7 L491.6,723.3 M492.3,728.8 L493.5,727.4 L492.8,726.8 L491.4,724.9 L494.7,727.4 M494.3,724.7 L495.6,725.0 L493.6,725.3 L493.3,724.6 M497.1,725.1 L498.3,723.0 L496.1,724.8 L497.1,721.8 M499.5,720.6 L502.7,719.7 L501.2,721.6 L500.6,719.8 L500.1,718.2 M506.4,721.4 L504.2,721.4 L502.8,722.0 L507.1,723.0 L503.0,721.5 M508.3,715.5 L507.5,715.8 L511.8,717.4 L511.5,719.4 L508.1,718.7 M513.0,720.2 L516.1,719.0 L514.8,717.5 L512.2,717.0 L516.2,718.2 M517.5,719.8 L515.1,719.7 L516.3,717.6 L513.7,717.8 L516.5,719.8 M515.7,719.5 L518.6,718.4 L517.6,719.9 M518.1,716.8 L517.7,720.0 L520.8,720.3 L521.1,717.1 L520.9,717.1 M525.2,716.8 L522.9,712.7 L526.6,716.7 L524.5,714.0 L526.0,717.0 M531.0,716.3 L532.7,717.3 L529.4,714.1 L530.7,714.2 M531.5,713.6 L533.9,712.5 L532.1,708.8 L532.5,710.1 L531.9,709.1 L532.2,712.7 M534.3,714.6 L536.7,712.8 L538.7,713.6 L535.3,711.2 M536.9,712.0 L538.5,712.2 L540.9,714.6 L538.0,713.0 M540.8,712.4 L539.7,713.8 L542.0,711.5 M541.2,706.1 L540.3,710.4 L544.0,707.5 M550.5,707.5 L550.5,704.3 L549.0,705.0 L550.4,706.3 M554.7,708.3 L555.9,707.1 L550.9,708.5 L550.9,709.0 M743.4,226.7 L744.0,227.6 L742.4,226.5 L743.4,224.6 L745.1,229.0 L743.9,226.2 M741.4,231.7 L740.7,229.6 L740.6,231.1 L743.1,233.6 L742.1,229.5 M743.8,233.0 L746.4,235.9 L745.6,232.1 M744.3,235.6 L744.0,237.9 L744.2,234.8 L743.2,237.0 M743.6,241.2 L743.2,238.6 L746.0,239.5 L741.4,237.1 L744.0,238.1 L741.5,240.6 M739.7,244.6 L740.3,242.0 L735.7,243.8 L736.6,241.9 L737.7,241.3 M735.0,241.1 L734.2,240.0 L735.3,243.0 L734.8,242.1 L733.3,244.1 L732.7,240.2 M728.4,246.6 L729.7,242.7 L729.8,243.5 L729.0,242.7 L727.1,242.8 M727.4,240.6 L729.6,240.5 L729.6,240.0 L724.8,242.3 L727.6,242.9 L728.7,240.4 M727.2,243.4 L728.3,244.2 L724.7,244.9 M724.7,248.0 L725.5,245.2 L724.2,244.8 L725.4,246.3 L723.9,244.6 L724.6,245.5 M718.2,249.4 L715.2,249.6 L716.7,249.4 L716.9,253.5 L717.9,253.8 M716.0,254.9 L716.5,251.1 L719.1,253.3 L715.0,254.9 L717.3,255.4 L719.0,255.3 M716.8,254.2 L715.9,254.0 L711.8,249.8 L711.7,253.1 L713.1,250.4 L712.0,252.6 M711.3,256.2 L710.0,253.9 L710.7,255.2 L708.5,253.8 L709.8,255.8 L709.3,258.0 M707.0,254.7 L709.1,255.1 L708.5,254.2 L708.2,255.6 M706.6,256.6 L705.4,255.3 L707.4,257.0 L703.7,258.2 M702.4,261.4 L705.9,260.8 L702.0,261.7 M701.6,263.1 L700.0,267.2 L704.5,266.4 L700.9,266.1 L700.9,263.4 L700.7,263.6 M694.0,266.1 L694.3,268.3 L697.0,268.9 L693.3,265.5 M693.6,270.0 L694.8,269.4 L692.7,272.2 L694.0,269.7 L694.0,271.3 L691.4,269.4 M692.2,271.5 L693.3,272.7 L692.2,273.7 L694.9,273.3 L694.9,272.3 M689.7,273.6 L693.0,277.1 L690.9,273.2 L688.2,276.5 M688.0,278.9 L688.2,278.5 L690.4,277.6 L688.2,275.8 L690.6,277.3 M687.3,280.7 L684.2,280.5 L687.4,280.5 L687.0,280.9 M683.8,283.9 L685.7,286.7 L682.7,284.8 L682.6,283.2 M684.5,287.0 L681.7,287.2 L682.6,285.6 M677.6,291.3 L679.4,292.6 L682.1,292.4 M675.4,292.9 L677.5,293.0 L676.6,296.3 L678.1,293.4 M674.3,297.3 L678.8,294.8 L676.1,297.2 M674.4,303.7 L671.6,300.9 L674.6,300.5 M669.3,303.1 L667.8,300.2 L671.4,301.3 M674.8,308.6 L672.9,306.2 L672.5,305.2 L671.1,306.8 L672.0,306.1 L670.2,309.2 M763.0,441.9 L766.4,443.4 L763.6,442.0 L761.7,443.3 L764.3,440.4 M765.9,441.1 L765.9,444.9 L768.9,442.7 L768.2,441.8 L764.6,440.2 L766.5,440.3 M764.4,440.5 L766.6,437.6 L764.8,442.1 M768.5,440.4 L769.0,438.9 L771.4,436.6 L770.2,437.3 M770.3,433.6 L773.1,434.6 L770.3,433.8 L770.9,436.5 L772.7,439.0 L773.1,437.3 M770.9,442.5 L770.3,439.2 L773.8,439.0 L774.6,442.9 M774.7,438.1 L777.5,438.2 L778.2,440.2 L774.0,441.2 M779.7,442.6 L782.4,437.3 L778.7,441.8 L778.9,440.0 L779.8,437.0 M779.1,442.6 L774.9,444.6 L779.0,444.4 L774.0,444.5 L775.1,444.7 L775.8,444.7 M779.3,443.7 L780.3,444.7 L776.1,442.6 L781.8,445.7 M777.1,449.7 L777.9,446.8 L781.1,446.6 M782.4,450.2 L781.9,447.1 L779.2,449.7 M781.4,445.7 L781.1,446.6 L782.0,447.5 L781.0,448.3 L784.5,449.2 M779.7,454.9 L775.7,450.0 L776.9,451.9 L776.3,450.5 L778.4,454.2 L775.3,455.1 M774.8,452.1 L777.6,456.3 L778.4,454.1 L778.4,452.9 L776.1,453.4 M779.5,455.4 L775.8,454.6 L779.4,455.0 L779.9,455.3 M776.3,453.3 L776.7,455.6 L772.7,456.0 L772.6,454.3 L775.7,456.7 L774.4,456.7 M775.2,459.1 L775.7,458.5 L775.1,458.3 M771.7,459.4 L772.9,457.1 L767.6,458.0 L771.1,459.0 L768.5,456.4 L772.6,459.4 M772.1,460.1 L769.4,460.7 L772.9,462.0 L775.0,462.5 L774.6,462.7 L773.2,463.7 M772.2,464.2 L770.4,463.1 L768.5,463.3 L769.2,465.1 L773.0,462.2 M770.6,464.6 L771.3,463.7 L768.5,463.2 L770.7,465.0 M769.2,466.4 L770.6,468.5 L766.4,468.2 L767.6,469.5 L769.1,466.5 M762.3,469.4 L764.4,472.2 L765.3,471.9 L765.4,472.2 L763.8,466.7 L766.4,470.5 M761.5,467.4 L760.9,467.7 L764.1,469.7 L762.2,468.2 L765.1,470.9 L761.6,471.8 M765.7,474.1 L766.9,471.6 L766.3,468.4 L763.3,472.9 M761.8,479.5 L762.1,475.7 L761.3,478.3 L761.7,476.4 L761.6,478.5 M764.9,477.3 L765.5,474.2 L762.0,476.9 L762.6,479.4 L762.5,474.6 M761.2,476.7 L761.6,479.8 L761.2,474.7 L762.5,478.0 L762.9,477.3 M765.3,483.0 L764.3,479.9 L762.1,483.9 L766.0,479.4 M765.9,482.2 L770.8,481.3 L770.4,479.1 L769.8,478.7 L766.4,478.6 M765.8,484.9 L765.6,489.7 L761.6,489.1 L764.6,488.1 L765.6,485.3 M767.5,486.4 L769.5,487.3 L767.6,485.1 L766.3,483.8 L770.6,486.8 L766.2,488.3 M766.7,493.3 L762.5,489.5 L761.8,491.5 L762.3,493.6 L761.8,491.4 M761.1,492.4 L760.9,495.1 L764.6,493.8 L765.2,496.0 M768.2,494.5 L768.6,494.9 L763.7,496.8 L762.9,495.0 L765.0,496.2 L768.7,496.1 M766.4,497.0 L761.2,496.0 L762.9,493.9 M763.2,497.6 L760.3,498.2 L758.3,497.3 L759.0,497.7 L762.6,496.7 M760.7,500.5 L758.3,499.1 L760.4,495.4 M758.7,504.9 L760.4,506.4 L761.9,505.7 L763.0,503.7 M761.0,500.1 L759.3,502.7 L758.2,504.0 M756.5,507.2 L753.5,503.7 L754.2,505.1 M754.4,510.1 L755.2,508.0 L755.4,509.0 M754.8,509.5 L754.0,510.2 L752.6,512.5 M753.7,510.9 L752.8,507.0 L754.9,507.7 M752.2,512.0 L751.1,515.3 L749.6,514.6 L752.2,513.5 L752.3,517.3 L754.7,514.2 M753.2,513.1 L750.1,515.2 L753.9,514.1 L753.8,514.2 L751.5,514.9 M752.7,516.7 L749.0,515.9 L754.2,517.3 L751.2,517.1 L750.9,516.1 M748.9,517.7 L747.3,520.6 L749.5,518.0 L747.4,516.8 L748.3,516.6 L748.6,516.3 M746.6,520.4 L748.0,518.3 L746.1,520.6 L747.8,517.9 L746.8,520.1 M750.9,524.8 L749.5,526.3 L749.5,521.2 L748.2,522.9 L748.8,521.4 L749.1,524.7 M744.2,524.8 L746.3,524.6 L744.9,522.2 L741.8,523.1 L743.6,523.5 M742.5,527.0 L742.1,528.0 L742.0,528.8 L741.8,526.2 L740.0,527.3 L740.4,525.7 M740.7,525.9 L740.5,527.0 L738.0,529.1 M740.4,532.2 L739.4,530.9 L741.0,531.4 L739.0,534.0 M738.2,530.8 L739.6,535.6 L740.9,534.5 L737.9,533.9 L739.8,536.5 M738.3,531.7 L739.1,532.8 L735.6,530.5 L735.4,534.2 L739.3,530.3 L737.7,529.8 M732.6,538.8 L736.4,539.1 L736.4,535.4 L732.8,534.3 L735.7,534.7 L736.4,534.1 M739.8,538.7 L737.8,538.0 L735.1,537.2 M734.0,538.3 L737.0,538.3 L738.4,535.5 L733.7,537.5 M733.3,545.2 L734.1,545.8 L733.7,541.6 L736.4,542.0 L731.1,545.0 M735.3,543.4 L733.3,542.3 L734.0,544.4 L736.7,544.4 M733.2,545.7 L731.3,546.0 L735.8,543.8 L731.4,543.6 L733.7,546.8 L736.1,546.2 M729.9,547.4 L735.5,550.8 L732.1,548.5 L730.4,548.0 L732.2,546.8 M728.2,548.3 L726.3,549.0 L728.1,543.5 L728.1,544.0 L727.6,546.2 M728.3,546.5 L729.0,545.8 L732.7,546.8 L727.5,549.5 M730.6,548.5 L729.7,547.9 L729.1,552.5 L726.1,549.8 L726.8,553.0 L730.8,553.3 M724.4,554.1 L728.5,553.8 L726.6,556.5 L728.4,551.6 L729.7,554.1 L725.9,554.5 M729.8,558.7 L725.9,555.1 L729.3,559.6 L724.7,556.3 L725.2,556.9 L724.6,556.6 M723.9,553.0 L727.1,555.0 L726.6,556.6 L722.8,555.7 M723.7,564.9 L724.3,563.0 L726.9,563.6 L726.1,562.0 M722.3,560.6 L727.2,561.0 L723.6,560.9 M727.7,566.0 L724.1,568.2 L724.9,566.2 M724.6,565.6 L719.3,566.2 L721.7,568.3 L721.0,568.8 M727.9,566.1 L728.4,568.0 L726.9,566.8 M724.7,568.9 L725.6,570.8 L726.7,569.8 L724.2,573.4 L727.3,572.1 M723.2,572.3 L725.0,573.6 L724.9,573.4 L724.4,572.1 M722.1,571.7 L722.9,573.4 L723.5,572.8 L724.7,574.1 M728.6,578.9 L724.7,578.7 L723.0,575.9 L727.0,574.3 L723.9,579.8 M723.9,582.1 L721.3,579.8 L721.4,580.7 M722.6,581.5 L724.6,578.6 L724.9,581.3 L724.5,583.7 M721.2,580.5 L721.2,582.4 L723.2,581.9 L722.8,584.8 M726.9,588.4 L725.2,587.8 L723.6,589.4 M722.5,586.7 L726.6,588.0 L726.4,583.9 L723.4,586.3 M727.2,588.8 L726.5,591.2 L729.6,588.5 L727.8,591.3 L726.0,591.7 L726.3,589.5 M731.0,589.7 L733.9,587.2 L731.0,588.6 L731.3,590.1 M731.8,591.8 L728.5,590.8 L730.9,589.0 L732.3,589.3 L733.6,587.7 M725.6,591.7 L727.3,594.6 L730.1,593.2 L729.9,591.8 M726.1,595.3 L724.7,591.8 L724.3,592.8 M725.1,594.4 L724.5,593.6 L727.9,591.9 L723.9,593.7 M725.1,591.0 L723.4,590.9 L725.5,595.4 L723.0,596.3 L722.5,594.7 L721.7,592.6 M719.9,594.7 L719.4,593.3 L719.1,596.6 L717.0,598.1 L717.0,595.1 L718.6,595.6 M718.2,595.8 L721.1,597.5 L721.3,595.3 M718.3,599.4 L717.4,594.9 L716.5,600.7 L717.5,595.5 M711.8,603.0 L711.9,602.1 L713.7,602.5 L715.6,602.5 L713.9,601.8 L712.1,603.3 M710.7,602.2 L712.7,596.3 L713.4,597.2 L711.7,601.2 M711.0,604.1 L709.6,598.8 L715.3,602.1 M711.1,605.7 L711.4,607.4 L711.5,605.6 L715.1,606.2 L709.2,606.4 M708.6,601.8 L706.3,604.5 L705.9,603.4 L707.7,605.8 L708.0,603.6 M712.2,604.4 L712.1,604.8 L709.6,607.4 L711.3,604.3 L709.5,608.7 L711.2,607.5 M707.0,610.1 L712.2,609.6 L711.3,611.5 L712.1,607.4 M706.5,607.7 L705.9,607.8 L709.2,612.4 L704.3,611.5 M706.8,612.3 L705.9,610.5 L705.7,611.3 L706.5,612.3 M701.5,614.1 L703.9,618.7 L701.6,614.3 L699.7,614.2 M700.8,614.7 L697.5,618.5 L698.6,619.5 L701.9,617.1 M697.2,614.1 L696.1,615.4 L700.1,615.5 M694.0,621.6 L694.5,618.4 L696.1,621.4 L697.5,619.5 M698.8,625.0 L699.7,619.3 L699.9,623.0 L699.4,625.1 L699.8,620.7 L697.1,623.1 M697.2,621.9 L695.4,618.6 L695.0,623.8 L697.5,621.8 L696.6,620.6 L693.2,619.5 M691.8,623.6 L695.4,619.6 L690.4,619.2 L694.3,619.8 L692.9,618.1 M696.0,629.1 L692.0,627.4 L694.2,625.2 L694.2,624.3 M689.8,626.5 L693.5,624.0 L692.3,621.8 L693.0,626.0 L689.3,624.6 L694.1,626.1 M688.0,629.2 L686.5,626.2 L685.7,631.6 L687.3,627.4 M686.3,623.1 L689.0,623.7 L688.0,623.9 M682.2,631.2 L680.9,631.5 L685.5,631.1 L681.3,628.6 L682.7,626.9 M682.4,627.2 L684.9,631.8 L679.8,630.9 M678.8,628.6 L676.9,628.3 L680.1,628.0 L679.5,632.0 L676.6,632.7 L679.5,629.7 M675.6,630.1 L674.7,626.9 L675.3,627.5 M674.7,627.5 L672.5,630.3 L676.4,628.7 M672.5,633.2 L671.0,630.9 L674.9,633.6 M670.2,634.5 L671.8,633.8 L669.6,631.6 L670.2,634.7 L672.0,631.6 M667.4,634.3 L666.8,638.5 L667.6,636.3 L670.0,637.0 M670.9,637.8 L671.7,637.9 L668.1,639.0 L672.0,635.4 M672.4,639.9 L671.9,639.5 L669.5,637.3 L668.8,640.4 M670.9,641.9 L673.0,645.4 L668.0,647.4 L669.5,643.8 L670.4,642.4 L668.5,645.2 M671.3,645.5 L667.7,642.9 L670.8,644.6 L670.1,646.3 L667.4,642.3 M667.0,642.8 L670.2,646.6 L667.0,642.6 L669.9,643.7 L669.8,643.5 L671.2,642.9 M665.2,644.2 L663.8,649.0 L662.9,647.8 L664.8,645.2 L665.9,648.2 M663.1,648.5 L663.2,649.6 L663.6,648.3 M663.0,651.5 L661.1,652.5 L663.2,654.9" fill="none" stroke="#000" stroke-width="1" shape-rendering="crispEdges"/><path d="M385.5,729.6 L396.4,725.3 L407.3,727.5 L418.2,731.8 L431.3,729.6 L440.0,726.4 M451.8,742.7 L462.7,740.5 L478.0,731.8 L495.5,723.1 L508.5,718.7 L521.6,716.5 L534.7,712.2 L547.8,707.8 L556.5,705.6 M741.5,228.1 L744.0,234.7 L743.2,241.3 L734.9,241.3 L725.0,246.2 L715.2,251.2 L703.6,257.8 L700.3,266.0 L692.1,272.6 L685.5,280.8 L682.2,289.0 L675.6,297.3 L669.0,308.8 M762.5,442.2 L773.5,437.8 L782.2,445.5 L775.6,455.1 M775.6,455.0 L769.1,463.7 L762.5,476.8 L766.9,485.5 L762.5,498.6 L753.8,509.5 L747.3,520.5 L738.5,533.5 L732.0,546.6 L725.5,559.7 L723.3,572.8 L725.5,585.9 L729.8,590.1 M732.0,590.0 L714.5,600.9 L703.6,614.0 L692.7,624.9 L681.8,629.3 L670.9,633.6 L668.7,642.4 L660.0,653.3" fill="none" stroke="#000" stroke-width="1.2"/></g>
<g fill="none" stroke="#8010F0" stroke-width="1.8"><circle cx="734.1" cy="95" r="5.1"/><circle cx="458.9" cy="158.6" r="5.1"/><circle cx="577.9" cy="177.5" r="5.1"/><circle cx="600.1" cy="197.2" r="5.1"/><circle cx="326.8" cy="231.8" r="5.1"/><circle cx="486.9" cy="245" r="5.1"/><circle cx="536.3" cy="235.9" r="5.1"/><circle cx="605.9" cy="270.5" r="5.1"/><circle cx="258.5" cy="302.6" r="5.1"/><circle cx="523.2" cy="334.6" r="5.1"/><circle cx="398" cy="356" r="5.1"/><circle cx="630.6" cy="410.4" r="5.1"/><circle cx="671.8" cy="399.7" r="5.1"/><circle cx="748.8" cy="412" r="5.1"/><circle cx="718.3" cy="445" r="5.1"/><circle cx="553.2" cy="458.9" r="5.1"/><circle cx="261.8" cy="462.2" r="5.1"/><circle cx="331.8" cy="496.8" r="5.1"/><circle cx="604.2" cy="508.3" r="5.1"/><circle cx="521.8" cy="529.8" r="5.1"/><circle cx="714.6" cy="572.4" r="5.1"/><circle cx="336.7" cy="584.8" r="5.1"/><circle cx="213.2" cy="626.8" r="5.1"/><circle cx="387.3" cy="694.3" r="5.1"/><circle cx="542.1" cy="678.6" r="5.1"/></g>
<rect x="207" y="50" width="685" height="699" fill="none" stroke="#000" stroke-width="2.4"/>
<line x1="197" y1="64.4" x2="207" y2="64.4" stroke="#000" stroke-width="1.2"/>
<text x="191" y="72.0" text-anchor="end" class="lab" fill="#FF2020" textLength="45" lengthAdjust="spacingAndGlyphs">44°N</text>
<line x1="197" y1="153.5" x2="207" y2="153.5" stroke="#000" stroke-width="1.2"/>
<text x="191" y="161.1" text-anchor="end" class="lab" fill="#FF2020" textLength="45" lengthAdjust="spacingAndGlyphs">41°N</text>
<line x1="197" y1="242.6" x2="207" y2="242.6" stroke="#000" stroke-width="1.2"/>
<text x="191" y="250.2" text-anchor="end" class="lab" fill="#FF2020" textLength="45" lengthAdjust="spacingAndGlyphs">38°N</text>
<line x1="197" y1="331.7" x2="207" y2="331.7" stroke="#000" stroke-width="1.2"/>
<text x="191" y="339.3" text-anchor="end" class="lab" fill="#FF2020" textLength="45" lengthAdjust="spacingAndGlyphs">35°N</text>
<line x1="197" y1="420.8" x2="207" y2="420.8" stroke="#000" stroke-width="1.2"/>
<text x="191" y="428.4" text-anchor="end" class="lab" fill="#FF2020" textLength="45" lengthAdjust="spacingAndGlyphs">32°N</text>
<line x1="197" y1="509.9" x2="207" y2="509.9" stroke="#000" stroke-width="1.2"/>
<text x="191" y="517.5" text-anchor="end" class="lab" fill="#FF2020" textLength="45" lengthAdjust="spacingAndGlyphs">29°N</text>
<line x1="197" y1="599.0" x2="207" y2="599.0" stroke="#000" stroke-width="1.2"/>
<text x="191" y="606.6" text-anchor="end" class="lab" fill="#FF2020" textLength="45" lengthAdjust="spacingAndGlyphs">26°N</text>
<line x1="197" y1="688.1" x2="207" y2="688.1" stroke="#000" stroke-width="1.2"/>
<text x="191" y="695.7" text-anchor="end" class="lab" fill="#FF2020" textLength="45" lengthAdjust="spacingAndGlyphs">23°N</text>
<line x1="215.5" y1="749" x2="215.5" y2="760.5" stroke="#000" stroke-width="1.2"/>
<text x="198.5" y="782.5" class="lab" fill="#FF2020" textLength="54" lengthAdjust="spacingAndGlyphs">103°E</text>
<line x1="313.4" y1="749" x2="313.4" y2="760.5" stroke="#000" stroke-width="1.2"/>
<text x="296.4" y="782.5" class="lab" fill="#FF2020" textLength="54" lengthAdjust="spacingAndGlyphs">106°E</text>
<line x1="411.2" y1="749" x2="411.2" y2="760.5" stroke="#000" stroke-width="1.2"/>
<text x="394.2" y="782.5" class="lab" fill="#FF2020" textLength="54" lengthAdjust="spacingAndGlyphs">109°E</text>
<line x1="508.3" y1="749" x2="508.3" y2="760.5" stroke="#000" stroke-width="1.2"/>
<text x="491.3" y="782.5" class="lab" fill="#FF2020" textLength="54" lengthAdjust="spacingAndGlyphs">112°E</text>
<line x1="606.4" y1="749" x2="606.4" y2="760.5" stroke="#000" stroke-width="1.2"/>
<text x="589.4" y="782.5" class="lab" fill="#FF2020" textLength="54" lengthAdjust="spacingAndGlyphs">115°E</text>
<line x1="703.5" y1="749" x2="703.5" y2="760.5" stroke="#000" stroke-width="1.2"/>
<text x="686.5" y="782.5" class="lab" fill="#FF2020" textLength="54" lengthAdjust="spacingAndGlyphs">118°E</text>
<line x1="801.4" y1="749" x2="801.4" y2="760.5" stroke="#000" stroke-width="1.2"/>
<text x="784.4" y="782.5" class="lab" fill="#FF2020" textLength="54" lengthAdjust="spacingAndGlyphs">121°E</text>
<line x1="892" y1="749" x2="892" y2="760.5" stroke="#000" stroke-width="1.2"/>
<text x="875.0" y="782.5" class="lab" fill="#FF2020" textLength="54" lengthAdjust="spacingAndGlyphs">124°E</text>
<rect x="956.5" y="274.5" width="40" height="51.0" fill="#7E0023" stroke="#000" stroke-width="1.3"/>
<rect x="956.5" y="325.5" width="40" height="50.0" fill="#CC0070" stroke="#000" stroke-width="1.3"/>
<rect x="956.5" y="375.5" width="40" height="50.0" fill="#FF0000" stroke="#000" stroke-width="1.3"/>
<rect x="956.5" y="425.5" width="40" height="50.0" fill="#FF7E00" stroke="#000" stroke-width="1.3"/>
<rect x="956.5" y="475.5" width="40" height="50.0" fill="#FFFF00" stroke="#000" stroke-width="1.3"/>
<rect x="956.5" y="525.5" width="40" height="50.0" fill="#00E400" stroke="#000" stroke-width="1.3"/>
<text x="1002" y="333.5" class="leg" textLength="39" lengthAdjust="spacingAndGlyphs">300</text>
<text x="1002" y="383.5" class="leg" textLength="39" lengthAdjust="spacingAndGlyphs">200</text>
<text x="1002" y="433.5" class="leg" textLength="39" lengthAdjust="spacingAndGlyphs">150</text>
<text x="1002" y="483.5" class="leg" textLength="39" lengthAdjust="spacingAndGlyphs">100</text>
<text x="1002" y="533.5" class="leg" textLength="26" lengthAdjust="spacingAndGlyphs">50</text>
<text x="941" y="109" class="leg" style="font-size:21px" textLength="92" lengthAdjust="spacingAndGlyphs">(ug/m3)</text>
<line x1="955" y1="750.5" x2="1006" y2="750.5" stroke="#000" stroke-width="1.2"/>
<path d="M991,744 L1006,750.5 L991,757" fill="none" stroke="#000" stroke-width="1.2"/>
<text x="943" y="777.5" class="leg" style="font-size:20px" textLength="81" lengthAdjust="spacingAndGlyphs">10 m/s</text>
<g id="title" style="font-size:24px" fill="#000" stroke="#fff" stroke-width="0.35"><text x="171.8" y="34.3" textLength="52.7" lengthAdjust="spacingAndGlyphs">2024</text><text x="252.7" y="34.3" textLength="23.7" lengthAdjust="spacingAndGlyphs">11</text><text x="306" y="34.3" textLength="26.0" lengthAdjust="spacingAndGlyphs">23</text><text x="358" y="34.3" textLength="123.0" lengthAdjust="spacingAndGlyphs">WRF/cmaq</text><text x="533.4" y="34.3" textLength="61.4" lengthAdjust="spacingAndGlyphs">12km</text><text x="691.5" y="34.3" textLength="4.5" lengthAdjust="spacingAndGlyphs">:</text><text x="700.5" y="34.3" textLength="25.5" lengthAdjust="spacingAndGlyphs">11</text><text x="756" y="34.3" textLength="27.0" lengthAdjust="spacingAndGlyphs">23</text><text x="807" y="34.3" textLength="27.0" lengthAdjust="spacingAndGlyphs">13</text></g>
<text x="871" y="34.3" style="font-size:24px" fill="#FF2020" textLength="42" lengthAdjust="spacingAndGlyphs">AQI</text>
<text x="441.5" y="810" style="font-size:19px">:</text>
<line x1="534.6" y1="788" x2="534.6" y2="817.5" stroke="#000" stroke-width="1.3"/>
<path d="M236.7,12.5 L231.2,20.0M233.8,17.2 L249.5,17.2M234.5,23.3 L248.1,23.3M234.7,23.3 L234.7,29.4M229.7,29.4 L250.3,29.4M241.3,17.2 L241.3,36.0M285.7,14.4 L285.7,27.9 L283.4,36.0M285.7,14.4 L295.9,14.4 L295.9,35.1 L293.9,35.5M285.7,21.3 L295.9,21.3M285.7,27.7 L295.9,27.7M340.9,15.6 L349.6,15.6 L349.6,32.6 L340.9,32.6 L340.9,15.6M340.9,24.0 L349.6,24.0M483.0,19.5 L490.9,19.5M487.1,12.5 L487.1,35.7M487.1,20.6 L483.0,28.7M487.3,21.8 L490.6,26.0M492.0,15.7 L505.5,15.7M495.6,12.5 L495.6,18.5M501.9,12.5 L501.9,18.5M494.2,19.5 L503.2,19.5 L503.2,26.4 L494.2,26.4 L494.2,19.5M494.2,22.9 L503.2,22.9M492.0,30.1 L505.5,30.1M498.8,26.4 L498.8,30.1 L493.4,35.7M499.0,30.4 L505.5,35.7M507.5,19.5 L527.9,19.5M509.0,24.6 L518.6,24.6M513.6,24.6 L513.6,32.9M507.9,33.4 L519.4,32.0M519.9,12.5 L520.8,25.3 L523.4,31.8 L527.7,35.7 L528.2,32.2M524.0,13.7 L526.4,16.2M598.5,15.3 L605.5,15.3 L601.9,19.6M599.9,19.6 L603.5,22.2M597.5,23.9 L606.5,23.9M602.5,23.9 L602.5,33.8 L600.5,34.7M607.5,14.9 L617.5,14.9M608.7,18.6 L616.7,18.6 L616.7,29.3 L608.7,29.3 L608.7,18.6M612.7,18.6 L612.7,28.2M611.5,29.5 L607.5,34.7M613.7,29.5 L617.5,34.7M621.5,19.6 L628.9,19.6M625.7,13.0 L625.7,33.9 L624.0,35.0M622.3,28.8 L628.9,25.3M631.2,14.1 L631.2,35.0M631.2,14.3 L640.4,14.3 L640.4,19.6 L638.3,20.5M631.2,24.0 L640.4,24.0 L634.1,35.0M634.5,27.1 L642.5,35.0M654.7,13.0 L656.3,15.2M647.1,16.6 L663.9,16.6M651.3,18.6 L652.6,22.0M659.7,18.6 L658.4,22.0M647.1,23.3 L665.2,23.3M648.4,23.3 L648.4,29.2 L645.0,35.5M676.4,14.8 L684.1,14.8 L684.1,22.4 L676.4,22.4 L676.4,14.8M671.5,25.3 L678.9,25.3 L678.9,34.0 L671.5,34.0 L671.5,25.3M681.6,25.3 L689.0,25.3 L689.0,34.0 L681.6,34.0 L681.6,25.3M733.9,14.4 L733.9,27.9 L731.1,36.0M733.9,14.4 L745.9,14.4 L745.9,35.1 L743.5,35.5M733.9,21.3 L745.9,21.3M733.9,27.7 L745.9,27.7M790.2,15.6 L800.8,15.6 L800.8,32.6 L790.2,32.6 L790.2,15.6M790.2,24.0 L800.8,24.0M838.0,16.4 L844.4,16.4 L844.4,31.0 L838.0,31.0 L838.0,16.4M838.0,23.8 L844.4,23.8M845.4,19.8 L858.0,19.8M853.8,13.0 L853.8,34.4 L851.7,35.5M848.5,24.2 L850.6,27.9" fill="none" stroke="#000" stroke-width="1.15" stroke-linecap="square"/>
<path d="M362.3,792.5 L362.3,802.9 L360.5,810.5M365.9,791.5 L365.9,810.5M362.3,797.2 L367.7,797.2M362.3,802.9 L365.9,802.9M368.8,793.4 L378.5,792.3M369.5,793.4 L369.5,802.9 L367.7,810.5M370.4,798.1 L377.6,798.1 L370.4,810.5M372.2,801.0 L378.5,810.5M380.0,797.2 L386.3,797.2M383.2,791.5 L383.2,810.5M383.2,799.1 L380.0,804.8M383.6,799.1 L386.3,802.0M388.1,795.3 L397.1,795.3 L389.0,810.5M390.8,799.1 L398.0,810.5M400.4,793.4 L406.7,792.5M401.3,796.2 L406.7,796.2 L406.7,802.0 L401.3,802.0M401.3,796.2 L401.3,804.8 L399.5,810.5M415.7,792.5 L410.3,794.4M410.3,794.4 L410.3,802.9 L408.5,810.5M410.3,799.1 L417.5,799.1M414.8,799.1 L414.8,810.5M419.9,796.2 L436.1,796.2M427.1,791.5 L419.9,810.5M424.4,801.0 L424.4,810.5M424.4,801.0 L434.3,801.0 L434.3,810.5 L432.5,810.5M424.4,804.4 L434.3,804.4M424.4,807.6 L434.3,807.6M454.9,794.4 L471.1,794.4M463.0,791.5 L463.0,797.2M455.8,797.2 L455.8,810.5M455.8,797.2 L470.2,797.2 L470.2,810.5 L468.4,810.5M460.3,799.1 L461.2,801.0M465.7,799.1 L464.8,801.0M458.5,802.0 L467.5,802.0M458.5,805.8 L467.5,805.8M463.0,802.0 L463.0,810.5M482.3,791.5 L483.2,793.4M474.2,794.4 L490.4,794.4M476.9,797.2 L487.7,797.2 L487.7,802.9 L476.9,802.9 L476.9,797.2M482.3,802.9 L482.3,809.5 L480.5,810.5M478.7,805.8 L475.1,809.5M485.9,805.8 L489.5,809.5M493.5,798.1 L509.7,798.1M501.6,791.5 L501.6,798.1 L493.5,810.5M501.6,798.1 L509.7,810.5M515.5,791.5 L517.3,794.4M520.9,791.5 L520.9,794.4M526.3,791.5 L524.5,794.4M512.8,799.1 L512.8,796.2 L529.0,796.2 L529.0,799.1M516.4,800.0 L525.4,800.0 L520.9,802.9M511.9,804.8 L529.9,804.8M520.9,802.9 L520.9,810.5 L519.1,810.5M547.5,794.6 L561.9,794.6M554.7,791.7 L554.7,797.4M548.3,797.4 L548.3,810.7M548.3,797.4 L561.1,797.4 L561.1,810.7 L559.5,810.7M552.3,799.3 L553.1,801.2M557.1,799.3 L556.3,801.2M550.7,802.2 L558.7,802.2M550.7,806.0 L558.7,806.0M554.7,802.2 L554.7,810.7M573.8,791.7 L574.6,793.6M566.6,794.6 L581.0,794.6M569.0,797.4 L578.6,797.4 L578.6,803.1 L569.0,803.1 L569.0,797.4M573.8,803.1 L573.8,809.8 L572.2,810.7M570.6,806.0 L567.4,809.8M577.0,806.0 L580.2,809.8M590.6,791.7 L585.8,799.3M590.6,791.7 L595.4,799.3M587.4,801.2 L593.8,801.2 L593.8,805.0 L587.4,805.0M587.4,801.2 L587.4,809.8 L595.4,809.8M597.0,794.6 L597.0,805.0M601.0,791.7 L601.0,810.7 L599.4,810.7M605.9,794.6 L621.9,794.6M610.7,791.7 L610.7,796.5M617.1,791.7 L617.1,796.5M609.9,797.4 L609.9,803.1M612.3,797.4 L612.3,803.1M615.5,797.4 L613.9,802.2M615.5,799.3 L620.3,799.3M616.3,801.2 L617.9,803.1M607.5,805.0 L620.3,805.0 L620.3,809.8 L607.5,809.8 L607.5,805.0M611.8,805.0 L611.8,809.8M616.0,805.0 L616.0,809.8M605.9,810.3 L621.9,810.3M630.6,791.7 L625.8,793.6M625.0,797.4 L631.4,797.4M628.2,793.6 L628.2,810.7M628.2,799.3 L625.0,806.0M628.2,799.3 L631.4,803.1M633.8,793.6 L635.4,795.5M633.8,798.4 L635.4,800.2M632.2,804.1 L641.0,802.2M638.6,791.7 L638.6,810.7M645.0,797.4 L650.6,797.4M648.2,791.7 L648.2,809.8 L646.9,810.7M645.8,805.0 L650.6,802.2M652.2,796.5 L661.0,796.5M656.2,791.7 L656.2,800.2M653.0,800.2 L659.4,800.2 L653.0,810.7M654.6,803.1 L661.0,810.7M665.8,796.5 L680.2,796.5M672.2,791.7 L665.8,810.7M669.8,801.2 L669.8,810.7M669.8,801.2 L678.6,801.2 L678.6,810.7 L677.0,810.7M669.8,804.6 L678.6,804.6M669.8,807.9 L678.6,807.9M686.6,792.7 L686.6,810.7M686.6,792.7 L690.6,792.7 L688.2,798.4 L690.6,803.1 L687.4,805.0M693.0,792.7 L699.4,792.7 L699.4,801.2 L693.0,801.2M693.0,797.0 L699.4,797.0M693.0,792.7 L693.0,810.7 L696.2,806.9M695.4,803.1 L701.0,810.7M700.2,802.2 L697.8,805.0M710.6,791.7 L705.8,801.2M714.6,791.7 L721.0,801.2M712.2,801.2 L706.6,810.7 L718.6,808.8M716.2,805.0 L719.4,810.7M726.8,793.6 L739.6,793.6M739.6,793.6 L739.6,809.8 L738.0,810.7M726.8,798.4 L736.4,798.4M728.4,801.2 L735.6,801.2 L735.6,807.9 L728.4,807.9 L728.4,801.2" fill="none" stroke="#000" stroke-width="1.05" stroke-linecap="square"/>
</svg>
</body></html>
